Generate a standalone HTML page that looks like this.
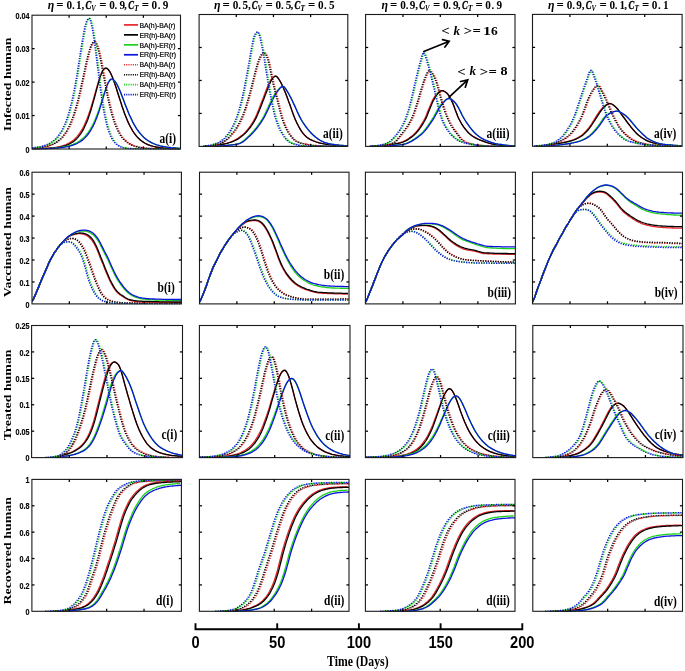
<!DOCTYPE html>
<html><head><meta charset="utf-8"><style>html,body{margin:0;padding:0;background:#fff;overflow:hidden}svg{display:block;will-change:transform}</style></head>
<body><svg width="685" height="671" viewBox="0 0 685 671">
<rect width="685" height="671" fill="#fff"/>
<clipPath id="cp00"><rect x="32.0" y="14.2" width="148.5" height="135.3"/></clipPath>
<g clip-path="url(#cp00)" fill="none" stroke-linejoin="round">
<path d="M32,148.8 34.7,148.8 36.1,148.7 37.4,148.7 38.8,148.6 40.2,148.6 41.5,148.5 42.9,148.5 44.3,148.4 45.6,148.3 47,148.2 48.3,148.1 49.7,148 51.1,147.9 52.4,147.7 53.8,147.6 55.2,147.4 56.5,147.2 57.9,146.9 59.2,146.6 60.6,146.3 62,145.9 63.3,145.5 64.7,145 66.1,144.5 67.4,143.9 68.8,143.2 70.1,142.4 71.5,141.5 72.9,140.5 74.2,139.4 75.6,138.1 77,136.6 78.3,135 79.7,133.2 81,131.1 82.4,128.8 83.8,126.2 85.1,123.3 86.5,120.1 87.9,116.6 89.2,112.8 90.6,108.6 91.9,104.2 93.3,99.6 94.7,94.8 96,89.9 97.4,85.2 98.8,80.7 100.1,76.6 101.5,73.2 102.8,70.5 104.2,68.9 105.6,68.3 106.9,68.6 108.3,69.8 109.7,71.7 111,74.2 112.4,77.3 113.7,80.9 115.1,84.8 116.5,88.9 117.8,93.2 119.2,97.5 120.6,101.8 121.9,105.9 123.3,109.9 124.6,113.7 126,117.2 127.4,120.5 128.7,123.5 130.1,126.3 131.5,128.8 132.8,131.1 134.2,133.1 135.5,135 136.9,136.6 138.3,138.1 139.6,139.4 141,140.5 142.4,141.6 143.7,142.5 145.1,143.3 146.4,144 147.8,144.6 149.2,145.1 150.5,145.6 151.9,146 153.3,146.4 154.6,146.7 156,147 157.3,147.3 158.7,147.5 160.1,147.7 161.4,147.8 162.8,148 164.2,148.1 165.5,148.2 166.9,148.3 168.2,148.4 169.6,148.5 171,148.5 172.3,148.6 173.7,148.6 175.1,148.7 176.4,148.7 177.8,148.8 180.5,148.8" stroke="#e8262a" stroke-width="1.3"/>
<path d="M32,148.9 33.4,148.9 34.7,148.8 38.8,148.8 40.2,148.7 41.5,148.7 42.9,148.6 44.3,148.6 45.6,148.5 47,148.5 48.3,148.4 49.7,148.3 51.1,148.2 52.4,148.1 53.8,147.9 55.2,147.8 56.5,147.6 57.9,147.4 59.2,147.2 60.6,146.9 62,146.6 63.3,146.2 64.7,145.8 66.1,145.4 67.4,144.9 68.8,144.3 70.1,143.6 71.5,142.8 72.9,141.9 74.2,140.9 75.6,139.7 77,138.4 78.3,136.9 79.7,135.2 81,133.3 82.4,131.1 83.8,128.6 85.1,125.8 86.5,122.7 87.9,119.3 89.2,115.4 90.6,111.3 91.9,106.8 93.3,101.9 94.7,96.9 96,91.8 97.4,86.6 98.8,81.7 100.1,77.3 101.5,73.4 102.8,70.5 104.2,68.6 105.6,68 106.9,68.3 108.3,69.5 109.7,71.4 111,73.9 112.4,77 113.7,80.6 115.1,84.5 116.5,88.7 117.8,93 119.2,97.3 120.6,101.6 121.9,105.8 123.3,109.8 124.6,113.6 126,117.1 127.4,120.4 128.7,123.4 130.1,126.2 131.5,128.7 132.8,131 134.2,133.1 135.5,134.9 136.9,136.6 138.3,138 139.6,139.3 141,140.5 142.4,141.5 143.7,142.4 145.1,143.2 146.4,143.9 147.8,144.6 149.2,145.1 150.5,145.6 151.9,146 153.3,146.4 154.6,146.7 156,147 157.3,147.2 158.7,147.5 160.1,147.7 161.4,147.8 162.8,148 164.2,148.1 165.5,148.2 166.9,148.3 168.2,148.4 169.6,148.5 171,148.5 172.3,148.6 173.7,148.6 175.1,148.7 176.4,148.7 177.8,148.8 180.5,148.8" stroke="#000000" stroke-width="1.3"/>
<path d="M32,148.9 33.4,148.8 37.4,148.8 38.8,148.7 41.5,148.7 42.9,148.6 44.3,148.6 45.6,148.5 47,148.5 48.3,148.4 49.7,148.4 51.1,148.3 52.4,148.2 53.8,148.1 55.2,148 56.5,147.8 57.9,147.7 59.2,147.5 60.6,147.4 62,147.2 63.3,146.9 64.7,146.7 66.1,146.4 67.4,146.1 68.8,145.7 70.1,145.3 71.5,144.9 72.9,144.4 74.2,143.8 75.6,143.2 77,142.5 78.3,141.7 79.7,140.8 81,139.8 82.4,138.7 83.8,137.5 85.1,136.1 86.5,134.5 87.9,132.8 89.2,130.8 90.6,128.6 91.9,126.2 93.3,123.5 94.7,120.6 96,117.3 97.4,113.8 98.8,110 100.1,106 101.5,101.7 102.8,97.4 104.2,93.1 105.6,89.1 106.9,85.5 108.3,82.5 109.7,80.5 111,79.4 112.4,79.5 113.7,80.3 115.1,81.7 116.5,83.7 117.8,86.3 119.2,89.2 120.6,92.5 121.9,96 123.3,99.5 124.6,103.1 126,106.7 127.4,110.1 128.7,113.4 130.1,116.5 131.5,119.4 132.8,122.2 134.2,124.7 135.5,127 136.9,129.2 138.3,131.1 139.6,132.9 141,134.5 142.4,136 143.7,137.3 145.1,138.5 146.4,139.5 147.8,140.5 149.2,141.4 150.5,142.2 151.9,142.9 153.3,143.5 154.6,144.1 156,144.6 157.3,145 158.7,145.4 160.1,145.8 161.4,146.1 162.8,146.4 164.2,146.7 165.5,146.9 166.9,147.2 168.2,147.3 169.6,147.5 171,147.7 172.3,147.8 173.7,147.9 175.1,148 176.4,148.1 177.8,148.2 179.1,148.3 180.5,148.4" stroke="#1ad21a" stroke-width="1.3"/>
<path d="M32,148.9 36.1,148.9 37.4,148.8 41.5,148.8 42.9,148.7 45.6,148.7 47,148.6 48.3,148.6 49.7,148.5 51.1,148.5 52.4,148.4 53.8,148.3 55.2,148.2 56.5,148.1 57.9,148 59.2,147.9 60.6,147.7 62,147.6 63.3,147.4 64.7,147.2 66.1,146.9 67.4,146.7 68.8,146.4 70.1,146 71.5,145.6 72.9,145.2 74.2,144.7 75.6,144.2 77,143.5 78.3,142.8 79.7,142 81,141.1 82.4,140.1 83.8,138.9 85.1,137.6 86.5,136.2 87.9,134.5 89.2,132.7 90.6,130.6 91.9,128.2 93.3,125.6 94.7,122.7 96,119.5 97.4,115.9 98.8,112 100.1,107.9 101.5,103.4 102.8,98.9 104.2,94.3 105.6,89.9 106.9,85.9 108.3,82.6 109.7,80.3 111,79.1 112.4,79.2 113.7,80 115.1,81.4 116.5,83.5 117.8,86 119.2,89 120.6,92.3 121.9,95.7 123.3,99.3 124.6,102.9 126,106.5 127.4,109.9 128.7,113.2 130.1,116.4 131.5,119.3 132.8,122.1 134.2,124.6 135.5,126.9 136.9,129.1 138.3,131 139.6,132.8 141,134.4 142.4,135.9 143.7,137.2 145.1,138.4 146.4,139.5 147.8,140.5 149.2,141.3 150.5,142.1 151.9,142.8 153.3,143.5 154.6,144 156,144.6 157.3,145 158.7,145.4 160.1,145.8 161.4,146.1 162.8,146.4 164.2,146.7 165.5,146.9 166.9,147.1 168.2,147.3 169.6,147.5 171,147.7 172.3,147.8 173.7,147.9 175.1,148 176.4,148.1 177.8,148.2 179.1,148.3 180.5,148.4" stroke="#0b14dc" stroke-width="1.3"/>
<path d="M33,148.3 34.4,148.2 35.7,148.1 37.1,148 38.4,147.9 39.8,147.7 41.2,147.5 42.5,147.3 43.9,147.1 45.3,146.8 46.6,146.5 48,146.2 49.3,145.8 50.7,145.3 52.1,144.8 53.4,144.3 54.8,143.6 56.2,142.8 57.5,142 58.9,141 60.2,139.9 61.6,138.7 63,137.3 64.3,135.7 65.7,133.9 67.1,131.8 68.4,129.5 69.8,126.9 71.1,124 72.5,120.7 73.9,117.1 75.2,113 76.6,108.5 78,103.7 79.3,98.4 80.7,92.7 82,86.6 83.4,80.4 84.8,74 86.1,67.6 87.5,61.4 88.9,55.7 90.2,50.7 91.6,46.6 92.9,43.6 94.3,42 95.7,41.8 97,43.5 98.4,46.8 99.8,51.7 101.1,57.7 102.5,64.6 103.8,71.9 105.2,79.3 106.6,86.6 107.9,93.6 109.3,100.1 110.7,106.1 112,111.5 113.4,116.4 114.7,120.7 116.1,124.5 117.5,127.8 118.8,130.7 120.2,133.3 121.6,135.5 122.9,137.4 124.3,139 125.6,140.4 127,141.6 128.4,142.7 129.7,143.6 131.1,144.4 132.5,145 133.8,145.6 135.2,146.1 136.5,146.5 137.9,146.8 139.3,147.2 140.6,147.4 142,147.6 143.4,147.8 144.7,148 146.1,148.1 147.4,148.3 148.8,148.4 150.2,148.5 151.5,148.5 152.9,148.6 154.3,148.7 155.6,148.7 157,148.8 161.1,148.8 162.4,148.9 170.6,148.9 172,149 181.5,149" stroke="#e8262a" stroke-width="1.5" stroke-dasharray="1.2 1.3"/>
<path d="M32,148.3 33.4,148.2 34.7,148.1 36.1,148 37.4,147.9 38.8,147.7 40.2,147.5 41.5,147.3 42.9,147.1 44.3,146.8 45.6,146.5 47,146.2 48.3,145.8 49.7,145.3 51.1,144.8 52.4,144.3 53.8,143.6 55.2,142.8 56.5,142 57.9,141 59.2,139.9 60.6,138.7 62,137.3 63.3,135.7 64.7,133.9 66.1,131.8 67.4,129.5 68.8,126.9 70.1,124 71.5,120.7 72.9,117.1 74.2,113 75.6,108.5 77,103.7 78.3,98.4 79.7,92.7 81,86.6 82.4,80.4 83.8,74 85.1,67.6 86.5,61.4 87.9,55.7 89.2,50.7 90.6,46.6 91.9,43.6 93.3,42 94.7,41.8 96,43.5 97.4,46.8 98.8,51.7 100.1,57.7 101.5,64.6 102.8,71.9 104.2,79.3 105.6,86.6 106.9,93.6 108.3,100.1 109.7,106.1 111,111.5 112.4,116.4 113.7,120.7 115.1,124.5 116.5,127.8 117.8,130.7 119.2,133.3 120.6,135.5 121.9,137.4 123.3,139 124.6,140.4 126,141.6 127.4,142.7 128.7,143.6 130.1,144.4 131.5,145 132.8,145.6 134.2,146.1 135.5,146.5 136.9,146.8 138.3,147.2 139.6,147.4 141,147.6 142.4,147.8 143.7,148 145.1,148.1 146.4,148.3 147.8,148.4 149.2,148.5 150.5,148.5 151.9,148.6 153.3,148.7 154.6,148.7 156,148.8 160.1,148.8 161.4,148.9 169.6,148.9 171,149 180.5,149" stroke="#000000" stroke-width="1.5" stroke-dasharray="1.2 1.3"/>
<path d="M33,148 34.4,147.8 35.7,147.6 37.1,147.5 38.4,147.2 39.8,147 41.2,146.7 42.5,146.4 43.9,146 45.3,145.6 46.6,145.1 48,144.6 49.3,143.9 50.7,143.2 52.1,142.4 53.4,141.5 54.8,140.4 56.2,139.2 57.5,137.9 58.9,136.3 60.2,134.5 61.6,132.5 63,130.2 64.3,127.5 65.7,124.5 67.1,121.2 68.4,117.3 69.8,113 71.1,108.1 72.5,102.7 73.9,96.6 75.2,89.9 76.6,82.6 78,74.6 79.3,66.2 80.7,57.5 82,48.8 83.4,40.3 84.8,32.6 86.1,26.1 87.5,21.4 88.9,18.7 90.2,18.4 91.6,21 92.9,26.5 94.3,34.2 95.7,43.8 97,54.4 98.4,65.6 99.8,76.6 101.1,87.2 102.5,96.9 103.8,105.7 105.2,113.3 106.6,119.9 107.9,125.5 109.3,130.1 110.7,133.9 112,137 113.4,139.5 114.7,141.5 116.1,143.1 117.5,144.4 118.8,145.4 120.2,146.2 121.6,146.8 122.9,147.3 124.3,147.7 125.6,148 127,148.2 128.4,148.4 129.7,148.5 131.1,148.6 132.5,148.7 133.8,148.8 135.2,148.8 136.5,148.9 140.6,148.9 142,149 181.5,149" stroke="#1ad21a" stroke-width="1.5" stroke-dasharray="1.2 1.3"/>
<path d="M32,148 33.4,147.8 34.7,147.6 36.1,147.5 37.4,147.2 38.8,147 40.2,146.7 41.5,146.4 42.9,146 44.3,145.6 45.6,145.1 47,144.6 48.3,143.9 49.7,143.2 51.1,142.4 52.4,141.5 53.8,140.4 55.2,139.2 56.5,137.9 57.9,136.3 59.2,134.5 60.6,132.5 62,130.2 63.3,127.5 64.7,124.5 66.1,121.2 67.4,117.3 68.8,113 70.1,108.1 71.5,102.7 72.9,96.6 74.2,89.9 75.6,82.6 77,74.6 78.3,66.2 79.7,57.5 81,48.8 82.4,40.3 83.8,32.6 85.1,26.1 86.5,21.4 87.9,18.7 89.2,18.4 90.6,21 91.9,26.5 93.3,34.2 94.7,43.8 96,54.4 97.4,65.6 98.8,76.6 100.1,87.2 101.5,96.9 102.8,105.7 104.2,113.3 105.6,119.9 106.9,125.5 108.3,130.1 109.7,133.9 111,137 112.4,139.5 113.7,141.5 115.1,143.1 116.5,144.4 117.8,145.4 119.2,146.2 120.6,146.8 121.9,147.3 123.3,147.7 124.6,148 126,148.2 127.4,148.4 128.7,148.5 130.1,148.6 131.5,148.7 132.8,148.8 134.2,148.8 135.5,148.9 139.6,148.9 141,149 180.5,149" stroke="#0b14dc" stroke-width="1.5" stroke-dasharray="1.2 1.3"/>
</g>
<rect x="32.0" y="15.2" width="148.50" height="133.80" fill="none" stroke="#1a1a1a" stroke-width="1.1"/>
<line x1="69.12" y1="15.2" x2="69.12" y2="17.8" stroke="#000" stroke-width="1.25"/>
<line x1="69.12" y1="149.0" x2="69.12" y2="146.4" stroke="#000" stroke-width="1.25"/>
<line x1="106.25" y1="15.2" x2="106.25" y2="17.8" stroke="#000" stroke-width="1.25"/>
<line x1="106.25" y1="149.0" x2="106.25" y2="146.4" stroke="#000" stroke-width="1.25"/>
<line x1="143.38" y1="15.2" x2="143.38" y2="17.8" stroke="#000" stroke-width="1.25"/>
<line x1="143.38" y1="149.0" x2="143.38" y2="146.4" stroke="#000" stroke-width="1.25"/>
<line x1="32.0" y1="115.55" x2="34.6" y2="115.55" stroke="#000" stroke-width="1.25"/>
<line x1="180.5" y1="115.55" x2="177.9" y2="115.55" stroke="#000" stroke-width="1.25"/>
<line x1="32.0" y1="82.10" x2="34.6" y2="82.10" stroke="#000" stroke-width="1.25"/>
<line x1="180.5" y1="82.10" x2="177.9" y2="82.10" stroke="#000" stroke-width="1.25"/>
<line x1="32.0" y1="48.65" x2="34.6" y2="48.65" stroke="#000" stroke-width="1.25"/>
<line x1="180.5" y1="48.65" x2="177.9" y2="48.65" stroke="#000" stroke-width="1.25"/>
<text x="0" y="0" transform="translate(29.5,152.60) scale(0.82,1)" text-anchor="end" font-family='"Liberation Sans", sans-serif' font-weight="bold" font-size="8.8" stroke="#000" stroke-width="0.15">0</text>
<text x="0" y="0" transform="translate(29.5,119.15) scale(0.82,1)" text-anchor="end" font-family='"Liberation Sans", sans-serif' font-weight="bold" font-size="8.8" stroke="#000" stroke-width="0.15">0.01</text>
<text x="0" y="0" transform="translate(29.5,85.70) scale(0.82,1)" text-anchor="end" font-family='"Liberation Sans", sans-serif' font-weight="bold" font-size="8.8" stroke="#000" stroke-width="0.15">0.02</text>
<text x="0" y="0" transform="translate(29.5,52.25) scale(0.82,1)" text-anchor="end" font-family='"Liberation Sans", sans-serif' font-weight="bold" font-size="8.8" stroke="#000" stroke-width="0.15">0.03</text>
<text x="0" y="0" transform="translate(29.5,18.80) scale(0.82,1)" text-anchor="end" font-family='"Liberation Sans", sans-serif' font-weight="bold" font-size="8.8" stroke="#000" stroke-width="0.15">0.04</text>
<text transform="translate(176.10,142.60) scale(0.83,1)" text-anchor="end" font-family='"Liberation Serif", serif' font-weight="bold" font-size="13.8">a(i)</text>
<clipPath id="cp01"><rect x="199.1" y="13.5" width="148.70000000000002" height="133.4"/></clipPath>
<g clip-path="url(#cp01)" fill="none" stroke-linejoin="round">
<path d="M204,146.2 205.3,146.2 206.6,146.1 208,146 209.3,145.9 210.6,145.8 211.9,145.7 213.2,145.6 214.6,145.4 215.9,145.2 217.2,145.1 218.5,144.9 219.8,144.7 221.2,144.5 222.5,144.2 223.8,143.9 225.1,143.6 226.4,143.3 227.7,142.9 229.1,142.5 230.4,142 231.7,141.6 233,141 234.3,140.4 235.7,139.7 237,138.9 238.3,138.1 239.6,137.1 240.9,136.1 242.3,135 243.6,133.9 244.9,132.6 246.2,131.1 247.5,129.6 248.9,127.9 250.2,126.1 251.5,124.1 252.8,122 254.1,119.7 255.5,117.2 256.8,114.3 258.1,111.1 259.4,107.8 260.7,104.3 262,100.9 263.4,97.5 264.7,94 266,90.6 267.3,87.2 268.6,84 270,81.2 271.3,79.2 272.6,77.8 273.9,76.7 275.2,76.2 276.6,76.4 277.9,77.8 279.2,79.8 280.5,82 281.8,84.6 283.2,87.4 284.5,90.4 285.8,93.7 287.1,97.2 288.4,100.8 289.8,104.5 291.1,108.3 292.4,112.1 293.7,115.6 295,118.9 296.3,121.8 297.7,124.5 299,127 300.3,129.3 301.6,131.4 302.9,133.2 304.3,134.8 305.6,136.1 306.9,137.3 308.2,138.2 309.5,139 310.9,139.7 312.2,140.3 313.5,140.9 314.8,141.4 316.1,141.9 317.5,142.3 318.8,142.7 320.1,143.1 321.4,143.4 322.7,143.6 324.1,143.9 325.4,144.1 326.7,144.3 328,144.4 329.3,144.6 330.6,144.8 332,144.9 333.3,145 334.6,145.2 335.9,145.3 337.2,145.4 338.6,145.5 339.9,145.6 341.2,145.8 342.5,145.9 343.8,145.9 345.2,146 346.5,146.1 347.8,146.2" stroke="#e8262a" stroke-width="1.3"/>
<path d="M205,146.2 206.3,146.2 207.6,146.1 208.9,146 210.2,145.9 211.6,145.8 212.9,145.7 214.2,145.6 215.5,145.4 216.8,145.3 218.1,145.1 219.4,144.9 220.7,144.7 222,144.5 223.3,144.2 224.7,144 226,143.6 227.3,143.3 228.6,142.9 229.9,142.5 231.2,142.1 232.5,141.6 233.8,141.1 235.1,140.5 236.4,139.8 237.8,139.1 239.1,138.2 240.4,137.3 241.7,136.3 243,135.3 244.3,134.1 245.6,132.9 246.9,131.5 248.2,129.9 249.5,128.3 250.9,126.5 252.2,124.6 253.5,122.6 254.8,120.4 256.1,117.9 257.4,115.1 258.7,112 260,108.8 261.3,105.4 262.6,102 264,98.5 265.3,95.1 266.6,91.7 267.9,88.3 269.2,85.1 270.5,82 271.8,79.6 273.1,77.9 274.4,76.6 275.7,76.1 277.1,76.8 278.4,78.5 279.7,80.5 281,82.8 282.3,85.5 283.6,88.4 284.9,91.5 286.2,94.8 287.5,98.3 288.8,101.9 290.2,105.6 291.5,109.4 292.8,113.1 294.1,116.6 295.4,119.7 296.7,122.6 298,125.2 299.3,127.6 300.6,129.9 301.9,131.9 303.3,133.6 304.6,135.1 305.9,136.4 307.2,137.5 308.5,138.4 309.8,139.2 311.1,139.9 312.4,140.5 313.7,141 315,141.5 316.4,142 317.7,142.4 319,142.8 320.3,143.1 321.6,143.4 322.9,143.7 324.2,143.9 325.5,144.1 326.8,144.3 328.1,144.5 329.5,144.6 330.8,144.8 332.1,144.9 333.4,145.1 334.7,145.2 336,145.3 337.3,145.4 338.6,145.5 339.9,145.6 341.2,145.8 342.6,145.9 343.9,145.9 345.2,146 346.5,146.1 347.8,146.2" stroke="#000000" stroke-width="1.3"/>
<path d="M209,146.2 212.8,146.2 214.1,146.1 215.4,146.1 216.6,146 217.9,146 219.2,145.9 220.5,145.8 221.7,145.8 223,145.7 224.3,145.6 225.6,145.5 226.8,145.3 228.1,145.2 229.4,145.1 230.6,144.9 231.9,144.8 233.2,144.6 234.5,144.4 235.7,144.2 237,144 238.3,143.7 239.6,143.2 240.8,142.5 242.1,141.7 243.4,140.7 244.7,139.7 245.9,138.5 247.2,137.4 248.5,136.2 249.7,134.9 251,133.7 252.3,132.3 253.6,130.9 254.8,129.4 256.1,127.9 257.4,126.2 258.7,124.4 259.9,122.6 261.2,120.6 262.5,118.5 263.8,116.2 265,113.7 266.3,111 267.6,108.2 268.8,105.5 270.1,102.8 271.4,100.3 272.7,97.8 273.9,95.4 275.2,93.4 276.5,91.6 277.8,90 279,88.7 280.3,87.5 281.6,86.7 282.9,86.4 284.1,86.9 285.4,88.4 286.7,90.4 288,92.5 289.2,94.7 290.5,97.1 291.8,99.6 293,102.3 294.3,105.1 295.6,107.9 296.9,110.7 298.1,113.6 299.4,116.2 300.7,118.7 302,120.9 303.2,122.9 304.5,124.8 305.8,126.6 307.1,128.2 308.3,129.8 309.6,131.3 310.9,132.7 312.1,134 313.4,135.2 314.7,136.4 316,137.5 317.2,138.4 318.5,139.3 319.8,140 321.1,140.8 322.3,141.4 323.6,142 324.9,142.5 326.2,142.9 327.4,143.2 328.7,143.5 330,143.8 331.2,144 332.5,144.3 333.8,144.5 335.1,144.6 336.3,144.8 337.6,145 338.9,145.1 340.2,145.3 341.4,145.4 342.7,145.5 344,145.7 345.3,145.8 346.5,145.9 347.8,145.9" stroke="#1ad21a" stroke-width="1.3"/>
<path d="M210,146.2 213.8,146.2 215.1,146.1 216.3,146.1 217.6,146 218.8,146 220.1,145.9 221.4,145.8 222.6,145.8 223.9,145.7 225.2,145.6 226.4,145.5 227.7,145.3 229,145.2 230.2,145.1 231.5,144.9 232.8,144.8 234,144.6 235.3,144.5 236.5,144.3 237.8,144 239.1,143.7 240.3,143.3 241.6,142.6 242.9,141.9 244.1,140.9 245.4,139.9 246.7,138.8 247.9,137.6 249.2,136.4 250.5,135.2 251.7,134 253,132.7 254.2,131.3 255.5,129.8 256.8,128.3 258,126.7 259.3,124.9 260.6,123.1 261.8,121.2 263.1,119.2 264.4,116.9 265.6,114.5 266.9,111.9 268.2,109.2 269.4,106.4 270.7,103.7 271.9,101.2 273.2,98.7 274.5,96.3 275.7,94.1 277,92.1 278.3,90.4 279.5,88.8 280.8,87.4 282.1,86.6 283.3,86.5 284.6,87.4 285.9,89.1 287.1,91.1 288.4,93.2 289.6,95.5 290.9,97.9 292.2,100.5 293.4,103.2 294.7,105.9 296,108.7 297.2,111.6 298.5,114.3 299.8,116.9 301,119.3 302.3,121.5 303.6,123.4 304.8,125.2 306.1,127 307.3,128.6 308.6,130.1 309.9,131.6 311.1,133 312.4,134.3 313.7,135.5 314.9,136.6 316.2,137.6 317.5,138.6 318.7,139.4 320,140.2 321.3,140.9 322.5,141.5 323.8,142.1 325,142.6 326.3,142.9 327.6,143.3 328.8,143.6 330.1,143.8 331.4,144.1 332.6,144.3 333.9,144.5 335.2,144.7 336.4,144.8 337.7,145 339,145.1 340.2,145.3 341.5,145.4 342.7,145.5 344,145.7 345.3,145.8 346.5,145.9 347.8,145.9" stroke="#0b14dc" stroke-width="1.3"/>
<path d="M206,146.2 207.3,146.1 208.6,146.1 209.9,145.9 211.2,145.8 212.6,145.6 213.9,145.3 215.2,145 216.5,144.7 217.8,144.4 219.1,144 220.4,143.6 221.7,143.1 223,142.6 224.3,141.9 225.7,141 227,140 228.3,138.8 229.6,137.5 230.9,136.1 232.2,134.7 233.5,133.2 234.8,131.5 236.1,129.7 237.4,127.7 238.8,125.5 240.1,123.2 241.4,120.7 242.7,117.8 244,114.7 245.3,111.2 246.6,107.4 247.9,103.3 249.2,98.9 250.5,94.1 251.9,89 253.2,83.8 254.5,78.5 255.8,73.3 257.1,68.3 258.4,63.8 259.7,60.1 261,57.1 262.3,54.6 263.6,52.9 265,52.4 266.3,53.7 267.6,56.3 268.9,59.9 270.2,65.1 271.5,71.6 272.8,77.9 274.1,83.9 275.4,89.3 276.7,94.5 278.1,99.6 279.4,104.9 280.7,110.2 282,115.1 283.3,119.4 284.6,123.1 285.9,126.2 287.2,129 288.5,131.5 289.8,133.6 291.2,135.5 292.5,137.1 293.8,138.6 295.1,139.9 296.4,140.9 297.7,141.7 299,142.2 300.3,142.7 301.6,143.1 302.9,143.5 304.3,143.8 305.6,144.1 306.9,144.3 308.2,144.6 309.5,144.8 310.8,144.9 312.1,145.1 313.4,145.3 314.7,145.4 316,145.5 317.4,145.7 318.7,145.8 320,145.9 321.3,146 322.6,146.1 323.9,146.1 325.2,146.2 329.1,146.2 330.5,146.3 337,146.3 338.3,146.4 348.8,146.4" stroke="#e8262a" stroke-width="1.5" stroke-dasharray="1.2 1.3"/>
<path d="M205,146.2 206.3,146.1 207.6,146.1 208.9,145.9 210.2,145.8 211.6,145.6 212.9,145.3 214.2,145 215.5,144.7 216.8,144.4 218.1,144 219.4,143.6 220.7,143.1 222,142.6 223.3,141.9 224.7,141 226,140 227.3,138.8 228.6,137.5 229.9,136.1 231.2,134.7 232.5,133.2 233.8,131.5 235.1,129.7 236.4,127.7 237.8,125.5 239.1,123.2 240.4,120.7 241.7,117.8 243,114.7 244.3,111.2 245.6,107.4 246.9,103.3 248.2,98.9 249.5,94.1 250.9,89 252.2,83.8 253.5,78.5 254.8,73.3 256.1,68.3 257.4,63.8 258.7,60.1 260,57.1 261.3,54.6 262.6,52.9 264,52.4 265.3,53.7 266.6,56.3 267.9,59.9 269.2,65.1 270.5,71.6 271.8,77.9 273.1,83.9 274.4,89.3 275.7,94.5 277.1,99.6 278.4,104.9 279.7,110.2 281,115.1 282.3,119.4 283.6,123.1 284.9,126.2 286.2,129 287.5,131.5 288.8,133.6 290.2,135.5 291.5,137.1 292.8,138.6 294.1,139.9 295.4,140.9 296.7,141.7 298,142.2 299.3,142.7 300.6,143.1 301.9,143.5 303.3,143.8 304.6,144.1 305.9,144.3 307.2,144.6 308.5,144.8 309.8,144.9 311.1,145.1 312.4,145.3 313.7,145.4 315,145.5 316.4,145.7 317.7,145.8 319,145.9 320.3,146 321.6,146.1 322.9,146.1 324.2,146.2 328.1,146.2 329.5,146.3 336,146.3 337.3,146.4 347.8,146.4" stroke="#000000" stroke-width="1.5" stroke-dasharray="1.2 1.3"/>
<path d="M204,146.2 205.3,146.1 206.7,146 208,145.9 209.3,145.6 210.6,145.4 212,145.1 213.3,144.7 214.6,144.3 216,143.9 217.3,143.4 218.6,142.9 219.9,142.3 221.3,141.5 222.6,140.5 223.9,139.4 225.3,138.2 226.6,136.8 227.9,135.3 229.2,133.7 230.6,131.8 231.9,129.6 233.2,127.2 234.6,124.6 235.9,121.7 237.2,118.4 238.5,114.7 239.9,110.5 241.2,105.8 242.5,100.6 243.9,94.8 245.2,88.3 246.5,81.5 247.8,74.5 249.2,67.2 250.5,59.7 251.8,51.9 253.2,44.3 254.5,38.2 255.8,34.7 257.1,32.6 258.5,31.8 259.8,33.7 261.1,37.9 262.5,44.6 263.8,50.9 265.1,58.5 266.4,66.7 267.8,75.2 269.1,83.4 270.4,90.8 271.8,97.6 273.1,104.1 274.4,110.2 275.7,115.6 277.1,120.2 278.4,124 279.7,127.2 281,130.1 282.4,132.5 283.7,134.7 285,136.7 286.4,138.4 287.7,140 289,141.2 290.3,142.2 291.7,142.9 293,143.4 294.3,143.8 295.7,144.3 297,144.6 298.3,144.9 299.6,145.2 301,145.5 302.3,145.7 303.6,145.8 305,145.9 306.3,146 307.6,146.1 310.3,146.1 311.6,146.2 315.6,146.2 316.9,146.3 328.9,146.3 330.2,146.4 348.8,146.4" stroke="#1ad21a" stroke-width="1.5" stroke-dasharray="1.2 1.3"/>
<path d="M203,146.2 204.3,146.1 205.7,146 207,145.9 208.3,145.6 209.6,145.4 211,145.1 212.3,144.7 213.6,144.3 215,143.9 216.3,143.4 217.6,142.9 218.9,142.3 220.3,141.5 221.6,140.5 222.9,139.4 224.3,138.2 225.6,136.8 226.9,135.3 228.2,133.7 229.6,131.8 230.9,129.6 232.2,127.2 233.6,124.6 234.9,121.7 236.2,118.4 237.5,114.7 238.9,110.5 240.2,105.8 241.5,100.6 242.9,94.8 244.2,88.3 245.5,81.5 246.8,74.5 248.2,67.2 249.5,59.7 250.8,51.9 252.2,44.3 253.5,38.2 254.8,34.7 256.1,32.6 257.5,31.8 258.8,33.7 260.1,37.9 261.5,44.6 262.8,50.9 264.1,58.5 265.4,66.7 266.8,75.2 268.1,83.4 269.4,90.8 270.8,97.6 272.1,104.1 273.4,110.2 274.7,115.6 276.1,120.2 277.4,124 278.7,127.2 280,130.1 281.4,132.5 282.7,134.7 284,136.7 285.4,138.4 286.7,140 288,141.2 289.3,142.2 290.7,142.9 292,143.4 293.3,143.8 294.7,144.3 296,144.6 297.3,144.9 298.6,145.2 300,145.5 301.3,145.7 302.6,145.8 304,145.9 305.3,146 306.6,146.1 309.3,146.1 310.6,146.2 314.6,146.2 315.9,146.3 327.9,146.3 329.2,146.4 347.8,146.4" stroke="#0b14dc" stroke-width="1.5" stroke-dasharray="1.2 1.3"/>
</g>
<rect x="199.1" y="14.5" width="148.70" height="131.90" fill="none" stroke="#1a1a1a" stroke-width="1.1"/>
<line x1="236.28" y1="14.5" x2="236.28" y2="17.1" stroke="#000" stroke-width="1.25"/>
<line x1="236.28" y1="146.4" x2="236.28" y2="143.8" stroke="#000" stroke-width="1.25"/>
<line x1="273.45" y1="14.5" x2="273.45" y2="17.1" stroke="#000" stroke-width="1.25"/>
<line x1="273.45" y1="146.4" x2="273.45" y2="143.8" stroke="#000" stroke-width="1.25"/>
<line x1="310.62" y1="14.5" x2="310.62" y2="17.1" stroke="#000" stroke-width="1.25"/>
<line x1="310.62" y1="146.4" x2="310.62" y2="143.8" stroke="#000" stroke-width="1.25"/>
<line x1="199.1" y1="113.43" x2="201.7" y2="113.43" stroke="#000" stroke-width="1.25"/>
<line x1="347.8" y1="113.43" x2="345.2" y2="113.43" stroke="#000" stroke-width="1.25"/>
<line x1="199.1" y1="80.45" x2="201.7" y2="80.45" stroke="#000" stroke-width="1.25"/>
<line x1="347.8" y1="80.45" x2="345.2" y2="80.45" stroke="#000" stroke-width="1.25"/>
<line x1="199.1" y1="47.48" x2="201.7" y2="47.48" stroke="#000" stroke-width="1.25"/>
<line x1="347.8" y1="47.48" x2="345.2" y2="47.48" stroke="#000" stroke-width="1.25"/>
<text transform="translate(342.70,137.70) scale(0.83,1)" text-anchor="end" font-family='"Liberation Serif", serif' font-weight="bold" font-size="13.8">a(ii)</text>
<clipPath id="cp02"><rect x="365.6" y="13.5" width="149.39999999999998" height="133.4"/></clipPath>
<g clip-path="url(#cp02)" fill="none" stroke-linejoin="round">
<path d="M369,146.3 370.3,146.3 371.7,146.2 373,146.1 374.4,146.1 375.7,146 377,145.9 378.4,145.8 379.7,145.6 381.1,145.5 382.4,145.4 383.7,145.3 385.1,145.1 386.4,145 387.8,144.8 389.1,144.7 390.4,144.5 391.8,144.3 393.1,144.1 394.4,143.9 395.8,143.6 397.1,143.3 398.5,143 399.8,142.7 401.1,142.3 402.5,141.9 403.8,141.3 405.2,140.7 406.5,139.9 407.8,139.1 409.2,138.1 410.5,137.1 411.9,136.1 413.2,134.9 414.5,133.6 415.9,132.2 417.2,130.6 418.6,128.8 419.9,126.9 421.2,124.9 422.6,122.7 423.9,120.3 425.3,117.6 426.6,114.5 427.9,111.1 429.3,107.7 430.6,104.4 432,101.4 433.3,98.8 434.6,96.6 436,94.8 437.3,93.3 438.7,92.1 440,91.1 441.3,90.6 442.7,90.7 444,91.2 445.3,92 446.7,93 448,94.5 449.4,96.4 450.7,98.7 452,101.5 453.4,104.7 454.7,108.2 456.1,111.9 457.4,115.4 458.7,118.5 460.1,121.2 461.4,123.5 462.8,125.6 464.1,127.5 465.4,129.3 466.8,130.9 468.1,132.4 469.5,133.7 470.8,134.8 472.1,135.8 473.5,136.7 474.8,137.5 476.2,138.2 477.5,138.9 478.8,139.5 480.2,140.1 481.5,140.6 482.9,141.1 484.2,141.6 485.5,142.1 486.9,142.5 488.2,142.9 489.6,143.3 490.9,143.6 492.2,143.9 493.6,144.2 494.9,144.5 496.2,144.7 497.6,144.9 498.9,145.1 500.3,145.3 501.6,145.5 502.9,145.6 504.3,145.8 505.6,145.9 507,146 508.3,146 509.6,146.1 511,146.2 512.3,146.2 513.7,146.3 515,146.3" stroke="#e8262a" stroke-width="1.3"/>
<path d="M370,146.3 371.3,146.3 372.7,146.2 374,146.1 375.3,146.1 376.7,146 378,145.9 379.3,145.8 380.6,145.7 382,145.5 383.3,145.4 384.6,145.3 386,145.1 387.3,145 388.6,144.8 390,144.7 391.3,144.5 392.6,144.3 393.9,144.1 395.3,143.9 396.6,143.6 397.9,143.4 399.3,143.1 400.6,142.8 401.9,142.4 403.3,142 404.6,141.4 405.9,140.8 407.2,140.1 408.6,139.3 409.9,138.3 411.2,137.4 412.6,136.3 413.9,135.2 415.2,133.9 416.6,132.6 417.9,131 419.2,129.3 420.6,127.4 421.9,125.4 423.2,123.3 424.5,121 425.9,118.4 427.2,115.4 428.5,112.1 429.9,108.7 431.2,105.4 432.5,102.3 433.9,99.6 435.2,97.3 436.5,95.3 437.8,93.7 439.2,92.2 440.5,91 441.8,90.6 443.2,90.9 444.5,91.5 445.8,92.3 447.2,93.4 448.5,95.1 449.8,97.2 451.1,99.6 452.5,102.5 453.8,105.8 455.1,109.4 456.5,113 457.8,116.4 459.1,119.3 460.5,121.8 461.8,124.1 463.1,126.1 464.4,128 465.8,129.7 467.1,131.3 468.4,132.7 469.8,134 471.1,135.1 472.4,136 473.8,136.9 475.1,137.6 476.4,138.4 477.8,139 479.1,139.6 480.4,140.2 481.7,140.7 483.1,141.2 484.4,141.7 485.7,142.1 487.1,142.6 488.4,143 489.7,143.3 491.1,143.7 492.4,144 493.7,144.2 495,144.5 496.4,144.7 497.7,144.9 499,145.1 500.4,145.3 501.7,145.5 503,145.6 504.4,145.8 505.7,145.9 507,146 508.3,146 509.7,146.1 511,146.2 512.3,146.2 513.7,146.3 515,146.3" stroke="#000000" stroke-width="1.3"/>
<path d="M374,146.3 377.9,146.3 379.2,146.2 380.5,146.2 381.8,146.1 383.1,146.1 384.3,146 385.6,146 386.9,145.9 388.2,145.8 389.5,145.7 390.8,145.6 392.1,145.5 393.4,145.4 394.7,145.3 396,145.2 397.3,145 398.6,144.9 399.9,144.8 401.2,144.6 402.5,144.4 403.8,144.1 405,143.7 406.3,143.3 407.6,142.7 408.9,142.1 410.2,141.4 411.5,140.7 412.8,139.9 414.1,139.1 415.4,138.2 416.7,137.3 418,136.3 419.3,135.3 420.6,134.3 421.9,133.1 423.2,131.7 424.4,130.2 425.7,128.6 427,126.8 428.3,125 429.6,123.2 430.9,121.2 432.2,119.2 433.5,117 434.8,114.6 436.1,112.2 437.4,109.8 438.7,107.6 440,105.7 441.3,104.1 442.6,102.7 443.9,101.4 445.1,100.3 446.4,99.3 447.7,98.7 449,98.5 450.3,98.8 451.6,99.5 452.9,100.5 454.2,101.7 455.5,103.1 456.8,104.9 458.1,107.1 459.4,109.5 460.7,112.1 462,114.7 463.3,117.2 464.6,119.4 465.8,121.5 467.1,123.4 468.4,125.2 469.7,126.9 471,128.6 472.3,130.2 473.6,131.6 474.9,133 476.2,134.2 477.5,135.3 478.8,136.3 480.1,137.2 481.4,138 482.7,138.8 484,139.5 485.2,140.1 486.5,140.6 487.8,141.2 489.1,141.7 490.4,142.1 491.7,142.5 493,142.9 494.3,143.3 495.6,143.6 496.9,143.8 498.2,144.1 499.5,144.3 500.8,144.5 502.1,144.7 503.4,144.9 504.7,145 505.9,145.2 507.2,145.3 508.5,145.5 509.8,145.6 511.1,145.7 512.4,145.8 513.7,145.9 515,145.9" stroke="#1ad21a" stroke-width="1.3"/>
<path d="M375,146.3 378.9,146.3 380.1,146.2 381.4,146.2 382.7,146.1 384,146.1 385.3,146 386.6,146 387.8,145.9 389.1,145.8 390.4,145.7 391.7,145.6 393,145.5 394.3,145.4 395.6,145.3 396.8,145.2 398.1,145.1 399.4,144.9 400.7,144.8 402,144.6 403.3,144.4 404.5,144.1 405.8,143.8 407.1,143.3 408.4,142.8 409.7,142.2 411,141.6 412.2,140.9 413.5,140.1 414.8,139.3 416.1,138.4 417.4,137.5 418.7,136.6 420,135.6 421.2,134.5 422.5,133.4 423.8,132.1 425.1,130.6 426.4,129 427.7,127.3 428.9,125.6 430.2,123.7 431.5,121.8 432.8,119.9 434.1,117.8 435.4,115.5 436.7,113.1 437.9,110.7 439.2,108.4 440.5,106.4 441.8,104.6 443.1,103 444.4,101.6 445.6,100.3 446.9,99.2 448.2,98.6 449.5,98.6 450.8,99 452.1,99.8 453.3,100.9 454.6,102.1 455.9,103.7 457.2,105.6 458.5,107.8 459.8,110.3 461.1,112.9 462.3,115.5 463.6,117.8 464.9,120 466.2,122 467.5,123.8 468.8,125.6 470,127.3 471.3,129 472.6,130.5 473.9,132 475.2,133.3 476.5,134.5 477.8,135.5 479,136.5 480.3,137.4 481.6,138.2 482.9,138.9 484.2,139.6 485.5,140.2 486.7,140.7 488,141.2 489.3,141.7 490.6,142.2 491.9,142.6 493.2,143 494.4,143.3 495.7,143.6 497,143.8 498.3,144.1 499.6,144.3 500.9,144.5 502.2,144.7 503.4,144.9 504.7,145.1 506,145.2 507.3,145.4 508.6,145.5 509.9,145.6 511.1,145.7 512.4,145.8 513.7,145.9 515,145.9" stroke="#0b14dc" stroke-width="1.3"/>
<path d="M373,146.3 374.3,146.3 375.6,146.2 376.9,146.2 378.2,146.1 379.6,146 380.9,145.8 382.2,145.7 383.5,145.5 384.8,145.3 386.1,145.1 387.4,144.8 388.7,144.5 390.1,144.2 391.4,143.9 392.7,143.5 394,143 395.3,142.3 396.6,141.2 397.9,139.8 399.2,138.2 400.6,136.5 401.9,134.8 403.2,133.2 404.5,131.5 405.8,129.8 407.1,128 408.4,126 409.7,123.9 411,121.6 412.4,118.9 413.7,115.9 415,112.4 416.3,108.6 417.6,104.6 418.9,100.4 420.2,96 421.5,91.4 422.9,86.9 424.2,82.6 425.5,79 426.8,75.7 428.1,72.7 429.4,71 430.7,71 432,72 433.3,73.8 434.7,76.1 436,78.9 437.3,82.4 438.6,86.7 439.9,91.6 441.2,96.7 442.5,101.4 443.8,105.8 445.2,109.8 446.5,113.6 447.8,116.9 449.1,119.9 450.4,122.5 451.7,124.9 453,127 454.3,129 455.7,130.9 457,132.6 458.3,134.3 459.6,136 460.9,137.7 462.2,139.2 463.5,140.5 464.8,141.5 466.1,142.2 467.5,142.7 468.8,143.1 470.1,143.5 471.4,143.8 472.7,144.1 474,144.3 475.3,144.6 476.6,144.8 478,144.9 479.3,145.1 480.6,145.3 481.9,145.5 483.2,145.6 484.5,145.8 485.8,145.9 487.1,146 488.4,146.1 489.8,146.1 491.1,146.2 493.7,146.2 495,146.3 502.9,146.3 504.2,146.4 516,146.4" stroke="#e8262a" stroke-width="1.5" stroke-dasharray="1.2 1.3"/>
<path d="M372,146.3 373.3,146.3 374.6,146.2 375.9,146.2 377.2,146.1 378.6,146 379.9,145.8 381.2,145.7 382.5,145.5 383.8,145.3 385.1,145.1 386.4,144.8 387.7,144.5 389.1,144.2 390.4,143.9 391.7,143.5 393,143 394.3,142.3 395.6,141.2 396.9,139.8 398.2,138.2 399.6,136.5 400.9,134.8 402.2,133.2 403.5,131.5 404.8,129.8 406.1,128 407.4,126 408.7,123.9 410,121.6 411.4,118.9 412.7,115.9 414,112.4 415.3,108.6 416.6,104.6 417.9,100.4 419.2,96 420.5,91.4 421.9,86.9 423.2,82.6 424.5,79 425.8,75.7 427.1,72.7 428.4,71 429.7,71 431,72 432.3,73.8 433.7,76.1 435,78.9 436.3,82.4 437.6,86.7 438.9,91.6 440.2,96.7 441.5,101.4 442.8,105.8 444.2,109.8 445.5,113.6 446.8,116.9 448.1,119.9 449.4,122.5 450.7,124.9 452,127 453.3,129 454.7,130.9 456,132.6 457.3,134.3 458.6,136 459.9,137.7 461.2,139.2 462.5,140.5 463.8,141.5 465.1,142.2 466.5,142.7 467.8,143.1 469.1,143.5 470.4,143.8 471.7,144.1 473,144.3 474.3,144.6 475.6,144.8 477,144.9 478.3,145.1 479.6,145.3 480.9,145.5 482.2,145.6 483.5,145.8 484.8,145.9 486.1,146 487.4,146.1 488.8,146.1 490.1,146.2 492.7,146.2 494,146.3 501.9,146.3 503.2,146.4 515,146.4" stroke="#000000" stroke-width="1.5" stroke-dasharray="1.2 1.3"/>
<path d="M371,146.3 372.3,146.2 373.7,146.2 375,146.1 376.3,145.9 377.7,145.7 379,145.5 380.3,145.2 381.6,145 383,144.6 384.3,144.3 385.6,143.9 387,143.5 388.3,142.9 389.6,142.2 391,141.3 392.3,140.2 393.6,138.8 394.9,137.4 396.3,135.8 397.6,134.2 398.9,132.4 400.3,130.6 401.6,128.5 402.9,126.2 404.3,123.7 405.6,120.8 406.9,117.6 408.2,113.8 409.6,109.4 410.9,104.7 412.2,99.4 413.6,93.8 414.9,87.9 416.2,81.9 417.6,76.2 418.9,70.8 420.2,65.7 421.6,60.8 422.9,55.5 424.2,52.5 425.5,53.7 426.9,57.7 428.2,62.3 429.5,66.8 430.9,71.7 432.2,76.9 433.5,82.5 434.9,88.2 436.2,94.1 437.5,99.9 438.8,105.5 440.2,110.8 441.5,115.5 442.8,119.5 444.2,122.7 445.5,125.4 446.8,127.7 448.2,129.8 449.5,131.7 450.8,133.4 452.1,134.9 453.5,136.2 454.8,137.4 456.1,138.5 457.5,139.5 458.8,140.3 460.1,141 461.5,141.5 462.8,142 464.1,142.5 465.4,142.9 466.8,143.2 468.1,143.6 469.4,143.9 470.8,144.1 472.1,144.4 473.4,144.7 474.8,144.9 476.1,145.1 477.4,145.3 478.8,145.5 480.1,145.7 481.4,145.9 482.7,146 484.1,146.1 485.4,146.2 489.4,146.2 490.7,146.3 500,146.3 501.4,146.4 516,146.4" stroke="#1ad21a" stroke-width="1.5" stroke-dasharray="1.2 1.3"/>
<path d="M370,146.3 371.3,146.2 372.7,146.2 374,146.1 375.3,145.9 376.7,145.7 378,145.5 379.3,145.2 380.6,145 382,144.6 383.3,144.3 384.6,143.9 386,143.5 387.3,142.9 388.6,142.2 390,141.3 391.3,140.2 392.6,138.8 393.9,137.4 395.3,135.8 396.6,134.2 397.9,132.4 399.3,130.6 400.6,128.5 401.9,126.2 403.3,123.7 404.6,120.8 405.9,117.6 407.2,113.8 408.6,109.4 409.9,104.7 411.2,99.4 412.6,93.8 413.9,87.9 415.2,81.9 416.6,76.2 417.9,70.8 419.2,65.7 420.6,60.8 421.9,55.5 423.2,52.5 424.5,53.7 425.9,57.7 427.2,62.3 428.5,66.8 429.9,71.7 431.2,76.9 432.5,82.5 433.9,88.2 435.2,94.1 436.5,99.9 437.8,105.5 439.2,110.8 440.5,115.5 441.8,119.5 443.2,122.7 444.5,125.4 445.8,127.7 447.2,129.8 448.5,131.7 449.8,133.4 451.1,134.9 452.5,136.2 453.8,137.4 455.1,138.5 456.5,139.5 457.8,140.3 459.1,141 460.5,141.5 461.8,142 463.1,142.5 464.4,142.9 465.8,143.2 467.1,143.6 468.4,143.9 469.8,144.1 471.1,144.4 472.4,144.7 473.8,144.9 475.1,145.1 476.4,145.3 477.8,145.5 479.1,145.7 480.4,145.9 481.7,146 483.1,146.1 484.4,146.2 488.4,146.2 489.7,146.3 499,146.3 500.4,146.4 515,146.4" stroke="#0b14dc" stroke-width="1.5" stroke-dasharray="1.2 1.3"/>
</g>
<rect x="365.6" y="14.5" width="149.40" height="131.90" fill="none" stroke="#1a1a1a" stroke-width="1.1"/>
<line x1="402.95" y1="14.5" x2="402.95" y2="17.1" stroke="#000" stroke-width="1.25"/>
<line x1="402.95" y1="146.4" x2="402.95" y2="143.8" stroke="#000" stroke-width="1.25"/>
<line x1="440.30" y1="14.5" x2="440.30" y2="17.1" stroke="#000" stroke-width="1.25"/>
<line x1="440.30" y1="146.4" x2="440.30" y2="143.8" stroke="#000" stroke-width="1.25"/>
<line x1="477.65" y1="14.5" x2="477.65" y2="17.1" stroke="#000" stroke-width="1.25"/>
<line x1="477.65" y1="146.4" x2="477.65" y2="143.8" stroke="#000" stroke-width="1.25"/>
<line x1="365.6" y1="113.43" x2="368.20000000000005" y2="113.43" stroke="#000" stroke-width="1.25"/>
<line x1="515.0" y1="113.43" x2="512.4" y2="113.43" stroke="#000" stroke-width="1.25"/>
<line x1="365.6" y1="80.45" x2="368.20000000000005" y2="80.45" stroke="#000" stroke-width="1.25"/>
<line x1="515.0" y1="80.45" x2="512.4" y2="80.45" stroke="#000" stroke-width="1.25"/>
<line x1="365.6" y1="47.48" x2="368.20000000000005" y2="47.48" stroke="#000" stroke-width="1.25"/>
<line x1="515.0" y1="47.48" x2="512.4" y2="47.48" stroke="#000" stroke-width="1.25"/>
<text transform="translate(509.50,137.70) scale(0.83,1)" text-anchor="end" font-family='"Liberation Serif", serif' font-weight="bold" font-size="13.8">a(iii)</text>
<clipPath id="cp03"><rect x="532.5" y="13.4" width="149.60000000000002" height="133.4"/></clipPath>
<g clip-path="url(#cp03)" fill="none" stroke-linejoin="round">
<path d="M539,146 540.3,145.9 541.6,145.8 542.9,145.6 544.2,145.4 545.6,145.3 546.9,145.1 548.2,144.9 549.5,144.7 550.8,144.5 552.1,144.3 553.4,144.1 554.7,143.9 556.1,143.7 557.4,143.5 558.7,143.3 560,143.1 561.3,142.8 562.6,142.6 563.9,142.3 565.2,142 566.6,141.7 567.9,141.4 569.2,141.1 570.5,140.7 571.8,140.3 573.1,139.9 574.4,139.3 575.7,138.8 577,138.1 578.4,137.4 579.7,136.6 581,135.7 582.3,134.7 583.6,133.6 584.9,132.3 586.2,131 587.5,129.4 588.9,127.7 590.2,125.9 591.5,124 592.8,121.9 594.1,119.8 595.4,117.7 596.7,115.7 598,113.6 599.3,111.7 600.7,109.9 602,108.3 603.3,107 604.6,105.9 605.9,105 607.2,104.2 608.5,103.7 609.8,103.5 611.2,103.8 612.5,104.5 613.8,105.4 615.1,106.5 616.4,107.8 617.7,109.2 619,110.9 620.3,112.8 621.7,114.6 623,116.4 624.3,118.2 625.6,120 626.9,121.7 628.2,123.5 629.5,125.2 630.8,126.9 632.1,128.5 633.5,130 634.8,131.5 636.1,132.9 637.4,134.2 638.7,135.3 640,136.3 641.3,137.3 642.6,138.2 644,139 645.3,139.7 646.6,140.4 647.9,141.1 649.2,141.6 650.5,142.1 651.8,142.5 653.1,142.8 654.4,143.1 655.8,143.4 657.1,143.7 658.4,144 659.7,144.2 661,144.4 662.3,144.6 663.6,144.7 664.9,144.9 666.3,145 667.6,145.1 668.9,145.3 670.2,145.4 671.5,145.5 672.8,145.6 674.1,145.7 675.4,145.8 676.8,145.8 678.1,145.9 679.4,146 682,146" stroke="#e8262a" stroke-width="1.3"/>
<path d="M540,146 541.3,145.9 542.6,145.8 543.9,145.6 545.2,145.5 546.5,145.3 547.8,145.1 549.1,144.9 550.4,144.7 551.7,144.5 553,144.3 554.3,144.1 555.6,143.9 556.9,143.7 558.2,143.5 559.5,143.3 560.8,143.1 562.1,142.8 563.4,142.6 564.8,142.3 566.1,142.1 567.4,141.8 568.7,141.5 570,141.2 571.3,140.8 572.6,140.4 573.9,140 575.2,139.4 576.5,138.9 577.8,138.2 579.1,137.5 580.4,136.8 581.7,135.9 583,134.9 584.3,133.8 585.6,132.6 586.9,131.3 588.2,129.8 589.5,128.2 590.8,126.4 592.1,124.5 593.4,122.5 594.7,120.5 596,118.4 597.3,116.3 598.6,114.3 599.9,112.3 601.2,110.5 602.5,108.8 603.8,107.4 605.1,106.2 606.4,105 607.7,104.1 609,103.6 610.3,103.6 611.7,104 613,104.8 614.3,105.8 615.6,106.9 616.9,108.3 618.2,109.8 619.5,111.5 620.8,113.4 622.1,115.2 623.4,117 624.7,118.7 626,120.5 627.3,122.3 628.6,124 629.9,125.7 631.2,127.3 632.5,128.9 633.8,130.4 635.1,131.9 636.4,133.2 637.7,134.5 639,135.6 640.3,136.6 641.6,137.5 642.9,138.3 644.2,139.1 645.5,139.9 646.8,140.6 648.1,141.2 649.4,141.7 650.7,142.1 652,142.5 653.3,142.9 654.6,143.2 655.9,143.5 657.2,143.7 658.6,144 659.9,144.2 661.2,144.4 662.5,144.6 663.8,144.7 665.1,144.9 666.4,145 667.7,145.1 669,145.3 670.3,145.4 671.6,145.5 672.9,145.6 674.2,145.7 675.5,145.8 676.8,145.8 678.1,145.9 679.4,146 682,146" stroke="#000000" stroke-width="1.3"/>
<path d="M541,146.1 542.3,146 543.6,146 544.9,145.9 546.2,145.9 547.5,145.8 548.8,145.7 550.1,145.6 551.3,145.5 552.6,145.4 553.9,145.3 555.2,145.2 556.5,145.1 557.8,144.9 559.1,144.8 560.4,144.7 561.7,144.5 563,144.3 564.3,144.2 565.6,144 566.9,143.8 568.2,143.5 569.5,143.3 570.8,143.1 572,142.8 573.3,142.6 574.6,142.3 575.9,142 577.2,141.7 578.5,141.3 579.8,140.9 581.1,140.4 582.4,139.8 583.7,139.2 585,138.5 586.3,137.7 587.6,136.9 588.9,135.9 590.2,134.8 591.4,133.7 592.7,132.4 594,131 595.3,129.5 596.6,127.9 597.9,126.3 599.2,124.5 600.5,122.6 601.8,120.6 603.1,118.7 604.4,117.1 605.7,115.7 607,114.7 608.3,113.9 609.6,113.2 610.9,112.6 612.1,112.1 613.4,111.6 614.7,111.3 616,111.1 617.3,111.1 618.6,111.4 619.9,111.9 621.2,112.7 622.5,113.5 623.8,114.3 625.1,115.3 626.4,116.3 627.7,117.5 629,118.9 630.3,120.3 631.6,121.9 632.8,123.5 634.1,125 635.4,126.6 636.7,128.1 638,129.5 639.3,130.8 640.6,132.1 641.9,133.4 643.2,134.6 644.5,135.8 645.8,137 647.1,138 648.4,138.9 649.7,139.6 651,140.3 652.2,140.9 653.5,141.5 654.8,142 656.1,142.5 657.4,143 658.7,143.3 660,143.6 661.3,143.9 662.6,144.1 663.9,144.3 665.2,144.5 666.5,144.6 667.8,144.8 669.1,144.9 670.4,145 671.7,145.1 672.9,145.2 674.2,145.3 675.5,145.4 676.8,145.5 678.1,145.6 679.4,145.7 680.7,145.7 682,145.8" stroke="#1ad21a" stroke-width="1.3"/>
<path d="M542,146.1 543.3,146 544.6,146 545.9,145.9 547.1,145.9 548.4,145.8 549.7,145.7 551,145.6 552.3,145.5 553.6,145.4 554.8,145.3 556.1,145.2 557.4,145.1 558.7,145 560,144.8 561.3,144.7 562.6,144.5 563.8,144.4 565.1,144.2 566.4,144 567.7,143.8 569,143.6 570.3,143.4 571.5,143.1 572.8,142.9 574.1,142.6 575.4,142.4 576.7,142.1 578,141.7 579.2,141.4 580.5,141 581.8,140.5 583.1,140 584.4,139.3 585.7,138.7 587,137.9 588.2,137.1 589.5,136.2 590.8,135.1 592.1,134 593.4,132.8 594.7,131.4 595.9,130 597.2,128.4 598.5,126.8 599.8,125.1 601.1,123.2 602.4,121.3 603.7,119.4 604.9,117.6 606.2,116.1 607.5,115 608.8,114.1 610.1,113.3 611.4,112.7 612.6,112.1 613.9,111.6 615.2,111.3 616.5,111.1 617.8,111.2 619.1,111.5 620.3,112.2 621.6,112.9 622.9,113.8 624.2,114.6 625.5,115.6 626.8,116.7 628.1,117.9 629.3,119.3 630.6,120.8 631.9,122.3 633.2,123.9 634.5,125.4 635.8,127 637,128.4 638.3,129.8 639.6,131.1 640.9,132.4 642.2,133.7 643.5,134.9 644.8,136.1 646,137.2 647.3,138.2 648.6,139 649.9,139.8 651.2,140.4 652.5,141 653.7,141.6 655,142.1 656.3,142.6 657.6,143 658.9,143.4 660.2,143.7 661.4,143.9 662.7,144.2 664,144.3 665.3,144.5 666.6,144.6 667.9,144.8 669.2,144.9 670.4,145 671.7,145.1 673,145.2 674.3,145.3 675.6,145.4 676.9,145.5 678.1,145.6 679.4,145.7 680.7,145.7 682,145.8" stroke="#0b14dc" stroke-width="1.3"/>
<path d="M537,146.1 538.3,146 539.7,146 541,145.9 542.4,145.8 543.7,145.6 545,145.5 546.4,145.3 547.7,145.1 549.1,144.9 550.4,144.6 551.7,144.3 553.1,144 554.4,143.7 555.8,143.3 557.1,142.8 558.4,142.3 559.8,141.8 561.1,141.2 562.4,140.5 563.8,139.7 565.1,138.9 566.5,138 567.8,137 569.1,135.9 570.5,134.7 571.8,133.4 573.2,131.9 574.5,130.2 575.8,128.3 577.2,126.2 578.5,124 579.9,121.6 581.2,119 582.5,116.2 583.9,113 585.2,109.4 586.6,105.6 587.9,101.9 589.2,98.5 590.6,95.6 591.9,93.1 593.3,90.8 594.6,88.8 595.9,87.1 597.3,86 598.6,85.6 600,86.5 601.3,88.5 602.6,91.1 604,93.8 605.3,96.5 606.7,99.4 608,102.5 609.3,105.6 610.7,108.8 612,111.9 613.3,114.8 614.7,117.5 616,120.2 617.4,122.7 618.7,125 620,127.2 621.4,129.1 622.7,130.7 624.1,132.2 625.4,133.6 626.7,134.9 628.1,136.1 629.4,137.2 630.8,138.3 632.1,139.2 633.4,140 634.8,140.7 636.1,141.3 637.5,141.8 638.8,142.2 640.1,142.6 641.5,143 642.8,143.3 644.2,143.6 645.5,143.9 646.8,144.2 648.2,144.4 649.5,144.6 650.9,144.8 652.2,144.9 653.5,145 654.9,145.1 656.2,145.3 657.6,145.4 658.9,145.5 660.2,145.6 661.6,145.6 662.9,145.7 664.2,145.8 665.6,145.8 666.9,145.9 668.3,145.9 669.6,146 675,146 676.3,146.1 683,146.1" stroke="#e8262a" stroke-width="1.5" stroke-dasharray="1.2 1.3"/>
<path d="M536,146.1 537.3,146 538.7,146 540,145.9 541.4,145.8 542.7,145.6 544,145.5 545.4,145.3 546.7,145.1 548.1,144.9 549.4,144.6 550.7,144.3 552.1,144 553.4,143.7 554.8,143.3 556.1,142.8 557.4,142.3 558.8,141.8 560.1,141.2 561.4,140.5 562.8,139.7 564.1,138.9 565.5,138 566.8,137 568.1,135.9 569.5,134.7 570.8,133.4 572.2,131.9 573.5,130.2 574.8,128.3 576.2,126.2 577.5,124 578.9,121.6 580.2,119 581.5,116.2 582.9,113 584.2,109.4 585.6,105.6 586.9,101.9 588.2,98.5 589.6,95.6 590.9,93.1 592.3,90.8 593.6,88.8 594.9,87.1 596.3,86 597.6,85.6 599,86.5 600.3,88.5 601.6,91.1 603,93.8 604.3,96.5 605.7,99.4 607,102.5 608.3,105.6 609.7,108.8 611,111.9 612.3,114.8 613.7,117.5 615,120.2 616.4,122.7 617.7,125 619,127.2 620.4,129.1 621.7,130.7 623.1,132.2 624.4,133.6 625.7,134.9 627.1,136.1 628.4,137.2 629.8,138.3 631.1,139.2 632.4,140 633.8,140.7 635.1,141.3 636.5,141.8 637.8,142.2 639.1,142.6 640.5,143 641.8,143.3 643.2,143.6 644.5,143.9 645.8,144.2 647.2,144.4 648.5,144.6 649.9,144.8 651.2,144.9 652.5,145 653.9,145.1 655.2,145.3 656.6,145.4 657.9,145.5 659.2,145.6 660.6,145.6 661.9,145.7 663.2,145.8 664.6,145.8 665.9,145.9 667.3,145.9 668.6,146 674,146 675.3,146.1 682,146.1" stroke="#000000" stroke-width="1.5" stroke-dasharray="1.2 1.3"/>
<path d="M535,146 536.4,146 537.7,145.9 539.1,145.7 540.4,145.6 541.8,145.4 543.1,145.3 544.5,145.1 545.9,144.9 547.2,144.7 548.6,144.4 549.9,144.1 551.3,143.8 552.7,143.3 554,142.8 555.4,142.2 556.7,141.5 558.1,140.7 559.4,139.7 560.8,138.6 562.2,137.4 563.5,136 564.9,134.4 566.2,132.6 567.6,130.6 568.9,128.4 570.3,126.2 571.7,123.7 573,121.1 574.4,118.1 575.7,114.8 577.1,111.1 578.4,107 579.8,102.8 581.2,98.6 582.5,94.5 583.9,90.5 585.2,86.6 586.6,82.8 588,79 589.3,74.6 590.7,71.1 592,70.4 593.4,72.4 594.7,76 596.1,79.7 597.5,83.7 598.8,88.1 600.2,92.6 601.5,97.1 602.9,101.7 604.2,106.1 605.6,110.3 607,114.1 608.3,117.4 609.7,120.3 611,123 612.4,125.4 613.8,127.6 615.1,129.5 616.5,131.2 617.8,132.7 619.2,134.2 620.5,135.5 621.9,136.7 623.3,137.8 624.6,138.8 626,139.6 627.3,140.3 628.7,140.9 630,141.4 631.4,141.8 632.8,142.2 634.1,142.5 635.5,142.9 636.8,143.1 638.2,143.4 639.6,143.6 640.9,143.9 642.3,144.1 643.6,144.3 645,144.5 646.3,144.7 647.7,144.9 649.1,145 650.4,145.2 651.8,145.3 653.1,145.4 654.5,145.5 655.8,145.6 657.2,145.6 658.6,145.7 659.9,145.7 661.3,145.8 664,145.8 665.3,145.9 668.1,145.9 669.4,146 674.9,146 676.2,146.1 683,146.1" stroke="#1ad21a" stroke-width="1.5" stroke-dasharray="1.2 1.3"/>
<path d="M534,146 535.4,146 536.7,145.9 538.1,145.7 539.4,145.6 540.8,145.4 542.1,145.3 543.5,145.1 544.9,144.9 546.2,144.7 547.6,144.4 548.9,144.1 550.3,143.8 551.7,143.3 553,142.8 554.4,142.2 555.7,141.5 557.1,140.7 558.4,139.7 559.8,138.6 561.2,137.4 562.5,136 563.9,134.4 565.2,132.6 566.6,130.6 567.9,128.4 569.3,126.2 570.7,123.7 572,121.1 573.4,118.1 574.7,114.8 576.1,111.1 577.4,107 578.8,102.8 580.2,98.6 581.5,94.5 582.9,90.5 584.2,86.6 585.6,82.8 587,79 588.3,74.6 589.7,71.1 591,70.4 592.4,72.4 593.7,76 595.1,79.7 596.5,83.7 597.8,88.1 599.2,92.6 600.5,97.1 601.9,101.7 603.2,106.1 604.6,110.3 606,114.1 607.3,117.4 608.7,120.3 610,123 611.4,125.4 612.8,127.6 614.1,129.5 615.5,131.2 616.8,132.7 618.2,134.2 619.5,135.5 620.9,136.7 622.3,137.8 623.6,138.8 625,139.6 626.3,140.3 627.7,140.9 629,141.4 630.4,141.8 631.8,142.2 633.1,142.5 634.5,142.9 635.8,143.1 637.2,143.4 638.6,143.6 639.9,143.9 641.3,144.1 642.6,144.3 644,144.5 645.3,144.7 646.7,144.9 648.1,145 649.4,145.2 650.8,145.3 652.1,145.4 653.5,145.5 654.8,145.6 656.2,145.6 657.6,145.7 658.9,145.7 660.3,145.8 663,145.8 664.3,145.9 667.1,145.9 668.4,146 673.9,146 675.2,146.1 682,146.1" stroke="#0b14dc" stroke-width="1.5" stroke-dasharray="1.2 1.3"/>
</g>
<rect x="532.5" y="14.4" width="149.60" height="131.90" fill="none" stroke="#1a1a1a" stroke-width="1.1"/>
<line x1="569.90" y1="14.4" x2="569.90" y2="17.0" stroke="#000" stroke-width="1.25"/>
<line x1="569.90" y1="146.3" x2="569.90" y2="143.70000000000002" stroke="#000" stroke-width="1.25"/>
<line x1="607.30" y1="14.4" x2="607.30" y2="17.0" stroke="#000" stroke-width="1.25"/>
<line x1="607.30" y1="146.3" x2="607.30" y2="143.70000000000002" stroke="#000" stroke-width="1.25"/>
<line x1="644.70" y1="14.4" x2="644.70" y2="17.0" stroke="#000" stroke-width="1.25"/>
<line x1="644.70" y1="146.3" x2="644.70" y2="143.70000000000002" stroke="#000" stroke-width="1.25"/>
<line x1="532.5" y1="113.33" x2="535.1" y2="113.33" stroke="#000" stroke-width="1.25"/>
<line x1="682.1" y1="113.33" x2="679.5" y2="113.33" stroke="#000" stroke-width="1.25"/>
<line x1="532.5" y1="80.35" x2="535.1" y2="80.35" stroke="#000" stroke-width="1.25"/>
<line x1="682.1" y1="80.35" x2="679.5" y2="80.35" stroke="#000" stroke-width="1.25"/>
<line x1="532.5" y1="47.38" x2="535.1" y2="47.38" stroke="#000" stroke-width="1.25"/>
<line x1="682.1" y1="47.38" x2="679.5" y2="47.38" stroke="#000" stroke-width="1.25"/>
<text transform="translate(676.20,137.70) scale(0.83,1)" text-anchor="end" font-family='"Liberation Serif", serif' font-weight="bold" font-size="13.8">a(iv)</text>
<clipPath id="cp10"><rect x="32.0" y="171.2" width="149.4" height="133.2"/></clipPath>
<g clip-path="url(#cp10)" fill="none" stroke-linejoin="round">
<path d="M32,301.3 33.4,299.1 34.7,296.1 36.1,292.9 37.5,289.6 38.9,286.3 40.2,283.1 41.6,279.8 43,276.6 44.3,273.5 45.7,270.4 47.1,267.2 48.4,264.1 49.8,261.1 51.2,258.4 52.6,255.9 53.9,253.6 55.3,251.5 56.7,249.5 58,247.6 59.4,245.8 60.8,244.2 62.3,242.8 64.1,241.6 65.8,240.6 67.3,239.8 68.6,239.2 70,238.8 71.4,238.6 72.7,238.5 74.1,238.6 75.5,238.9 76.9,239.6 78.2,240.5 79.6,241.8 81,243.4 82.3,245.4 83.7,247.6 85.1,250.4 86.5,253.7 87.8,257.2 89.2,260.9 90.6,264.6 91.9,268.5 93.3,272.5 94.7,276.4 96,280.1 97.4,283.6 98.8,286.9 100.2,289.9 101.5,292.5 102.9,294.6 104.3,296.3 105.6,297.7 107,298.8 108.4,299.6 109.8,300.3 111.1,300.8 112.5,301.3 113.9,301.6 115.2,301.9 116.6,302.1 118,302.3 119.4,302.5 120.7,302.6 122.1,302.7 123.5,302.8 124.8,302.9 128.9,302.9 130.3,303 139.9,303 141.3,303.1 156.4,303.1 157.7,303.2 182.4,303.2" stroke="#e8262a" stroke-width="1.5" stroke-dasharray="1.2 1.3"/>
<path d="M32,301.3 33.4,299.1 34.7,296.1 36.1,292.9 37.5,289.6 38.9,286.3 40.2,283.1 41.6,279.8 43,276.6 44.3,273.5 45.7,270.4 47.1,267.2 48.4,264.1 49.8,261.1 51.2,258.4 52.6,255.9 53.9,253.6 55.3,251.5 56.7,249.5 58,247.6 59.4,245.8 60.8,244.2 62.2,242.8 63.5,241.6 64.9,240.6 66.3,239.8 67.6,239.2 69,238.8 70.4,238.6 71.7,238.5 73.1,238.6 74.5,238.9 75.9,239.6 77.2,240.5 78.6,241.8 80,243.4 81.3,245.4 82.7,247.6 84.1,250.4 85.5,253.7 86.8,257.2 88.2,260.9 89.6,264.6 90.9,268.5 92.3,272.5 93.7,276.4 95,280.1 96.4,283.6 97.8,286.9 99.2,289.9 100.5,292.5 101.9,294.6 103.3,296.3 104.6,297.7 106,298.8 107.4,299.6 108.8,300.3 110.1,300.8 111.5,301.3 112.9,301.6 114.2,301.9 115.6,302.1 117,302.3 118.4,302.5 119.7,302.6 121.1,302.7 122.5,302.8 123.8,302.9 127.9,302.9 129.3,303 138.9,303 140.3,303.1 155.4,303.1 156.7,303.2 181.4,303.2" stroke="#000000" stroke-width="1.5" stroke-dasharray="1.2 1.3"/>
<path d="M32,301.3 33.4,299.1 34.7,296.1 36.1,292.9 37.5,289.6 38.9,286.3 40.2,283.1 41.6,279.8 43,276.6 44.3,273.5 45.7,270.4 47.1,267.2 48.4,264.1 49.8,261.1 51.2,258.4 52.6,255.9 53.9,253.6 55.3,251.5 56.7,249.5 58,247.6 59.4,245.9 60.8,244.4 62.3,243.3 64.1,242.5 65.8,242.1 67.3,241.9 68.6,241.7 70,241.8 71.4,242.1 72.7,242.8 74.1,243.9 75.5,245.3 76.9,246.9 78.2,248.7 79.6,250.7 81,253.1 82.3,256 83.7,259.6 85.1,264 86.5,268.9 87.8,274 89.2,278.7 90.6,282.8 91.9,286.2 93.3,289.1 94.7,291.7 96,294 97.4,296 98.8,297.6 100.2,298.8 101.5,299.7 102.9,300.5 104.3,301.1 105.6,301.5 107,301.9 108.4,302.2 109.8,302.5 111.1,302.7 112.5,302.9 113.9,303 115.2,303.2 116.6,303.2 118,303.3 119.4,303.4 120.7,303.5 123.5,303.5 124.8,303.6 131.7,303.6 133.1,303.7 152.2,303.7 153.6,303.8 182.4,303.8" stroke="#1ad21a" stroke-width="1.5" stroke-dasharray="1.2 1.3"/>
<path d="M32,301.3 33.4,299.1 34.7,296.1 36.1,292.9 37.5,289.6 38.9,286.3 40.2,283.1 41.6,279.8 43,276.6 44.3,273.5 45.7,270.4 47.1,267.2 48.4,264.1 49.8,261.1 51.2,258.4 52.6,255.9 53.9,253.6 55.3,251.5 56.7,249.5 58,247.6 59.4,245.9 60.8,244.4 62.2,243.3 63.5,242.5 64.9,242.1 66.3,241.9 67.6,241.7 69,241.8 70.4,242.1 71.7,242.8 73.1,243.9 74.5,245.3 75.9,246.9 77.2,248.7 78.6,250.7 80,253.1 81.3,256 82.7,259.6 84.1,264 85.5,268.9 86.8,274 88.2,278.7 89.6,282.8 90.9,286.2 92.3,289.1 93.7,291.7 95,294 96.4,296 97.8,297.6 99.2,298.8 100.5,299.7 101.9,300.5 103.3,301.1 104.6,301.5 106,301.9 107.4,302.2 108.8,302.5 110.1,302.7 111.5,302.9 112.9,303 114.2,303.2 115.6,303.2 117,303.3 118.4,303.4 119.7,303.5 122.5,303.5 123.8,303.6 130.7,303.6 132.1,303.7 151.2,303.7 152.6,303.8 181.4,303.8" stroke="#0b14dc" stroke-width="1.5" stroke-dasharray="1.2 1.3"/>
<path d="M32,301.3 33.4,299.1 34.7,296.1 36.1,292.9 37.5,289.6 38.9,286.3 40.2,283.1 41.6,279.8 43,276.6 44.3,273.5 45.7,270.4 47.1,267.2 48.4,264.1 49.8,261.1 51.2,258.4 52.6,255.9 53.9,253.6 55.3,251.5 56.7,249.5 58,247.6 59.4,245.8 60.8,244.2 62.2,242.6 63.5,241.1 64.9,239.8 66.3,238.6 67.6,237.5 69,236.6 70.4,235.8 71.7,235.2 73.1,234.8 74.5,234.4 75.9,234.1 77.2,233.8 78.6,233.7 80,233.6 81.3,233.8 82.7,234 84.1,234.4 85.5,234.9 86.8,235.6 88.2,236.5 89.6,237.7 90.9,239.1 92.3,240.8 93.7,242.9 95,245.4 96.4,248.3 97.8,251.5 99.2,255 100.5,258.4 101.9,261.8 103.3,265.1 104.6,268.5 106,272 107.4,275.3 108.8,278.4 110.1,281.2 111.5,283.9 112.9,286.3 114.2,288.6 115.6,290.5 117,292.2 118.4,293.5 119.7,294.6 121.1,295.5 122.5,296.4 123.8,297.3 125.2,298.2 126.6,299 127.9,299.7 129.3,300.2 130.7,300.5 132.1,300.8 133.4,301.1 134.8,301.3 136.2,301.5 137.5,301.7 138.9,301.8 140.3,301.8 141.7,301.9 143,301.9 144.4,302 145.8,302 147.1,302.1 148.5,302.1 149.9,302.2 152.6,302.2 154,302.3 156.7,302.3 158.1,302.4 162.2,302.4 163.6,302.5 170.4,302.5 171.8,302.6 181.4,302.6" stroke="#e8262a" stroke-width="1.3"/>
<path d="M32,301.3 33.4,299.1 34.7,296.1 36.1,292.9 37.5,289.6 38.9,286.3 40.2,283.1 41.6,279.8 43,276.6 44.3,273.5 45.7,270.4 47.1,267.2 48.4,264.1 49.8,261.1 51.2,258.4 52.6,255.9 53.9,253.6 55.3,251.5 56.7,249.5 58,247.6 59.4,245.8 60.8,244.2 62.2,242.6 63.5,241.1 64.9,239.7 66.3,238.5 67.6,237.3 69,236.4 70.4,235.5 71.7,234.9 73.1,234.3 74.5,233.9 75.9,233.6 77.2,233.3 78.6,233.1 80,233 81.3,233.1 82.7,233.2 84.1,233.5 85.5,233.9 86.8,234.5 88.2,235.2 89.6,236.2 90.9,237.5 92.3,239.1 93.7,241.1 95,243.5 96.4,246.3 97.8,249.5 99.2,253 100.5,256.4 101.9,259.8 103.3,263.2 104.6,266.7 106,270.2 107.4,273.6 108.8,276.8 110.1,279.7 111.5,282.5 112.9,285.1 114.2,287.4 115.6,289.5 117,291.2 118.4,292.6 119.7,293.7 121.1,294.7 122.5,295.6 123.8,296.5 125.2,297.5 126.6,298.3 127.9,299 129.3,299.5 130.7,299.8 132.1,300.1 133.4,300.4 134.8,300.6 136.2,300.8 137.5,301 138.9,301.1 140.3,301.1 141.7,301.2 143,301.3 144.4,301.3 145.8,301.4 147.1,301.4 148.5,301.5 149.9,301.5 151.2,301.6 154,301.6 155.4,301.7 158.1,301.7 159.5,301.8 163.6,301.8 165,301.9 170.4,301.9 171.8,302 181.4,302" stroke="#000000" stroke-width="1.3"/>
<path d="M32,301.3 33.4,299.1 34.7,296.1 36.1,292.9 37.5,289.6 38.9,286.3 40.2,283.1 41.6,279.8 43,276.6 44.3,273.5 45.7,270.4 47.1,267.2 48.4,264.1 49.8,261.1 51.2,258.4 52.6,255.9 53.9,253.6 55.3,251.5 56.7,249.5 58,247.6 59.4,245.8 60.8,244.2 62.2,242.6 63.5,241.1 64.9,239.7 66.3,238.4 67.6,237.2 69,236.2 70.4,235.2 71.7,234.3 73.1,233.5 74.5,232.8 75.9,232.2 77.2,231.7 78.6,231.3 80,231.1 81.3,231 82.7,230.9 84.1,231 85.5,231.1 86.8,231.4 88.2,231.8 89.6,232.4 90.9,233.2 92.3,234.1 93.7,235.3 95,236.7 96.4,238.3 97.8,240.3 99.2,242.5 100.5,245.2 101.9,248 103.3,250.8 104.6,253.4 106,256.1 107.4,258.8 108.8,261.8 110.1,264.8 111.5,267.8 112.9,270.8 114.2,273.7 115.6,276.4 117,278.9 118.4,281.2 119.7,283.2 121.1,285 122.5,286.8 123.8,288.5 125.2,290 126.6,291.5 127.9,292.7 129.3,293.8 130.7,294.8 132.1,295.6 133.4,296.3 134.8,296.8 136.2,297.3 137.5,297.8 138.9,298.2 140.3,298.5 141.7,298.8 143,299 144.4,299.2 145.8,299.3 147.1,299.5 148.5,299.6 149.9,299.7 151.2,299.8 152.6,299.9 154,299.9 155.4,300 156.7,300 158.1,300.1 160.8,300.1 162.2,300.2 165,300.2 166.3,300.3 171.8,300.3 173.2,300.4 181.4,300.4" stroke="#1ad21a" stroke-width="1.3"/>
<path d="M32,301.3 33.4,299.1 34.7,296.1 36.1,292.9 37.5,289.6 38.9,286.3 40.2,283.1 41.6,279.8 43,276.6 44.3,273.5 45.7,270.4 47.1,267.2 48.4,264.1 49.8,261.1 51.2,258.4 52.6,255.9 53.9,253.6 55.3,251.5 56.7,249.5 58,247.6 59.4,245.8 60.8,244.2 62.2,242.6 63.5,241.1 64.9,239.6 66.3,238.3 67.6,237.1 69,236 70.4,235 71.7,234.1 73.1,233.3 74.5,232.5 75.9,231.8 77.2,231.3 78.6,230.8 80,230.5 81.3,230.3 82.7,230.1 85.5,230.1 86.8,230.3 88.2,230.6 89.6,231.1 90.9,231.8 92.3,232.6 93.7,233.7 95,235 96.4,236.6 97.8,238.5 99.2,240.8 100.5,243.3 101.9,246.1 103.3,248.9 104.6,251.5 106,254.1 107.4,256.8 108.8,259.7 110.1,262.8 111.5,265.9 112.9,268.9 114.2,271.8 115.6,274.6 117,277.2 118.4,279.5 119.7,281.6 121.1,283.5 122.5,285.4 123.8,287.2 125.2,288.8 126.6,290.3 127.9,291.6 129.3,292.8 130.7,293.8 132.1,294.6 133.4,295.3 134.8,295.9 136.2,296.4 137.5,296.9 138.9,297.3 140.3,297.6 141.7,297.9 143,298.1 144.4,298.3 145.8,298.4 147.1,298.6 148.5,298.7 149.9,298.8 151.2,298.9 152.6,299 154,299 155.4,299.1 156.7,299.1 158.1,299.2 160.8,299.2 162.2,299.3 165,299.3 166.3,299.4 171.8,299.4 173.2,299.5 181.4,299.5" stroke="#0b14dc" stroke-width="1.3"/>
</g>
<rect x="32.0" y="172.2" width="149.40" height="131.70" fill="none" stroke="#1a1a1a" stroke-width="1.1"/>
<line x1="69.35" y1="172.2" x2="69.35" y2="174.79999999999998" stroke="#000" stroke-width="1.25"/>
<line x1="69.35" y1="303.9" x2="69.35" y2="301.29999999999995" stroke="#000" stroke-width="1.25"/>
<line x1="106.70" y1="172.2" x2="106.70" y2="174.79999999999998" stroke="#000" stroke-width="1.25"/>
<line x1="106.70" y1="303.9" x2="106.70" y2="301.29999999999995" stroke="#000" stroke-width="1.25"/>
<line x1="144.05" y1="172.2" x2="144.05" y2="174.79999999999998" stroke="#000" stroke-width="1.25"/>
<line x1="144.05" y1="303.9" x2="144.05" y2="301.29999999999995" stroke="#000" stroke-width="1.25"/>
<line x1="32.0" y1="281.95" x2="34.6" y2="281.95" stroke="#000" stroke-width="1.25"/>
<line x1="181.4" y1="281.95" x2="178.8" y2="281.95" stroke="#000" stroke-width="1.25"/>
<line x1="32.0" y1="260.00" x2="34.6" y2="260.00" stroke="#000" stroke-width="1.25"/>
<line x1="181.4" y1="260.00" x2="178.8" y2="260.00" stroke="#000" stroke-width="1.25"/>
<line x1="32.0" y1="238.05" x2="34.6" y2="238.05" stroke="#000" stroke-width="1.25"/>
<line x1="181.4" y1="238.05" x2="178.8" y2="238.05" stroke="#000" stroke-width="1.25"/>
<line x1="32.0" y1="216.10" x2="34.6" y2="216.10" stroke="#000" stroke-width="1.25"/>
<line x1="181.4" y1="216.10" x2="178.8" y2="216.10" stroke="#000" stroke-width="1.25"/>
<line x1="32.0" y1="194.15" x2="34.6" y2="194.15" stroke="#000" stroke-width="1.25"/>
<line x1="181.4" y1="194.15" x2="178.8" y2="194.15" stroke="#000" stroke-width="1.25"/>
<text x="0" y="0" transform="translate(29.5,307.50) scale(0.82,1)" text-anchor="end" font-family='"Liberation Sans", sans-serif' font-weight="bold" font-size="8.8" stroke="#000" stroke-width="0.15">0</text>
<text x="0" y="0" transform="translate(29.5,285.55) scale(0.82,1)" text-anchor="end" font-family='"Liberation Sans", sans-serif' font-weight="bold" font-size="8.8" stroke="#000" stroke-width="0.15">0.1</text>
<text x="0" y="0" transform="translate(29.5,263.60) scale(0.82,1)" text-anchor="end" font-family='"Liberation Sans", sans-serif' font-weight="bold" font-size="8.8" stroke="#000" stroke-width="0.15">0.2</text>
<text x="0" y="0" transform="translate(29.5,241.65) scale(0.82,1)" text-anchor="end" font-family='"Liberation Sans", sans-serif' font-weight="bold" font-size="8.8" stroke="#000" stroke-width="0.15">0.3</text>
<text x="0" y="0" transform="translate(29.5,219.70) scale(0.82,1)" text-anchor="end" font-family='"Liberation Sans", sans-serif' font-weight="bold" font-size="8.8" stroke="#000" stroke-width="0.15">0.4</text>
<text x="0" y="0" transform="translate(29.5,197.75) scale(0.82,1)" text-anchor="end" font-family='"Liberation Sans", sans-serif' font-weight="bold" font-size="8.8" stroke="#000" stroke-width="0.15">0.5</text>
<text x="0" y="0" transform="translate(29.5,175.80) scale(0.82,1)" text-anchor="end" font-family='"Liberation Sans", sans-serif' font-weight="bold" font-size="8.8" stroke="#000" stroke-width="0.15">0.6</text>
<text transform="translate(174.80,292.40) scale(0.83,1)" text-anchor="end" font-family='"Liberation Serif", serif' font-weight="bold" font-size="13.8">b(i)</text>
<clipPath id="cp11"><rect x="199.5" y="171.2" width="149.5" height="133.2"/></clipPath>
<g clip-path="url(#cp11)" fill="none" stroke-linejoin="round">
<path d="M199.5,302 200.9,299.5 202.2,296.3 203.6,292.9 204.9,289.5 206.3,285.9 207.7,282 209,278 210.4,274.2 211.8,270.7 213.1,267.5 214.5,264.6 215.8,261.9 217.2,259.2 218.6,256.5 219.9,253.8 221.3,251.3 222.7,249 224,246.7 225.4,244.6 226.7,242.5 228.1,240.6 229.5,238.7 230.8,236.9 232.2,235.2 233.8,233.6 235.5,232.1 237.2,230.8 238.6,229.6 240,228.7 241.4,228 242.7,227.5 244.1,227.2 245.5,227.1 246.8,227.3 248.2,227.7 249.5,228.2 250.9,229 252.3,230.1 253.6,231.6 255,233.7 256.4,236.1 257.7,239 259.1,242.3 260.4,246 261.8,250 263.2,254.4 264.5,258.9 265.9,263.4 267.3,267.5 268.6,271.2 270,274.6 271.3,277.7 272.7,280.4 274.1,282.9 275.4,285.1 276.8,286.9 278.2,288.5 279.5,289.9 280.9,291.1 282.2,292.2 283.6,293.2 285,294 286.3,294.7 287.7,295.3 289.1,295.8 290.4,296.3 291.8,296.7 293.1,297.1 294.5,297.4 295.9,297.8 297.2,298 298.6,298.3 300,298.5 301.3,298.7 302.7,298.9 304,299.1 305.4,299.2 339.5,299.2 340.8,299.1 349,299.1" stroke="#e8262a" stroke-width="1.5" stroke-dasharray="1.2 1.3"/>
<path d="M199.5,302 200.9,299.5 202.2,296.3 203.6,292.9 204.9,289.5 206.3,285.9 207.7,282 209,278 210.4,274.2 211.8,270.7 213.1,267.5 214.5,264.6 215.8,261.9 217.2,259.2 218.6,256.5 219.9,253.8 221.3,251.3 222.7,249 224,246.7 225.4,244.6 226.7,242.5 228.1,240.6 229.5,238.7 230.8,236.9 232.2,235.2 233.6,233.6 234.9,232.1 236.3,230.8 237.6,229.6 239,228.7 240.4,228 241.7,227.5 243.1,227.2 244.5,227.1 245.8,227.3 247.2,227.7 248.5,228.2 249.9,229 251.3,230.1 252.6,231.6 254,233.7 255.4,236.1 256.7,239 258.1,242.3 259.4,246 260.8,250 262.2,254.4 263.5,258.9 264.9,263.4 266.3,267.5 267.6,271.2 269,274.6 270.3,277.7 271.7,280.4 273.1,282.9 274.4,285.1 275.8,286.9 277.2,288.5 278.5,289.9 279.9,291.1 281.2,292.2 282.6,293.2 284,294 285.3,294.7 286.7,295.3 288.1,295.8 289.4,296.3 290.8,296.7 292.1,297.1 293.5,297.4 294.9,297.8 296.2,298 297.6,298.3 299,298.5 300.3,298.7 301.7,298.9 303,299.1 304.4,299.2 338.5,299.2 339.8,299.1 348,299.1" stroke="#000000" stroke-width="1.5" stroke-dasharray="1.2 1.3"/>
<path d="M199.5,302 200.9,299.5 202.2,296.3 203.6,292.9 204.9,289.5 206.3,285.9 207.7,282 209,278 210.4,274.2 211.8,270.7 213.1,267.5 214.5,264.6 215.8,261.9 217.2,259.2 218.6,256.5 219.9,253.8 221.3,251.3 222.7,249 224,246.7 225.4,244.6 226.7,242.5 228.1,240.6 229.5,238.7 230.8,236.9 232.2,235.4 233.8,234 235.5,233 237.2,232.1 238.6,231.3 240,230.7 241.4,230.3 242.7,230.4 244.1,230.9 245.5,231.8 246.8,233.1 248.2,234.8 249.5,237.1 250.9,240 252.3,243.4 253.6,247 255,250.6 256.4,254.5 257.7,258.4 259.1,262.5 260.4,266.5 261.8,270.3 263.2,274 264.5,277.3 265.9,280.3 267.3,282.9 268.6,285.3 270,287.4 271.3,289.2 272.7,290.9 274.1,292.5 275.4,293.8 276.8,294.9 278.2,295.8 279.5,296.5 280.9,297 282.2,297.5 283.6,297.9 285,298.2 286.3,298.5 287.7,298.8 289.1,298.9 290.4,299.1 291.8,299.2 293.1,299.3 294.5,299.4 295.9,299.5 297.2,299.6 298.6,299.7 300,299.7 301.3,299.8 302.7,299.8 304,299.9 317.7,299.9 319,300 349,300" stroke="#1ad21a" stroke-width="1.5" stroke-dasharray="1.2 1.3"/>
<path d="M199.5,302 200.9,299.5 202.2,296.3 203.6,292.9 204.9,289.5 206.3,285.9 207.7,282 209,278 210.4,274.2 211.8,270.7 213.1,267.5 214.5,264.6 215.8,261.9 217.2,259.2 218.6,256.5 219.9,253.8 221.3,251.3 222.7,249 224,246.7 225.4,244.6 226.7,242.5 228.1,240.6 229.5,238.7 230.8,236.9 232.2,235.4 233.6,234 234.9,233 236.3,232.1 237.6,231.3 239,230.7 240.4,230.3 241.7,230.4 243.1,230.9 244.5,231.8 245.8,233.1 247.2,234.8 248.5,237.1 249.9,240 251.3,243.4 252.6,247 254,250.6 255.4,254.5 256.7,258.4 258.1,262.5 259.4,266.5 260.8,270.3 262.2,274 263.5,277.3 264.9,280.3 266.3,282.9 267.6,285.3 269,287.4 270.3,289.2 271.7,290.9 273.1,292.5 274.4,293.8 275.8,294.9 277.2,295.8 278.5,296.5 279.9,297 281.2,297.5 282.6,297.9 284,298.2 285.3,298.5 286.7,298.8 288.1,298.9 289.4,299.1 290.8,299.2 292.1,299.3 293.5,299.4 294.9,299.5 296.2,299.6 297.6,299.7 299,299.7 300.3,299.8 301.7,299.8 303,299.9 316.7,299.9 318,300 348,300" stroke="#0b14dc" stroke-width="1.5" stroke-dasharray="1.2 1.3"/>
<path d="M199.5,302 200.9,299.5 202.2,296.3 203.6,292.9 204.9,289.5 206.3,285.9 207.7,282 209,278 210.4,274.2 211.8,270.7 213.1,267.5 214.5,264.6 215.8,261.9 217.2,259.2 218.6,256.5 219.9,253.8 221.3,251.3 222.7,249 224,246.7 225.4,244.6 226.7,242.5 228.1,240.6 229.5,238.7 230.8,236.9 232.2,235.2 233.6,233.6 234.9,232 236.3,230.5 237.6,229.1 239,227.7 240.4,226.4 241.7,225.2 243.1,224.1 244.5,223.1 245.8,222.3 247.2,221.7 248.5,221.3 249.9,221 251.3,220.8 252.6,220.7 255.4,220.7 256.7,220.8 258.1,221.2 259.4,221.9 260.8,222.8 262.2,224 263.5,225.5 264.9,227.4 266.3,229.6 267.6,232 269,234.7 270.3,237.5 271.7,240.6 273.1,243.9 274.4,247.4 275.8,251.1 277.2,255 278.5,258.7 279.9,262.2 281.2,265.2 282.6,268 284,270.5 285.3,272.8 286.7,274.8 288.1,276.7 289.4,278.3 290.8,279.9 292.1,281.3 293.5,282.6 294.9,283.7 296.2,284.7 297.6,285.6 299,286.5 300.3,287.2 301.7,287.9 303,288.5 304.4,289.1 305.8,289.6 307.1,290 308.5,290.5 309.9,290.9 311.2,291.4 312.6,291.7 313.9,292.1 315.3,292.4 316.7,292.7 318,292.9 319.4,293 320.8,293.1 322.1,293.2 323.5,293.3 324.8,293.4 326.2,293.4 327.6,293.5 328.9,293.6 330.3,293.6 331.7,293.7 333,293.7 334.4,293.8 335.7,293.8 337.1,293.9 341.2,293.9 342.6,294 348,294" stroke="#e8262a" stroke-width="1.3"/>
<path d="M199.5,302 200.9,299.5 202.2,296.3 203.6,292.9 204.9,289.5 206.3,285.9 207.7,282 209,278 210.4,274.2 211.8,270.7 213.1,267.5 214.5,264.6 215.8,261.9 217.2,259.2 218.6,256.5 219.9,253.8 221.3,251.3 222.7,249 224,246.7 225.4,244.6 226.7,242.5 228.1,240.6 229.5,238.7 230.8,236.9 232.2,235.2 233.6,233.5 234.9,231.9 236.3,230.4 237.6,228.9 239,227.5 240.4,226.1 241.7,224.8 243.1,223.6 244.5,222.6 245.8,221.8 247.2,221.2 248.5,220.7 249.9,220.4 251.3,220.2 252.6,220.1 254,220 255.4,220 256.7,220.1 258.1,220.5 259.4,221.1 260.8,222 262.2,223.1 263.5,224.5 264.9,226.3 266.3,228.5 267.6,230.9 269,233.4 270.3,236.2 271.7,239.3 273.1,242.5 274.4,246 275.8,249.7 277.2,253.6 278.5,257.3 279.9,260.8 281.2,263.9 282.6,266.7 284,269.2 285.3,271.5 286.7,273.6 288.1,275.5 289.4,277.2 290.8,278.7 292.1,280.2 293.5,281.5 294.9,282.7 296.2,283.7 297.6,284.7 299,285.5 300.3,286.3 301.7,287 303,287.7 304.4,288.2 305.8,288.8 307.1,289.3 308.5,289.7 309.9,290.2 311.2,290.6 312.6,291 313.9,291.4 315.3,291.7 316.7,292 318,292.2 319.4,292.3 320.8,292.4 322.1,292.5 323.5,292.6 324.8,292.7 326.2,292.7 327.6,292.8 328.9,292.9 330.3,292.9 331.7,293 333,293 334.4,293.1 335.7,293.1 337.1,293.2 341.2,293.2 342.6,293.3 348,293.3" stroke="#000000" stroke-width="1.3"/>
<path d="M199.5,302 200.9,299.5 202.2,296.2 203.6,292.9 205,289.4 206.4,285.7 207.7,281.8 209.1,277.9 210.5,274 211.8,270.4 213.2,267.3 214.6,264.4 216,261.6 217.3,258.9 218.7,256.2 220.1,253.6 221.4,251.1 222.8,248.7 224.2,246.5 225.6,244.3 226.9,242.3 228.3,240.3 229.7,238.4 231,236.6 232.4,234.9 233.8,233.2 235.2,231.5 236.5,229.9 237.9,228.4 239.3,226.9 240.6,225.5 242,224.2 243.4,223 244.8,221.9 246.1,220.9 247.5,220 248.9,219.2 250.2,218.5 251.6,217.9 253,217.4 254.4,217 255.7,216.7 257.1,216.5 258.5,216.4 259.8,216.6 261.2,216.9 262.6,217.3 264,218 265.3,218.8 266.7,219.9 268.1,221.4 269.4,223.2 270.8,225.2 272.2,227.5 273.6,230.2 274.9,233 276.3,236 277.7,239.1 279.1,242.2 280.4,245.4 281.8,248.5 283.2,251.5 284.5,254.4 285.9,257.3 287.3,260 288.7,262.5 290,264.8 291.4,267.1 292.8,269.1 294.1,271 295.5,272.8 296.9,274.3 298.3,275.7 299.6,277 301,278.1 302.4,279.2 303.7,280.2 305.1,281 306.5,281.8 307.9,282.6 309.2,283.3 310.6,283.9 312,284.5 313.3,285 314.7,285.4 316.1,285.7 317.5,286 318.8,286.3 320.2,286.6 321.6,286.8 322.9,287 324.3,287.2 325.7,287.4 327.1,287.6 328.4,287.7 329.8,287.8 331.2,287.9 332.5,288 333.9,288 335.3,288.1 336.7,288.1 338,288.2 339.4,288.2 340.8,288.3 343.5,288.3 344.9,288.4 349,288.4" stroke="#1ad21a" stroke-width="1.3"/>
<path d="M199.5,302 200.9,299.5 202.2,296.2 203.6,292.9 205,289.4 206.4,285.7 207.7,281.8 209.1,277.9 210.5,274 211.8,270.4 213.2,267.3 214.6,264.4 216,261.6 217.3,258.9 218.7,256.2 220.1,253.6 221.4,251.1 222.8,248.7 224.2,246.5 225.6,244.3 226.9,242.3 228.3,240.3 229.7,238.4 231,236.6 232.4,234.9 233.8,233.2 235.2,231.5 236.5,229.9 237.9,228.3 239.3,226.8 240.6,225.4 242,224.1 243.4,222.9 244.8,221.7 246.1,220.6 247.5,219.6 248.9,218.7 250.2,218 251.6,217.4 253,216.8 254.4,216.4 255.7,216 257.1,215.8 258.5,215.7 259.8,215.8 261.2,216.1 262.6,216.6 264,217.2 265.3,218 266.7,219 268.1,220.4 269.4,222.1 270.8,224 272.2,226.3 273.6,228.8 274.9,231.6 276.3,234.6 277.7,237.6 279.1,240.6 280.4,243.7 281.8,246.8 283.2,249.8 284.5,252.7 285.9,255.5 287.3,258.2 288.7,260.7 290,263 291.4,265.2 292.8,267.2 294.1,269.1 295.5,270.9 296.9,272.4 298.3,273.9 299.6,275.2 301,276.5 302.4,277.6 303.7,278.6 305.1,279.5 306.5,280.3 307.9,281 309.2,281.7 310.6,282.3 312,282.8 313.3,283.3 314.7,283.7 316.1,284 317.5,284.3 318.8,284.6 320.2,284.8 321.6,285.1 322.9,285.3 324.3,285.5 325.7,285.6 327.1,285.8 328.4,285.9 329.8,286 331.2,286.1 332.5,286.2 333.9,286.2 335.3,286.3 336.7,286.3 338,286.4 339.4,286.4 340.8,286.5 343.5,286.5 344.9,286.6 349,286.6" stroke="#0b14dc" stroke-width="1.3"/>
</g>
<rect x="199.5" y="172.2" width="149.50" height="131.70" fill="none" stroke="#1a1a1a" stroke-width="1.1"/>
<line x1="236.88" y1="172.2" x2="236.88" y2="174.79999999999998" stroke="#000" stroke-width="1.25"/>
<line x1="236.88" y1="303.9" x2="236.88" y2="301.29999999999995" stroke="#000" stroke-width="1.25"/>
<line x1="274.25" y1="172.2" x2="274.25" y2="174.79999999999998" stroke="#000" stroke-width="1.25"/>
<line x1="274.25" y1="303.9" x2="274.25" y2="301.29999999999995" stroke="#000" stroke-width="1.25"/>
<line x1="311.62" y1="172.2" x2="311.62" y2="174.79999999999998" stroke="#000" stroke-width="1.25"/>
<line x1="311.62" y1="303.9" x2="311.62" y2="301.29999999999995" stroke="#000" stroke-width="1.25"/>
<line x1="199.5" y1="281.95" x2="202.1" y2="281.95" stroke="#000" stroke-width="1.25"/>
<line x1="349.0" y1="281.95" x2="346.4" y2="281.95" stroke="#000" stroke-width="1.25"/>
<line x1="199.5" y1="260.00" x2="202.1" y2="260.00" stroke="#000" stroke-width="1.25"/>
<line x1="349.0" y1="260.00" x2="346.4" y2="260.00" stroke="#000" stroke-width="1.25"/>
<line x1="199.5" y1="238.05" x2="202.1" y2="238.05" stroke="#000" stroke-width="1.25"/>
<line x1="349.0" y1="238.05" x2="346.4" y2="238.05" stroke="#000" stroke-width="1.25"/>
<line x1="199.5" y1="216.10" x2="202.1" y2="216.10" stroke="#000" stroke-width="1.25"/>
<line x1="349.0" y1="216.10" x2="346.4" y2="216.10" stroke="#000" stroke-width="1.25"/>
<line x1="199.5" y1="194.15" x2="202.1" y2="194.15" stroke="#000" stroke-width="1.25"/>
<line x1="349.0" y1="194.15" x2="346.4" y2="194.15" stroke="#000" stroke-width="1.25"/>
<text transform="translate(344.20,278.70) scale(0.83,1)" text-anchor="end" font-family='"Liberation Serif", serif' font-weight="bold" font-size="13.8">b(ii)</text>
<clipPath id="cp12"><rect x="365.4" y="171.2" width="150.0" height="133.2"/></clipPath>
<g clip-path="url(#cp12)" fill="none" stroke-linejoin="round">
<path d="M365.6,302 367,299.4 368.3,296 369.7,292.5 371.1,289 372.5,285.6 373.8,282.2 375.2,278.7 376.6,275.1 378,271.5 379.3,268 380.7,264.8 382.1,261.8 383.5,259 384.8,256.5 386.2,254.1 387.6,251.9 388.9,249.8 390.3,247.9 391.7,246 393.1,244.2 394.4,242.5 395.8,240.9 397.2,239.3 398.8,237.8 400.5,236.3 402.2,235 403.7,233.8 405.1,232.9 406.4,232.1 407.8,231.4 409.2,230.6 410.5,229.9 411.9,229.3 413.3,229 414.7,228.9 417.4,228.9 418.8,229 420.2,229.3 421.5,229.6 422.9,230.2 424.3,230.9 425.7,231.6 427,232.3 428.4,233.2 429.8,234.1 431.1,235.1 432.5,236.2 433.9,237.3 435.3,238.6 436.6,239.9 438,241.3 439.4,242.8 440.8,244.3 442.1,245.9 443.5,247.4 444.9,248.8 446.3,250.2 447.6,251.5 449,252.6 450.4,253.6 451.8,254.4 453.1,255.2 454.5,255.9 455.9,256.6 457.2,257.2 458.6,257.8 460,258.3 461.4,258.7 462.7,259.1 464.1,259.4 465.5,259.6 466.9,259.8 468.2,260 469.6,260.1 471,260.2 472.4,260.3 473.7,260.4 475.1,260.5 476.5,260.5 477.8,260.6 479.2,260.7 480.6,260.7 482,260.8 483.3,260.9 484.7,261 486.1,261 487.5,261.1 488.8,261.2 490.2,261.2 491.6,261.3 493,261.4 494.3,261.4 495.7,261.5 497.1,261.5 498.4,261.6 499.8,261.7 501.2,261.7 502.6,261.8 503.9,261.8 505.3,261.9 506.7,261.9 508.1,262 509.4,262 510.8,262.1 513.6,262.1 514.9,262.2 516.3,262.2" stroke="#e8262a" stroke-width="1.5" stroke-dasharray="1.2 1.3"/>
<path d="M365.6,302 367,299.4 368.3,296 369.7,292.5 371.1,289 372.5,285.6 373.8,282.2 375.2,278.7 376.6,275.1 378,271.5 379.3,268 380.7,264.8 382.1,261.8 383.5,259 384.8,256.5 386.2,254.1 387.6,251.9 388.9,249.8 390.3,247.9 391.7,246 393.1,244.2 394.4,242.5 395.8,240.9 397.2,239.3 398.6,237.8 399.9,236.3 401.3,235 402.7,233.8 404.1,232.9 405.4,232.1 406.8,231.4 408.2,230.6 409.5,229.9 410.9,229.3 412.3,229 413.7,228.9 416.4,228.9 417.8,229 419.2,229.3 420.5,229.6 421.9,230.2 423.3,230.9 424.7,231.6 426,232.3 427.4,233.2 428.8,234.1 430.1,235.1 431.5,236.2 432.9,237.3 434.3,238.6 435.6,239.9 437,241.3 438.4,242.8 439.8,244.3 441.1,245.9 442.5,247.4 443.9,248.8 445.3,250.2 446.6,251.5 448,252.6 449.4,253.6 450.8,254.4 452.1,255.2 453.5,255.9 454.9,256.6 456.2,257.2 457.6,257.8 459,258.3 460.4,258.7 461.7,259.1 463.1,259.4 464.5,259.6 465.9,259.8 467.2,260 468.6,260.1 470,260.2 471.4,260.3 472.7,260.4 474.1,260.5 475.5,260.5 476.8,260.6 478.2,260.7 479.6,260.7 481,260.8 482.3,260.9 483.7,261 485.1,261 486.5,261.1 487.8,261.2 489.2,261.2 490.6,261.3 492,261.4 493.3,261.4 494.7,261.5 496.1,261.5 497.4,261.6 498.8,261.7 500.2,261.7 501.6,261.8 502.9,261.8 504.3,261.9 505.7,261.9 507.1,262 508.4,262 509.8,262.1 512.6,262.1 513.9,262.2 515.3,262.2" stroke="#000000" stroke-width="1.5" stroke-dasharray="1.2 1.3"/>
<path d="M365.6,302 367,299.4 368.3,296 369.7,292.5 371.1,289 372.5,285.6 373.8,282.2 375.2,278.7 376.6,275.1 378,271.5 379.3,268 380.7,264.8 382.1,261.8 383.5,259 384.8,256.5 386.2,254.1 387.6,251.9 388.9,249.8 390.3,247.9 391.7,246 393.1,244.2 394.4,242.5 395.8,240.9 397.2,239.3 398.8,237.9 400.5,236.5 402.2,235.3 403.7,234.2 405.1,233.3 406.4,232.6 407.8,232.1 409.2,231.7 410.5,231.5 411.9,231.3 413.3,231.4 414.7,231.7 416,232.1 417.4,232.7 418.8,233.4 420.2,234.3 421.5,235.2 422.9,236.4 424.3,237.6 425.7,238.8 427,240.2 428.4,241.5 429.8,242.9 431.1,244.4 432.5,245.9 433.9,247.4 435.3,248.9 436.6,250.3 438,251.5 439.4,252.7 440.8,253.8 442.1,254.9 443.5,255.8 444.9,256.7 446.3,257.6 447.6,258.3 449,258.9 450.4,259.4 451.8,259.9 453.1,260.3 454.5,260.6 455.9,260.9 457.2,261.2 458.6,261.4 460,261.6 461.4,261.8 462.7,262 464.1,262.1 465.5,262.2 466.9,262.4 468.2,262.5 469.6,262.6 471,262.7 472.4,262.7 473.7,262.8 475.1,262.9 477.8,262.9 479.2,263 483.3,263 484.7,263.1 491.6,263.1 493,263.2 501.2,263.2 502.6,263.3 516.3,263.3" stroke="#1ad21a" stroke-width="1.5" stroke-dasharray="1.2 1.3"/>
<path d="M365.6,302 367,299.4 368.3,296 369.7,292.5 371.1,289 372.5,285.6 373.8,282.2 375.2,278.7 376.6,275.1 378,271.5 379.3,268 380.7,264.8 382.1,261.8 383.5,259 384.8,256.5 386.2,254.1 387.6,251.9 388.9,249.8 390.3,247.9 391.7,246 393.1,244.2 394.4,242.5 395.8,240.9 397.2,239.3 398.6,237.9 399.9,236.5 401.3,235.3 402.7,234.2 404.1,233.3 405.4,232.6 406.8,232.1 408.2,231.7 409.5,231.5 410.9,231.3 412.3,231.4 413.7,231.7 415,232.1 416.4,232.7 417.8,233.4 419.2,234.3 420.5,235.2 421.9,236.4 423.3,237.6 424.7,238.8 426,240.2 427.4,241.5 428.8,242.9 430.1,244.4 431.5,245.9 432.9,247.4 434.3,248.9 435.6,250.3 437,251.5 438.4,252.7 439.8,253.8 441.1,254.9 442.5,255.8 443.9,256.7 445.3,257.6 446.6,258.3 448,258.9 449.4,259.4 450.8,259.9 452.1,260.3 453.5,260.6 454.9,260.9 456.2,261.2 457.6,261.4 459,261.6 460.4,261.8 461.7,262 463.1,262.1 464.5,262.2 465.9,262.4 467.2,262.5 468.6,262.6 470,262.7 471.4,262.7 472.7,262.8 474.1,262.9 476.8,262.9 478.2,263 482.3,263 483.7,263.1 490.6,263.1 492,263.2 500.2,263.2 501.6,263.3 515.3,263.3" stroke="#0b14dc" stroke-width="1.5" stroke-dasharray="1.2 1.3"/>
<path d="M365.6,302 367,299.4 368.3,296 369.7,292.5 371.1,289 372.5,285.6 373.8,282.2 375.2,278.7 376.6,275.1 378,271.5 379.3,268 380.7,264.8 382.1,261.8 383.5,259 384.8,256.5 386.2,254.1 387.6,251.9 388.9,249.8 390.3,247.9 391.7,246 393.1,244.2 394.4,242.5 395.8,240.9 397.2,239.4 398.6,238.2 399.9,237.1 401.3,236.1 402.7,234.8 404.1,233.4 405.4,232 406.8,230.8 408.2,229.8 409.5,229 410.9,228.2 412.3,227.6 413.7,227.1 415,226.6 416.4,226.2 417.8,226 419.2,225.8 420.5,225.8 421.9,225.7 426,225.7 427.4,225.8 428.8,226 430.1,226.3 431.5,226.7 432.9,227.2 434.3,227.7 435.6,228.4 437,229.3 438.4,230.3 439.8,231.4 441.1,232.5 442.5,233.8 443.9,235 445.3,236.3 446.6,237.6 448,238.9 449.4,240.2 450.8,241.4 452.1,242.5 453.5,243.5 454.9,244.5 456.2,245.4 457.6,246.2 459,246.9 460.4,247.6 461.7,248.2 463.1,248.8 464.5,249.3 465.9,249.6 467.2,250 468.6,250.2 470,250.4 471.4,250.7 472.7,250.9 474.1,251.2 475.5,251.4 476.8,251.8 478.2,252.2 479.6,252.6 481,253 482.3,253.3 483.7,253.5 485.1,253.6 486.5,253.7 487.8,253.8 489.2,253.8 490.6,253.9 492,253.9 493.3,254 496.1,254 497.4,254.1 500.2,254.1 501.6,254.2 505.7,254.2 507.1,254.3 515.3,254.3" stroke="#e8262a" stroke-width="1.3"/>
<path d="M365.6,302 367,299.4 368.3,296 369.7,292.5 371.1,289 372.5,285.6 373.8,282.2 375.2,278.7 376.6,275.1 378,271.5 379.3,268 380.7,264.8 382.1,261.8 383.5,259 384.8,256.5 386.2,254.1 387.6,251.9 388.9,249.8 390.3,247.9 391.7,246 393.1,244.2 394.4,242.5 395.8,240.9 397.2,239.4 398.6,238.2 399.9,237.1 401.3,236 402.7,234.8 404.1,233.4 405.4,231.9 406.8,230.7 408.2,229.7 409.5,228.8 410.9,228.1 412.3,227.4 413.7,226.9 415,226.4 416.4,225.9 417.8,225.7 419.2,225.5 420.5,225.4 421.9,225.4 423.3,225.3 426,225.3 427.4,225.4 428.8,225.6 430.1,225.8 431.5,226.2 432.9,226.6 434.3,227.1 435.6,227.8 437,228.6 438.4,229.5 439.8,230.6 441.1,231.7 442.5,232.9 443.9,234.2 445.3,235.4 446.6,236.7 448,238 449.4,239.2 450.8,240.4 452.1,241.4 453.5,242.5 454.9,243.4 456.2,244.3 457.6,245.1 459,245.8 460.4,246.5 461.7,247.1 463.1,247.6 464.5,248.1 465.9,248.5 467.2,248.8 468.6,249.1 470,249.3 471.4,249.6 472.7,249.8 474.1,250.1 475.5,250.5 476.8,250.8 478.2,251.3 479.6,251.7 481,252.1 482.3,252.4 483.7,252.7 485.1,252.8 486.5,252.9 487.8,253 489.2,253 490.6,253.1 492,253.2 493.3,253.2 494.7,253.3 497.4,253.3 498.8,253.4 500.2,253.4 501.6,253.5 507.1,253.5 508.4,253.6 515.3,253.6" stroke="#000000" stroke-width="1.3"/>
<path d="M365.6,302 367,299.4 368.3,296 369.7,292.5 371.1,289 372.5,285.6 373.8,282.2 375.2,278.7 376.6,275.1 378,271.5 379.3,268 380.7,264.8 382.1,261.8 383.5,259 384.8,256.5 386.2,254.1 387.6,251.9 388.9,249.8 390.3,247.9 391.7,246 393.1,244.2 394.4,242.5 395.8,240.9 397.2,239.4 398.6,238.2 399.9,237.1 401.3,235.9 402.7,234.6 404.1,233.1 405.4,231.6 406.8,230.3 408.2,229.2 409.5,228.4 410.9,227.6 412.3,226.9 413.7,226.4 415,225.8 416.4,225.4 417.8,225 419.2,224.6 420.5,224.4 421.9,224.1 423.3,223.9 424.7,223.8 426,223.7 427.4,223.7 428.8,223.8 430.1,223.8 431.5,223.9 432.9,224 434.3,224.1 435.6,224.4 437,224.7 438.4,225.1 439.8,225.5 441.1,226.1 442.5,226.7 443.9,227.5 445.3,228.3 446.6,229.1 448,229.9 449.4,230.8 450.8,231.8 452.1,232.8 453.5,233.7 454.9,234.7 456.2,235.7 457.6,236.7 459,237.5 460.4,238.4 461.7,239.1 463.1,239.8 464.5,240.4 465.9,241 467.2,241.5 468.6,242 470,242.5 471.4,243 472.7,243.5 474.1,243.9 475.5,244.3 476.8,244.8 478.2,245.2 479.6,245.7 481,246.1 482.3,246.5 483.7,246.9 485.1,247.2 486.5,247.5 487.8,247.7 489.2,247.8 490.6,247.9 492,248 493.3,248.1 494.7,248.1 496.1,248.2 497.4,248.3 498.8,248.3 500.2,248.4 501.6,248.4 502.9,248.5 504.3,248.5 505.7,248.6 508.4,248.6 509.8,248.7 515.3,248.7" stroke="#1ad21a" stroke-width="1.3"/>
<path d="M365.6,302 367,299.4 368.3,296 369.7,292.5 371.1,289 372.5,285.6 373.8,282.2 375.2,278.7 376.6,275.1 378,271.5 379.3,268 380.7,264.8 382.1,261.8 383.5,259 384.8,256.5 386.2,254.1 387.6,251.9 388.9,249.8 390.3,247.9 391.7,246 393.1,244.2 394.4,242.5 395.8,240.9 397.2,239.4 398.6,238.2 399.9,237.1 401.3,236 402.7,234.7 404.1,233.2 405.4,231.7 406.8,230.3 408.2,229.2 409.5,228.3 410.9,227.5 412.3,226.8 413.7,226.2 415,225.7 416.4,225.2 417.8,224.8 419.2,224.4 420.5,224.1 421.9,223.8 423.3,223.6 424.7,223.5 426,223.4 431.5,223.4 432.9,223.5 434.3,223.6 435.6,223.8 437,224 438.4,224.4 439.8,224.8 441.1,225.3 442.5,225.9 443.9,226.6 445.3,227.3 446.6,228.1 448,228.9 449.4,229.7 450.8,230.6 452.1,231.5 453.5,232.5 454.9,233.5 456.2,234.4 457.6,235.3 459,236.2 460.4,237.1 461.7,237.8 463.1,238.6 464.5,239.2 465.9,239.8 467.2,240.4 468.6,240.9 470,241.4 471.4,241.9 472.7,242.3 474.1,242.7 475.5,243.1 476.8,243.6 478.2,244 479.6,244.4 481,244.8 482.3,245.2 483.7,245.6 485.1,245.9 486.5,246.1 487.8,246.3 489.2,246.4 490.6,246.5 492,246.5 493.3,246.6 496.1,246.6 497.4,246.7 500.2,246.7 501.6,246.8 505.7,246.8 507.1,246.9 515.3,246.9" stroke="#0b14dc" stroke-width="1.3"/>
</g>
<rect x="365.4" y="172.2" width="150.00" height="131.70" fill="none" stroke="#1a1a1a" stroke-width="1.1"/>
<line x1="402.90" y1="172.2" x2="402.90" y2="174.79999999999998" stroke="#000" stroke-width="1.25"/>
<line x1="402.90" y1="303.9" x2="402.90" y2="301.29999999999995" stroke="#000" stroke-width="1.25"/>
<line x1="440.40" y1="172.2" x2="440.40" y2="174.79999999999998" stroke="#000" stroke-width="1.25"/>
<line x1="440.40" y1="303.9" x2="440.40" y2="301.29999999999995" stroke="#000" stroke-width="1.25"/>
<line x1="477.90" y1="172.2" x2="477.90" y2="174.79999999999998" stroke="#000" stroke-width="1.25"/>
<line x1="477.90" y1="303.9" x2="477.90" y2="301.29999999999995" stroke="#000" stroke-width="1.25"/>
<line x1="365.4" y1="281.95" x2="368.0" y2="281.95" stroke="#000" stroke-width="1.25"/>
<line x1="515.4" y1="281.95" x2="512.8" y2="281.95" stroke="#000" stroke-width="1.25"/>
<line x1="365.4" y1="260.00" x2="368.0" y2="260.00" stroke="#000" stroke-width="1.25"/>
<line x1="515.4" y1="260.00" x2="512.8" y2="260.00" stroke="#000" stroke-width="1.25"/>
<line x1="365.4" y1="238.05" x2="368.0" y2="238.05" stroke="#000" stroke-width="1.25"/>
<line x1="515.4" y1="238.05" x2="512.8" y2="238.05" stroke="#000" stroke-width="1.25"/>
<line x1="365.4" y1="216.10" x2="368.0" y2="216.10" stroke="#000" stroke-width="1.25"/>
<line x1="515.4" y1="216.10" x2="512.8" y2="216.10" stroke="#000" stroke-width="1.25"/>
<line x1="365.4" y1="194.15" x2="368.0" y2="194.15" stroke="#000" stroke-width="1.25"/>
<line x1="515.4" y1="194.15" x2="512.8" y2="194.15" stroke="#000" stroke-width="1.25"/>
<text transform="translate(511.10,297.10) scale(0.83,1)" text-anchor="end" font-family='"Liberation Serif", serif' font-weight="bold" font-size="13.8">b(iii)</text>
<clipPath id="cp13"><rect x="532.5" y="171.2" width="150.0" height="133.2"/></clipPath>
<g clip-path="url(#cp13)" fill="none" stroke-linejoin="round">
<path d="M532.6,301.8 534,298.9 535.4,295.1 536.7,291.2 538.1,287.4 539.5,283.6 540.9,279.9 542.2,276.2 543.6,272.7 545,269.2 546.4,265.7 547.7,262.3 549.1,259 550.5,255.9 551.9,253.1 553.2,250.4 554.6,247.7 556,245.1 557.4,242.5 558.7,240 560.1,237.5 561.5,235 562.9,232.5 564.2,230 565.6,227.6 567,225.2 568.4,223 569.7,220.8 571.1,218.6 572.5,216.4 573.9,214.1 575.2,211.8 576.6,209.9 578,208.3 579.4,207.2 580.7,206.3 582.1,205.5 583.5,204.7 584.9,204 586.2,203.6 587.6,203.4 589,203.3 590.4,203.3 591.7,203.6 593.1,204 594.5,204.6 595.9,205.3 597.2,206.1 598.6,207.1 600,208.3 601.4,209.8 602.7,211.7 604.1,213.7 605.5,215.9 606.9,217.9 608.2,219.7 609.6,221.2 611,222.7 612.4,224.2 613.7,225.8 615.1,227.5 616.5,229.2 617.9,230.9 619.2,232.3 620.6,233.7 622,235 623.4,236.1 624.7,237.1 626.1,238 627.5,238.7 628.9,239.3 630.2,239.9 631.6,240.4 633,240.8 634.4,241.2 635.7,241.5 637.1,241.7 638.5,241.9 639.9,242.1 641.2,242.2 642.6,242.4 644,242.5 645.4,242.6 646.7,242.7 648.1,242.8 649.5,242.8 650.9,242.9 653.6,242.9 655,243 657.7,243 659.1,243.1 661.9,243.1 663.2,243.2 664.6,243.2 666,243.3 668.7,243.3 670.1,243.4 671.5,243.4 672.9,243.5 674.2,243.5 675.6,243.6 677,243.6 678.4,243.7 679.7,243.7 681.1,243.8 682.5,243.8" stroke="#e8262a" stroke-width="1.5" stroke-dasharray="1.2 1.3"/>
<path d="M532.6,301.8 534,298.9 535.4,295.1 536.7,291.2 538.1,287.4 539.5,283.6 540.9,279.9 542.2,276.2 543.6,272.7 545,269.2 546.4,265.7 547.7,262.3 549.1,259 550.5,255.9 551.9,253.1 553.2,250.4 554.6,247.7 556,245.1 557.4,242.5 558.7,240 560.1,237.5 561.5,235 562.9,232.5 564.2,230 565.6,227.6 567,225.2 568.4,223 569.7,220.8 571.1,218.6 572.5,216.4 573.9,214.1 575.2,211.9 576.6,209.8 578,208.1 579.4,206.8 580.7,205.8 582.1,204.9 583.5,204.2 584.9,203.7 586.2,203.4 587.6,203.3 589,203.3 590.4,203.5 591.7,203.8 593.1,204.4 594.5,205.1 595.9,205.9 597.2,206.8 598.6,207.9 600,209.3 601.4,210.9 602.7,212.7 604.1,214.7 605.5,216.8 606.9,218.6 608.2,220.2 609.6,221.7 611,223.2 612.4,224.8 613.7,226.5 615.1,228.2 616.5,229.8 617.9,231.4 619.2,232.7 620.6,234 622,235.2 623.4,236.3 624.7,237.2 626.1,237.9 627.5,238.6 628.9,239.1 630.2,239.6 631.6,240.1 633,240.5 634.4,240.8 635.7,241 637.1,241.3 638.5,241.4 639.9,241.6 641.2,241.7 642.6,241.9 644,242 645.4,242.1 646.7,242.2 648.1,242.2 649.5,242.3 652.2,242.3 653.6,242.4 657.7,242.4 659.1,242.5 660.5,242.5 661.9,242.6 664.6,242.6 666,242.7 667.4,242.7 668.7,242.8 670.1,242.8 671.5,242.9 672.9,242.9 674.2,243 675.6,243 677,243.1 678.4,243.1 679.7,243.2 681.1,243.2 682.5,243.3" stroke="#000000" stroke-width="1.5" stroke-dasharray="1.2 1.3"/>
<path d="M532.6,301.8 534,298.9 535.4,295.1 536.7,291.2 538.1,287.4 539.5,283.6 540.9,279.9 542.2,276.2 543.6,272.7 545,269.2 546.4,265.7 547.7,262.3 549.1,259 550.5,255.9 551.9,253.1 553.2,250.4 554.6,247.7 556,245.1 557.4,242.5 558.7,240 560.1,237.5 561.5,235 562.9,232.5 564.2,230 565.6,227.6 567,225.2 568.4,223 569.7,220.8 571.1,218.5 572.5,216.4 573.9,214.6 575.2,213.1 576.6,211.9 578,211 579.4,210.3 580.7,209.9 582.1,209.6 583.5,209.4 584.9,209.4 586.2,209.5 587.6,209.7 589,210.1 590.4,210.8 591.7,211.8 593.1,213.2 594.5,214.8 595.9,216.6 597.2,218.5 598.6,220.5 600,222.5 601.4,224.4 602.7,226.2 604.1,227.9 605.5,229.5 606.9,231.1 608.2,232.6 609.6,234.1 611,235.4 612.4,236.7 613.7,237.8 615.1,238.9 616.5,239.8 617.9,240.7 619.2,241.5 620.6,242.2 622,242.7 623.4,243.2 624.7,243.5 626.1,243.8 627.5,244.1 628.9,244.4 630.2,244.6 631.6,244.8 633,245 634.4,245.1 635.7,245.3 637.1,245.4 638.5,245.5 639.9,245.6 641.2,245.7 642.6,245.8 644,245.9 645.4,245.9 646.7,246 648.1,246.1 649.5,246.1 650.9,246.2 652.2,246.2 653.6,246.3 655,246.3 656.4,246.4 657.7,246.4 659.1,246.5 663.2,246.5 664.6,246.6 668.7,246.6 670.1,246.7 675.6,246.7 677,246.8 682.5,246.8" stroke="#1ad21a" stroke-width="1.5" stroke-dasharray="1.2 1.3"/>
<path d="M532.6,301.8 534,298.9 535.4,295.1 536.7,291.2 538.1,287.4 539.5,283.6 540.9,279.9 542.2,276.2 543.6,272.7 545,269.2 546.4,265.7 547.7,262.3 549.1,259 550.5,255.9 551.9,253.1 553.2,250.4 554.6,247.7 556,245.1 557.4,242.5 558.7,240 560.1,237.5 561.5,235 562.9,232.5 564.2,230 565.6,227.6 567,225.2 568.4,223 569.7,220.8 571.1,218.6 572.5,216.4 573.9,214.5 575.2,212.9 576.6,211.6 578,210.7 579.4,210 580.7,209.7 582.1,209.5 583.5,209.4 584.9,209.4 586.2,209.6 587.6,210 589,210.6 590.4,211.5 591.7,212.8 593.1,214.4 594.5,216.1 595.9,218 597.2,219.9 598.6,221.9 600,223.9 601.4,225.7 602.7,227.4 604.1,229.1 605.5,230.7 606.9,232.4 608.2,234 609.6,235.6 611,237 612.4,238.3 613.7,239.4 615.1,240.4 616.5,241.3 617.9,242.1 619.2,242.8 620.6,243.4 622,243.9 623.4,244.2 624.7,244.6 626.1,244.9 627.5,245.1 628.9,245.4 630.2,245.6 631.6,245.7 633,245.9 634.4,246 635.7,246.2 637.1,246.3 638.5,246.4 639.9,246.5 641.2,246.6 642.6,246.6 644,246.7 645.4,246.8 646.7,246.9 648.1,246.9 649.5,247 650.9,247 652.2,247.1 653.6,247.1 655,247.2 657.7,247.2 659.1,247.3 661.9,247.3 663.2,247.4 667.4,247.4 668.7,247.5 674.2,247.5 675.6,247.6 682.5,247.6" stroke="#0b14dc" stroke-width="1.5" stroke-dasharray="1.2 1.3"/>
<path d="M532.6,301.8 534,298.9 535.4,295.1 536.7,291.2 538.1,287.4 539.5,283.6 540.9,279.9 542.2,276.2 543.6,272.7 545,269.2 546.4,265.7 547.7,262.3 549.1,259 550.5,255.9 551.9,253.1 553.2,250.4 554.6,247.7 556,245.1 557.4,242.5 558.7,240 560.1,237.5 561.5,235 562.9,232.5 564.2,230 565.6,227.6 567,225.2 568.4,223 569.7,220.8 571.1,218.6 572.5,216.4 573.9,214.3 575.2,212.3 576.6,210.3 578,208.5 579.4,206.8 580.7,205.2 582.1,203.6 583.5,202 584.9,200.4 586.2,198.9 587.6,197.5 589,196.2 590.4,195 591.7,194.1 593.1,193.4 594.5,192.8 595.9,192.4 597.2,192.2 598.6,192 600,192 601.4,192.1 602.7,192.3 604.1,192.7 605.5,193.3 606.9,194.2 608.2,195.2 609.6,196.5 611,197.8 612.4,199.1 613.7,200.5 615.1,202 616.5,203.7 617.9,205.4 619.2,207.2 620.6,208.9 622,210.4 623.4,211.7 624.7,212.9 626.1,214 627.5,215.1 628.9,216.1 630.2,217 631.6,218 633,218.9 634.4,219.8 635.7,220.6 637.1,221.4 638.5,222.1 639.9,222.7 641.2,223.3 642.6,223.8 644,224.3 645.4,224.7 646.7,225.1 648.1,225.4 649.5,225.7 650.9,226 652.2,226.3 653.6,226.5 655,226.7 656.4,226.9 657.7,227.1 659.1,227.2 660.5,227.3 661.9,227.4 663.2,227.5 664.6,227.6 666,227.7 667.4,227.8 668.7,227.8 670.1,227.9 671.5,227.9 672.9,228 674.2,228.1 677,228.1 678.4,228.2 682.5,228.2" stroke="#e8262a" stroke-width="1.3"/>
<path d="M532.6,301.8 534,298.9 535.4,295.1 536.7,291.2 538.1,287.4 539.5,283.6 540.9,279.9 542.2,276.2 543.6,272.7 545,269.2 546.4,265.7 547.7,262.3 549.1,259 550.5,255.9 551.9,253.1 553.2,250.4 554.6,247.7 556,245.1 557.4,242.5 558.7,240 560.1,237.5 561.5,235 562.9,232.5 564.2,230 565.6,227.6 567,225.2 568.4,223 569.7,220.8 571.1,218.6 572.5,216.4 573.9,214.3 575.2,212.2 576.6,210.3 578,208.4 579.4,206.7 580.7,205 582.1,203.4 583.5,201.7 584.9,200.1 586.2,198.5 587.6,197.1 589,195.7 590.4,194.6 591.7,193.6 593.1,192.8 594.5,192.2 595.9,191.8 597.2,191.5 598.6,191.3 600,191.2 601.4,191.3 602.7,191.5 604.1,191.9 605.5,192.4 606.9,193.2 608.2,194.2 609.6,195.4 611,196.7 612.4,198 613.7,199.4 615.1,200.8 616.5,202.4 617.9,204.2 619.2,205.9 620.6,207.6 622,209.1 623.4,210.5 624.7,211.7 626.1,212.8 627.5,213.9 628.9,214.9 630.2,215.8 631.6,216.7 633,217.6 634.4,218.5 635.7,219.3 637.1,220.1 638.5,220.8 639.9,221.4 641.2,222 642.6,222.5 644,223 645.4,223.4 646.7,223.8 648.1,224.1 649.5,224.4 650.9,224.7 652.2,224.9 653.6,225.1 655,225.4 656.4,225.5 657.7,225.7 659.1,225.8 660.5,225.9 661.9,226 663.2,226.1 664.6,226.2 666,226.2 667.4,226.3 668.7,226.4 670.1,226.4 671.5,226.5 672.9,226.5 674.2,226.6 677,226.6 678.4,226.7 682.5,226.7" stroke="#000000" stroke-width="1.3"/>
<path d="M532.6,301.8 534,298.9 535.4,295.1 536.7,291.2 538.1,287.4 539.5,283.6 540.9,279.9 542.2,276.2 543.6,272.7 545,269.2 546.4,265.7 547.7,262.3 549.1,259 550.5,255.9 551.9,253.1 553.2,250.4 554.6,247.7 556,245.1 557.4,242.5 558.7,240 560.1,237.5 561.5,235 562.9,232.5 564.2,230 565.6,227.6 567,225.2 568.4,223 569.7,220.8 571.1,218.6 572.5,216.4 573.9,214.3 575.2,212.2 576.6,210.2 578,208.3 579.4,206.5 580.7,204.8 582.1,203 583.5,201.3 584.9,199.5 586.2,197.8 587.6,196.2 589,194.6 590.4,193.3 591.7,192 593.1,190.9 594.5,189.8 595.9,188.8 597.2,187.9 598.6,187.2 600,186.6 601.4,186.1 602.7,185.8 604.1,185.5 605.5,185.4 606.9,185.4 608.2,185.6 609.6,185.8 611,186.2 612.4,186.7 613.7,187.3 615.1,188.2 616.5,189.2 617.9,190.4 619.2,191.7 620.6,193.1 622,194.5 623.4,195.9 624.7,197.3 626.1,198.5 627.5,199.8 628.9,200.9 630.2,201.9 631.6,202.9 633,203.8 634.4,204.6 635.7,205.5 637.1,206.3 638.5,207.1 639.9,207.9 641.2,208.7 642.6,209.4 644,210 645.4,210.6 646.7,211.1 648.1,211.5 649.5,211.8 650.9,212.2 652.2,212.5 653.6,212.8 655,213.1 656.4,213.3 657.7,213.5 659.1,213.7 660.5,213.8 661.9,214 663.2,214.1 664.6,214.2 666,214.4 667.4,214.5 668.7,214.6 670.1,214.7 671.5,214.8 672.9,214.9 674.2,215 675.6,215 677,215.1 678.4,215.1 679.7,215.2 682.5,215.2" stroke="#1ad21a" stroke-width="1.3"/>
<path d="M532.6,301.8 534,298.9 535.4,295.1 536.7,291.2 538.1,287.4 539.5,283.6 540.9,279.9 542.2,276.2 543.6,272.7 545,269.2 546.4,265.7 547.7,262.3 549.1,259 550.5,255.9 551.9,253.1 553.2,250.4 554.6,247.7 556,245.1 557.4,242.5 558.7,240 560.1,237.5 561.5,235 562.9,232.5 564.2,230 565.6,227.6 567,225.2 568.4,223 569.7,220.8 571.1,218.6 572.5,216.4 573.9,214.3 575.2,212.2 576.6,210.2 578,208.3 579.4,206.5 580.7,204.8 582.1,203 583.5,201.3 584.9,199.5 586.2,197.8 587.6,196.2 589,194.6 590.4,193.2 591.7,192 593.1,190.8 594.5,189.7 595.9,188.7 597.2,187.8 598.6,187 600,186.4 601.4,185.9 602.7,185.5 604.1,185.2 605.5,185 606.9,185 608.2,185.2 609.6,185.4 611,185.8 612.4,186.2 613.7,186.9 615.1,187.7 616.5,188.6 617.9,189.7 619.2,191 620.6,192.4 622,193.8 623.4,195.1 624.7,196.4 626.1,197.7 627.5,198.8 628.9,199.9 630.2,200.8 631.6,201.6 633,202.4 634.4,203.2 635.7,203.9 637.1,204.7 638.5,205.6 639.9,206.4 641.2,207.2 642.6,207.9 644,208.5 645.4,209.1 646.7,209.6 648.1,210 649.5,210.4 650.9,210.7 652.2,211.1 653.6,211.4 655,211.6 656.4,211.9 657.7,212 659.1,212.2 660.5,212.3 661.9,212.4 663.2,212.5 664.6,212.6 666,212.7 667.4,212.8 668.7,212.8 670.1,212.9 671.5,213 672.9,213 674.2,213.1 677,213.1 678.4,213.2 682.5,213.2" stroke="#0b14dc" stroke-width="1.3"/>
</g>
<rect x="532.5" y="172.2" width="150.00" height="131.70" fill="none" stroke="#1a1a1a" stroke-width="1.1"/>
<line x1="570.00" y1="172.2" x2="570.00" y2="174.79999999999998" stroke="#000" stroke-width="1.25"/>
<line x1="570.00" y1="303.9" x2="570.00" y2="301.29999999999995" stroke="#000" stroke-width="1.25"/>
<line x1="607.50" y1="172.2" x2="607.50" y2="174.79999999999998" stroke="#000" stroke-width="1.25"/>
<line x1="607.50" y1="303.9" x2="607.50" y2="301.29999999999995" stroke="#000" stroke-width="1.25"/>
<line x1="645.00" y1="172.2" x2="645.00" y2="174.79999999999998" stroke="#000" stroke-width="1.25"/>
<line x1="645.00" y1="303.9" x2="645.00" y2="301.29999999999995" stroke="#000" stroke-width="1.25"/>
<line x1="532.5" y1="281.95" x2="535.1" y2="281.95" stroke="#000" stroke-width="1.25"/>
<line x1="682.5" y1="281.95" x2="679.9" y2="281.95" stroke="#000" stroke-width="1.25"/>
<line x1="532.5" y1="260.00" x2="535.1" y2="260.00" stroke="#000" stroke-width="1.25"/>
<line x1="682.5" y1="260.00" x2="679.9" y2="260.00" stroke="#000" stroke-width="1.25"/>
<line x1="532.5" y1="238.05" x2="535.1" y2="238.05" stroke="#000" stroke-width="1.25"/>
<line x1="682.5" y1="238.05" x2="679.9" y2="238.05" stroke="#000" stroke-width="1.25"/>
<line x1="532.5" y1="216.10" x2="535.1" y2="216.10" stroke="#000" stroke-width="1.25"/>
<line x1="682.5" y1="216.10" x2="679.9" y2="216.10" stroke="#000" stroke-width="1.25"/>
<line x1="532.5" y1="194.15" x2="535.1" y2="194.15" stroke="#000" stroke-width="1.25"/>
<line x1="682.5" y1="194.15" x2="679.9" y2="194.15" stroke="#000" stroke-width="1.25"/>
<text transform="translate(677.60,297.10) scale(0.83,1)" text-anchor="end" font-family='"Liberation Serif", serif' font-weight="bold" font-size="13.8">b(iv)</text>
<clipPath id="cp20"><rect x="31.6" y="324.5" width="150.9" height="133.60000000000002"/></clipPath>
<g clip-path="url(#cp20)" fill="none" stroke-linejoin="round">
<path d="M54,457.3 55.2,457.1 56.4,456.8 57.5,456.5 58.7,456.2 59.9,455.9 61.1,455.6 62.3,455.2 63.4,454.9 64.6,454.6 65.8,454.2 67,453.8 68.1,453.4 69.3,453 70.5,452.5 71.7,452 72.9,451.5 74,450.8 75.2,450.2 76.4,449.4 77.6,448.6 78.8,447.8 79.9,446.8 81.1,445.7 82.3,444.5 83.5,443.1 84.7,441.6 85.8,439.8 87,437.8 88.2,435.6 89.4,433.1 90.5,430.3 91.7,427.2 92.9,423.6 94.1,419.6 95.3,415.3 96.4,410.7 97.6,406 98.8,401.3 100,396.5 101.2,391.8 102.3,387.3 103.5,382.9 104.7,378.7 105.9,374.8 107.1,371.2 108.2,368.1 109.4,365.7 110.6,364.2 111.8,363.1 112.9,362.3 114.1,362 115.3,362.2 116.5,362.8 117.7,363.9 118.8,365.4 120,367.9 121.2,371.4 122.4,375.4 123.6,379.8 124.7,384.2 125.9,388.4 127.1,392.6 128.3,396.7 129.4,400.7 130.6,404.7 131.8,408.6 133,412.4 134.2,416.2 135.3,419.8 136.5,423.2 137.7,426.3 138.9,429.2 140.1,431.8 141.2,434.2 142.4,436.5 143.6,438.5 144.8,440.5 146,442.2 147.1,443.8 148.3,445.2 149.5,446.4 150.7,447.4 151.8,448.4 153,449.2 154.2,450 155.4,450.7 156.6,451.3 157.7,451.8 158.9,452.3 160.1,452.8 161.3,453.2 162.5,453.5 163.6,453.9 164.8,454.2 166,454.4 167.2,454.7 168.4,454.9 169.5,455.1 170.7,455.3 171.9,455.5 173.1,455.6 174.2,455.7 175.4,455.8 176.6,455.9 177.8,456 179,456.1 180.1,456.2 181.3,456.2 182.5,456.3" stroke="#e8262a" stroke-width="1.3"/>
<path d="M55,457.3 56.2,457.1 57.3,456.8 58.5,456.5 59.7,456.2 60.8,455.9 62,455.6 63.2,455.3 64.4,454.9 65.5,454.6 66.7,454.2 67.9,453.8 69,453.5 70.2,453 71.4,452.6 72.5,452.1 73.7,451.5 74.9,450.9 76.1,450.3 77.2,449.5 78.4,448.8 79.6,447.9 80.7,447 81.9,445.9 83.1,444.7 84.2,443.4 85.4,441.9 86.6,440.2 87.8,438.3 88.9,436.1 90.1,433.7 91.3,431 92.4,428 93.6,424.5 94.8,420.7 95.9,416.5 97.1,412 98.3,407.4 99.4,402.7 100.6,398 101.8,393.3 103,388.7 104.1,384.3 105.3,380.2 106.5,376.2 107.6,372.5 108.8,369.2 110,366.4 111.1,364.6 112.3,363.1 113.5,362.2 114.7,362 115.8,362.4 117,363.2 118.2,364.4 119.3,366.2 120.5,369.2 121.7,373 122.8,377.1 124,381.5 125.2,385.8 126.4,390 127.5,394.1 128.7,398.1 129.9,402.1 131,406 132.2,409.9 133.4,413.7 134.5,417.3 135.7,420.8 136.9,424.2 138.1,427.2 139.2,430 140.4,432.5 141.6,434.9 142.7,437 143.9,439 145.1,440.9 146.2,442.6 147.4,444.1 148.6,445.4 149.7,446.6 150.9,447.7 152.1,448.6 153.3,449.4 154.4,450.1 155.6,450.8 156.8,451.4 157.9,451.9 159.1,452.4 160.3,452.8 161.4,453.2 162.6,453.6 163.8,453.9 165,454.2 166.1,454.5 167.3,454.7 168.5,454.9 169.6,455.1 170.8,455.3 172,455.5 173.1,455.6 174.3,455.7 175.5,455.8 176.7,455.9 177.8,456 179,456.1 180.2,456.2 181.3,456.2 182.5,456.3" stroke="#000000" stroke-width="1.3"/>
<path d="M54,457.3 55.2,457.2 56.4,457.1 57.5,456.9 58.7,456.8 59.9,456.6 61.1,456.5 62.3,456.3 63.4,456.2 64.6,456.1 65.8,455.9 67,455.8 68.1,455.6 69.3,455.4 70.5,455.2 71.7,454.9 72.9,454.6 74,454.3 75.2,453.9 76.4,453.5 77.6,453.1 78.8,452.7 79.9,452.2 81.1,451.6 82.3,450.9 83.5,450.2 84.7,449.4 85.8,448.5 87,447.4 88.2,446.2 89.4,444.7 90.5,443.1 91.7,441.2 92.9,439 94.1,436.6 95.3,434 96.4,431.2 97.6,428.1 98.8,424.9 100,421.4 101.2,417.9 102.3,414.2 103.5,410.4 104.7,406.5 105.9,402.4 107.1,398.2 108.2,393.9 109.4,389.8 110.6,386 111.8,382.5 112.9,379.4 114.1,376.8 115.3,374.7 116.5,373.2 117.7,372.1 118.8,371.3 120,370.7 121.2,370.6 122.4,371.4 123.6,372.9 124.7,374.7 125.9,376.5 127.1,378.7 128.3,381.1 129.4,383.7 130.6,386.6 131.8,389.7 133,393.1 134.2,396.7 135.3,400.3 136.5,403.8 137.7,407.3 138.9,410.8 140.1,414.2 141.2,417.5 142.4,420.6 143.6,423.6 144.8,426.2 146,428.6 147.1,430.9 148.3,432.9 149.5,434.9 150.7,436.8 151.8,438.5 153,440.2 154.2,441.7 155.4,443 156.6,444.2 157.7,445.3 158.9,446.3 160.1,447.2 161.3,447.9 162.5,448.7 163.6,449.3 164.8,449.9 166,450.5 167.2,451 168.4,451.5 169.5,452 170.7,452.4 171.9,452.9 173.1,453.2 174.2,453.6 175.4,453.9 176.6,454.2 177.8,454.5 179,454.8 180.1,455 181.3,455.2 182.5,455.3" stroke="#1ad21a" stroke-width="1.3"/>
<path d="M55,457.3 56.2,457.2 57.3,457.1 58.5,456.9 59.7,456.8 60.8,456.6 62,456.5 63.2,456.4 64.4,456.2 65.5,456.1 66.7,456 67.9,455.8 69,455.6 70.2,455.4 71.4,455.2 72.5,454.9 73.7,454.6 74.9,454.3 76.1,454 77.2,453.6 78.4,453.2 79.6,452.7 80.7,452.2 81.9,451.7 83.1,451.1 84.2,450.4 85.4,449.6 86.6,448.7 87.8,447.6 88.9,446.5 90.1,445.1 91.3,443.5 92.4,441.7 93.6,439.6 94.8,437.3 95.9,434.8 97.1,432 98.3,429 99.4,425.9 100.6,422.5 101.8,419 103,415.4 104.1,411.7 105.3,407.8 106.5,403.9 107.6,399.7 108.8,395.4 110,391.3 111.1,387.4 112.3,383.8 113.5,380.6 114.7,377.8 115.8,375.3 117,373.6 118.2,372.2 119.3,371.2 120.5,370.7 121.7,370.8 122.8,371.9 124,373.6 125.2,375.3 126.4,377.3 127.5,379.6 128.7,382 129.9,384.7 131,387.6 132.2,390.8 133.4,394.3 134.5,397.8 135.7,401.4 136.9,404.9 138.1,408.3 139.2,411.8 140.4,415.1 141.6,418.4 142.7,421.4 143.9,424.3 145.1,426.8 146.2,429.2 147.4,431.4 148.6,433.4 149.7,435.3 150.9,437.2 152.1,438.9 153.3,440.5 154.4,441.9 155.6,443.2 156.8,444.4 157.9,445.5 159.1,446.4 160.3,447.3 161.4,448.1 162.6,448.8 163.8,449.4 165,450 166.1,450.6 167.3,451.1 168.5,451.6 169.6,452 170.8,452.5 172,452.9 173.1,453.3 174.3,453.6 175.5,453.9 176.7,454.2 177.8,454.5 179,454.8 180.2,455 181.3,455.2 182.5,455.3" stroke="#0b14dc" stroke-width="1.3"/>
<path d="M51,457.4 52.1,457.4 53.2,457.3 54.3,457.3 55.4,457.2 56.5,457.1 57.6,457 58.7,456.8 59.8,456.6 60.9,456.4 62,456 63.1,455.5 64.2,454.8 65.3,454 66.4,453.1 67.5,452.1 68.6,451 69.7,449.8 70.8,448.4 71.9,446.8 73,445.1 74.1,443.1 75.2,441 76.3,438.6 77.4,436 78.5,433.2 79.6,430.2 80.7,427 81.8,423.7 82.9,420.2 84,416.5 85.1,412.5 86.2,408.2 87.3,403.5 88.4,398.5 89.5,393.3 90.6,387.9 91.7,382.6 92.8,377.3 93.9,372.4 95,367.7 96.1,363.3 97.2,359.3 98.3,355.9 99.4,353.3 100.5,351.2 101.6,349.8 102.7,349.5 103.8,350.7 104.9,352.9 106,355.4 107.1,358.6 108.2,362.3 109.3,366.4 110.4,370.9 111.6,375.7 112.7,380.6 113.8,385.5 114.9,390.4 116,395.1 117.1,399.8 118.2,404.3 119.3,408.8 120.4,413.2 121.5,417.4 122.6,421.4 123.7,425.2 124.8,428.6 125.9,431.7 127,434.4 128.1,436.7 129.2,438.9 130.3,440.8 131.4,442.5 132.5,444.1 133.6,445.5 134.7,446.8 135.8,447.9 136.9,448.8 138,449.7 139.1,450.5 140.2,451.2 141.3,451.8 142.4,452.4 143.5,452.9 144.6,453.4 145.7,453.9 146.8,454.3 147.9,454.7 149,455 150.1,455.3 151.2,455.6 152.3,455.8 153.4,456 154.5,456.2 155.6,456.3 156.7,456.5 157.8,456.6 158.9,456.7 160,456.8 161.1,456.9 162.2,456.9 163.3,457 164.4,457.1 165.5,457.1 166.6,457.2 167.7,457.2 168.8,457.3 171,457.3" stroke="#e8262a" stroke-width="1.5" stroke-dasharray="1.2 1.3"/>
<path d="M50,457.4 51.1,457.4 52.2,457.3 53.3,457.3 54.4,457.2 55.5,457.1 56.6,457 57.7,456.8 58.8,456.6 59.9,456.4 61,456 62.1,455.5 63.2,454.8 64.3,454 65.4,453.1 66.5,452.1 67.6,451 68.7,449.8 69.8,448.4 70.9,446.8 72,445.1 73.1,443.1 74.2,441 75.3,438.6 76.4,436 77.5,433.2 78.6,430.2 79.7,427 80.8,423.7 81.9,420.2 83,416.5 84.1,412.5 85.2,408.2 86.3,403.5 87.4,398.5 88.5,393.3 89.6,387.9 90.7,382.6 91.8,377.3 92.9,372.4 94,367.7 95.1,363.3 96.2,359.3 97.3,355.9 98.4,353.3 99.5,351.2 100.6,349.8 101.7,349.5 102.8,350.7 103.9,352.9 105,355.4 106.1,358.6 107.2,362.3 108.3,366.4 109.4,370.9 110.6,375.7 111.7,380.6 112.8,385.5 113.9,390.4 115,395.1 116.1,399.8 117.2,404.3 118.3,408.8 119.4,413.2 120.5,417.4 121.6,421.4 122.7,425.2 123.8,428.6 124.9,431.7 126,434.4 127.1,436.7 128.2,438.9 129.3,440.8 130.4,442.5 131.5,444.1 132.6,445.5 133.7,446.8 134.8,447.9 135.9,448.8 137,449.7 138.1,450.5 139.2,451.2 140.3,451.8 141.4,452.4 142.5,452.9 143.6,453.4 144.7,453.9 145.8,454.3 146.9,454.7 148,455 149.1,455.3 150.2,455.6 151.3,455.8 152.4,456 153.5,456.2 154.6,456.3 155.7,456.5 156.8,456.6 157.9,456.7 159,456.8 160.1,456.9 161.2,456.9 162.3,457 163.4,457.1 164.5,457.1 165.6,457.2 166.7,457.2 167.8,457.3 170,457.3" stroke="#000000" stroke-width="1.5" stroke-dasharray="1.2 1.3"/>
<path d="M46,457.4 47.1,457.4 48.2,457.3 49.3,457.3 50.4,457.2 51.5,457.1 52.6,456.9 53.7,456.8 54.8,456.7 55.9,456.5 57,456.2 58.1,455.9 59.2,455.5 60.3,455 61.4,454.4 62.5,453.7 63.6,452.9 64.7,451.9 65.8,450.8 66.9,449.5 68,448.1 69.1,446.5 70.2,444.7 71.3,442.6 72.4,440.2 73.5,437.7 74.6,434.9 75.7,431.9 76.8,428.5 77.9,424.5 79,420 80.1,414.9 81.2,409.4 82.3,403.6 83.4,397.7 84.5,391.5 85.6,385 86.7,378.4 87.8,371.8 88.9,365.4 90,359.4 91.1,354 92.2,349.5 93.3,345.5 94.4,342.1 95.5,339.9 96.6,339.7 97.7,341.1 98.8,343.8 99.9,347 101,350.6 102.1,354.9 103.2,359.8 104.3,365 105.4,370.5 106.6,376.2 107.7,382 108.8,387.8 109.9,393.4 111,398.8 112.1,403.9 113.2,408.7 114.3,413.2 115.4,417.5 116.5,421.5 117.6,425.5 118.7,429.2 119.8,432.5 120.9,435.3 122,437.6 123.1,439.4 124.2,441 125.3,442.5 126.4,443.9 127.5,445.5 128.6,447 129.7,448.3 130.8,449.5 131.9,450.5 133,451.4 134.1,452.2 135.2,452.8 136.3,453.3 137.4,453.8 138.5,454.2 139.6,454.6 140.7,454.9 141.8,455.2 142.9,455.4 144,455.7 145.1,455.9 146.2,456.1 147.3,456.3 148.4,456.4 149.5,456.5 150.6,456.6 151.7,456.7 152.8,456.8 153.9,456.9 155,456.9 156.1,457 157.2,457.1 158.3,457.1 159.4,457.2 161.6,457.2 162.7,457.3 166,457.3" stroke="#1ad21a" stroke-width="1.5" stroke-dasharray="1.2 1.3"/>
<path d="M45,457.4 46.1,457.4 47.2,457.3 48.3,457.3 49.4,457.2 50.5,457.1 51.6,456.9 52.7,456.8 53.8,456.7 54.9,456.5 56,456.2 57.1,455.9 58.2,455.5 59.3,455 60.4,454.4 61.5,453.7 62.6,452.9 63.7,451.9 64.8,450.8 65.9,449.5 67,448.1 68.1,446.5 69.2,444.7 70.3,442.6 71.4,440.2 72.5,437.7 73.6,434.9 74.7,431.9 75.8,428.5 76.9,424.5 78,420 79.1,414.9 80.2,409.4 81.3,403.6 82.4,397.7 83.5,391.5 84.6,385 85.7,378.4 86.8,371.8 87.9,365.4 89,359.4 90.1,354 91.2,349.5 92.3,345.5 93.4,342.1 94.5,339.9 95.6,339.7 96.7,341.1 97.8,343.8 98.9,347 100,350.6 101.1,354.9 102.2,359.8 103.3,365 104.4,370.5 105.6,376.2 106.7,382 107.8,387.8 108.9,393.4 110,398.8 111.1,403.9 112.2,408.7 113.3,413.2 114.4,417.5 115.5,421.5 116.6,425.5 117.7,429.2 118.8,432.5 119.9,435.3 121,437.6 122.1,439.4 123.2,441 124.3,442.5 125.4,443.9 126.5,445.5 127.6,447 128.7,448.3 129.8,449.5 130.9,450.5 132,451.4 133.1,452.2 134.2,452.8 135.3,453.3 136.4,453.8 137.5,454.2 138.6,454.6 139.7,454.9 140.8,455.2 141.9,455.4 143,455.7 144.1,455.9 145.2,456.1 146.3,456.3 147.4,456.4 148.5,456.5 149.6,456.6 150.7,456.7 151.8,456.8 152.9,456.9 154,456.9 155.1,457 156.2,457.1 157.3,457.1 158.4,457.2 160.6,457.2 161.7,457.3 165,457.3" stroke="#0b14dc" stroke-width="1.5" stroke-dasharray="1.2 1.3"/>
</g>
<rect x="31.6" y="325.5" width="150.90" height="132.10" fill="none" stroke="#1a1a1a" stroke-width="1.1"/>
<line x1="69.33" y1="325.5" x2="69.33" y2="328.1" stroke="#000" stroke-width="1.25"/>
<line x1="69.33" y1="457.6" x2="69.33" y2="455.0" stroke="#000" stroke-width="1.25"/>
<line x1="107.05" y1="325.5" x2="107.05" y2="328.1" stroke="#000" stroke-width="1.25"/>
<line x1="107.05" y1="457.6" x2="107.05" y2="455.0" stroke="#000" stroke-width="1.25"/>
<line x1="144.78" y1="325.5" x2="144.78" y2="328.1" stroke="#000" stroke-width="1.25"/>
<line x1="144.78" y1="457.6" x2="144.78" y2="455.0" stroke="#000" stroke-width="1.25"/>
<line x1="31.6" y1="431.18" x2="34.2" y2="431.18" stroke="#000" stroke-width="1.25"/>
<line x1="182.5" y1="431.18" x2="179.9" y2="431.18" stroke="#000" stroke-width="1.25"/>
<line x1="31.6" y1="404.76" x2="34.2" y2="404.76" stroke="#000" stroke-width="1.25"/>
<line x1="182.5" y1="404.76" x2="179.9" y2="404.76" stroke="#000" stroke-width="1.25"/>
<line x1="31.6" y1="378.34" x2="34.2" y2="378.34" stroke="#000" stroke-width="1.25"/>
<line x1="182.5" y1="378.34" x2="179.9" y2="378.34" stroke="#000" stroke-width="1.25"/>
<line x1="31.6" y1="351.92" x2="34.2" y2="351.92" stroke="#000" stroke-width="1.25"/>
<line x1="182.5" y1="351.92" x2="179.9" y2="351.92" stroke="#000" stroke-width="1.25"/>
<text x="0" y="0" transform="translate(29.5,461.20) scale(0.82,1)" text-anchor="end" font-family='"Liberation Sans", sans-serif' font-weight="bold" font-size="8.8" stroke="#000" stroke-width="0.15">0</text>
<text x="0" y="0" transform="translate(29.5,434.78) scale(0.82,1)" text-anchor="end" font-family='"Liberation Sans", sans-serif' font-weight="bold" font-size="8.8" stroke="#000" stroke-width="0.15">0.05</text>
<text x="0" y="0" transform="translate(29.5,408.36) scale(0.82,1)" text-anchor="end" font-family='"Liberation Sans", sans-serif' font-weight="bold" font-size="8.8" stroke="#000" stroke-width="0.15">0.1</text>
<text x="0" y="0" transform="translate(29.5,381.94) scale(0.82,1)" text-anchor="end" font-family='"Liberation Sans", sans-serif' font-weight="bold" font-size="8.8" stroke="#000" stroke-width="0.15">0.15</text>
<text x="0" y="0" transform="translate(29.5,355.52) scale(0.82,1)" text-anchor="end" font-family='"Liberation Sans", sans-serif' font-weight="bold" font-size="8.8" stroke="#000" stroke-width="0.15">0.2</text>
<text x="0" y="0" transform="translate(29.5,329.10) scale(0.82,1)" text-anchor="end" font-family='"Liberation Sans", sans-serif' font-weight="bold" font-size="8.8" stroke="#000" stroke-width="0.15">0.25</text>
<text transform="translate(177.30,438.70) scale(0.83,1)" text-anchor="end" font-family='"Liberation Serif", serif' font-weight="bold" font-size="13.8">c(i)</text>
<clipPath id="cp21"><rect x="199.4" y="324.5" width="150.6" height="133.60000000000002"/></clipPath>
<g clip-path="url(#cp21)" fill="none" stroke-linejoin="round">
<path d="M199.4,457.5 200.8,457.4 204.9,457.4 206.3,457.3 209.1,457.3 210.5,457.2 211.8,457.2 213.2,457.1 214.6,457.1 216,457 217.4,456.9 218.7,456.8 220.1,456.7 221.5,456.6 222.9,456.5 224.3,456.4 225.7,456.2 227,456 228.4,455.8 229.8,455.6 231.2,455.4 232.6,455.1 233.9,454.8 235.3,454.4 236.7,454 238.1,453.5 239.5,453 240.8,452.5 242.2,451.8 243.6,451.1 245,450.3 246.4,449.4 247.8,448.3 249.1,447.2 250.5,445.9 251.9,444.5 253.3,442.8 254.7,441.1 256,439.1 257.4,436.9 258.8,434.4 260.2,431.7 261.6,428.8 263,425.6 264.3,422.1 265.7,418.3 267.1,414.3 268.5,410.1 269.9,405.6 271.2,401 272.6,396.4 274,391.8 275.4,387.3 276.8,383.1 278.2,379.3 279.5,376 280.9,373.4 282.3,371.6 283.7,370.6 285.1,370.5 286.4,371.8 287.8,374.3 289.2,377.9 290.6,382.3 292,387.3 293.4,392.5 294.7,397.8 296.1,402.9 297.5,407.9 298.9,412.6 300.3,416.9 301.6,420.9 303,424.6 304.4,427.9 305.8,430.9 307.2,433.6 308.6,436.1 309.9,438.3 311.3,440.3 312.7,442.1 314.1,443.7 315.5,445.1 316.8,446.4 318.2,447.6 319.6,448.6 321,449.6 322.4,450.4 323.7,451.1 325.1,451.8 326.5,452.4 327.9,453 329.3,453.4 330.7,453.9 332,454.3 333.4,454.6 334.8,454.9 336.2,455.2 337.6,455.4 338.9,455.7 340.3,455.9 341.7,456.1 343.1,456.2 344.5,456.4 345.9,456.5 347.2,456.6 348.6,456.7 350,456.8" stroke="#e8262a" stroke-width="1.3"/>
<path d="M199.4,457.5 203.5,457.5 204.9,457.4 209.1,457.4 210.5,457.3 213.2,457.3 214.6,457.2 216,457.2 217.4,457.1 218.7,457.1 220.1,457 221.5,456.9 222.9,456.8 224.3,456.7 225.7,456.6 227,456.4 228.4,456.3 229.8,456.1 231.2,455.9 232.6,455.7 233.9,455.4 235.3,455.1 236.7,454.8 238.1,454.4 239.5,454 240.8,453.5 242.2,452.9 243.6,452.3 245,451.6 246.4,450.8 247.8,449.9 249.1,448.9 250.5,447.7 251.9,446.4 253.3,444.9 254.7,443.3 256,441.4 257.4,439.4 258.8,437.1 260.2,434.5 261.6,431.6 263,428.5 264.3,425 265.7,421.3 267.1,417.2 268.5,412.9 269.9,408.3 271.2,403.5 272.6,398.6 274,393.7 275.4,388.8 276.8,384.2 278.2,380 279.5,376.4 280.9,373.5 282.3,371.4 283.7,370.3 285.1,370.2 286.4,371.5 287.8,374 289.2,377.6 290.6,382.1 292,387 293.4,392.3 294.7,397.6 296.1,402.7 297.5,407.7 298.9,412.4 300.3,416.8 301.6,420.8 303,424.5 304.4,427.8 305.8,430.8 307.2,433.6 308.6,436 309.9,438.3 311.3,440.3 312.7,442 314.1,443.7 315.5,445.1 316.8,446.4 318.2,447.6 319.6,448.6 321,449.5 322.4,450.4 323.7,451.1 325.1,451.8 326.5,452.4 327.9,452.9 329.3,453.4 330.7,453.9 332,454.3 333.4,454.6 334.8,454.9 336.2,455.2 337.6,455.4 338.9,455.7 340.3,455.9 341.7,456 343.1,456.2 344.5,456.4 345.9,456.5 347.2,456.6 348.6,456.7 350,456.8" stroke="#000000" stroke-width="1.3"/>
<path d="M199.4,457.6 200.8,457.5 210.5,457.5 211.8,457.4 216,457.4 217.4,457.3 220.1,457.3 221.5,457.2 222.9,457.2 224.3,457.1 225.7,457 227,456.9 228.4,456.8 229.8,456.7 231.2,456.6 232.6,456.5 233.9,456.3 235.3,456.1 236.7,455.9 238.1,455.7 239.5,455.5 240.8,455.2 242.2,454.8 243.6,454.4 245,454 246.4,453.5 247.8,452.9 249.1,452.3 250.5,451.6 251.9,450.8 253.3,449.9 254.7,448.8 256,447.7 257.4,446.4 258.8,444.9 260.2,443.3 261.6,441.5 263,439.6 264.3,437.4 265.7,435 267.1,432.3 268.5,429.5 269.9,426.4 271.2,423.1 272.6,419.6 274,415.9 275.4,412 276.8,408.1 278.2,404.1 279.5,400.1 280.9,396.3 282.3,392.6 283.7,389.1 285.1,386 286.4,383.4 287.8,381.3 289.2,379.8 290.6,378.9 292,378.7 293.4,379.4 294.7,380.9 296.1,383.3 297.5,386.4 298.9,390 300.3,393.9 301.6,398 303,402.3 304.4,406.4 305.8,410.5 307.2,414.4 308.6,418.1 309.9,421.6 311.3,424.8 312.7,427.8 314.1,430.5 315.5,433 316.8,435.3 318.2,437.4 319.6,439.3 321,441 322.4,442.6 323.7,444 325.1,445.3 326.5,446.5 327.9,447.6 329.3,448.5 330.7,449.4 332,450.2 333.4,450.9 334.8,451.5 336.2,452.1 337.6,452.6 338.9,453.1 340.3,453.5 341.7,453.9 343.1,454.3 344.5,454.6 345.9,454.9 347.2,455.2 348.6,455.4 350,455.6" stroke="#1ad21a" stroke-width="1.3"/>
<path d="M199.4,457.6 204.9,457.6 206.3,457.5 214.6,457.5 216,457.4 220.1,457.4 221.5,457.3 224.3,457.3 225.7,457.2 227,457.1 228.4,457.1 229.8,457 231.2,456.9 232.6,456.8 233.9,456.7 235.3,456.5 236.7,456.4 238.1,456.2 239.5,456 240.8,455.8 242.2,455.5 243.6,455.2 245,454.8 246.4,454.4 247.8,453.9 249.1,453.4 250.5,452.8 251.9,452.1 253.3,451.3 254.7,450.4 256,449.4 257.4,448.2 258.8,446.9 260.2,445.4 261.6,443.8 263,441.9 264.3,439.9 265.7,437.6 267.1,435 268.5,432.2 269.9,429.2 271.2,425.9 272.6,422.4 274,418.6 275.4,414.6 276.8,410.5 278.2,406.3 279.5,402 280.9,397.8 282.3,393.8 283.7,390 285.1,386.6 286.4,383.7 287.8,381.3 289.2,379.6 290.6,378.6 292,378.4 293.4,379.1 294.7,380.6 296.1,383 297.5,386.1 298.9,389.7 300.3,393.7 301.6,397.8 303,402.1 304.4,406.3 305.8,410.3 307.2,414.3 308.6,418 309.9,421.4 311.3,424.7 312.7,427.7 314.1,430.4 315.5,432.9 316.8,435.2 318.2,437.3 319.6,439.2 321,441 322.4,442.6 323.7,444 325.1,445.3 326.5,446.5 327.9,447.5 329.3,448.5 330.7,449.4 332,450.2 333.4,450.9 334.8,451.5 336.2,452.1 337.6,452.6 338.9,453.1 340.3,453.5 341.7,453.9 343.1,454.3 344.5,454.6 345.9,454.9 347.2,455.1 348.6,455.4 350,455.6" stroke="#0b14dc" stroke-width="1.3"/>
<path d="M200.4,457.4 201.8,457.3 204.5,457.3 205.9,457.2 207.3,457.2 208.7,457.1 210.1,457 211.5,456.9 212.8,456.9 214.2,456.7 215.6,456.6 217,456.5 218.4,456.3 219.7,456.2 221.1,455.9 222.5,455.7 223.9,455.4 225.3,455.1 226.7,454.8 228,454.4 229.4,453.9 230.8,453.4 232.2,452.8 233.6,452.1 234.9,451.3 236.3,450.5 237.7,449.4 239.1,448.3 240.5,447 241.8,445.5 243.2,443.8 244.6,441.9 246,439.7 247.4,437.2 248.8,434.5 250.1,431.3 251.5,427.9 252.9,424 254.3,419.7 255.7,414.9 257,409.8 258.4,404.2 259.8,398.3 261.2,392.2 262.6,385.9 264,379.7 265.3,373.7 266.7,368.3 268.1,363.7 269.5,360 270.9,357.7 272.2,356.7 273.6,357.5 275,360.6 276.4,365.5 277.8,371.8 279.2,378.8 280.5,386.1 281.9,393.2 283.3,400 284.7,406.3 286.1,412 287.4,417.2 288.8,421.8 290.2,426 291.6,429.7 293,433 294.4,435.8 295.7,438.4 297.1,440.7 298.5,442.7 299.9,444.4 301.3,446 302.6,447.3 304,448.6 305.4,449.6 306.8,450.6 308.2,451.4 309.6,452.1 310.9,452.8 312.3,453.3 313.7,453.8 315.1,454.3 316.5,454.7 317.8,455 319.2,455.3 320.6,455.6 322,455.8 323.4,456 324.7,456.2 326.1,456.4 327.5,456.5 328.9,456.7 330.3,456.8 331.7,456.9 333,457 334.4,457 335.8,457.1 337.2,457.2 338.6,457.2 339.9,457.3 342.7,457.3 344.1,457.4 348.2,457.4 349.6,457.5 351,457.5" stroke="#e8262a" stroke-width="1.5" stroke-dasharray="1.2 1.3"/>
<path d="M199.4,457.4 200.8,457.3 203.5,457.3 204.9,457.2 206.3,457.2 207.7,457.1 209.1,457 210.5,456.9 211.8,456.9 213.2,456.7 214.6,456.6 216,456.5 217.4,456.3 218.7,456.2 220.1,455.9 221.5,455.7 222.9,455.4 224.3,455.1 225.7,454.8 227,454.4 228.4,453.9 229.8,453.4 231.2,452.8 232.6,452.1 233.9,451.3 235.3,450.5 236.7,449.4 238.1,448.3 239.5,447 240.8,445.5 242.2,443.8 243.6,441.9 245,439.7 246.4,437.2 247.8,434.5 249.1,431.3 250.5,427.9 251.9,424 253.3,419.7 254.7,414.9 256,409.8 257.4,404.2 258.8,398.3 260.2,392.2 261.6,385.9 263,379.7 264.3,373.7 265.7,368.3 267.1,363.7 268.5,360 269.9,357.7 271.2,356.7 272.6,357.5 274,360.6 275.4,365.5 276.8,371.8 278.2,378.8 279.5,386.1 280.9,393.2 282.3,400 283.7,406.3 285.1,412 286.4,417.2 287.8,421.8 289.2,426 290.6,429.7 292,433 293.4,435.8 294.7,438.4 296.1,440.7 297.5,442.7 298.9,444.4 300.3,446 301.6,447.3 303,448.6 304.4,449.6 305.8,450.6 307.2,451.4 308.6,452.1 309.9,452.8 311.3,453.3 312.7,453.8 314.1,454.3 315.5,454.7 316.8,455 318.2,455.3 319.6,455.6 321,455.8 322.4,456 323.7,456.2 325.1,456.4 326.5,456.5 327.9,456.7 329.3,456.8 330.7,456.9 332,457 333.4,457 334.8,457.1 336.2,457.2 337.6,457.2 338.9,457.3 341.7,457.3 343.1,457.4 347.2,457.4 348.6,457.5 350,457.5" stroke="#000000" stroke-width="1.5" stroke-dasharray="1.2 1.3"/>
<path d="M200.4,457.2 201.8,457.2 203.2,457.1 204.5,457.1 205.9,457 207.3,456.9 208.7,456.8 210.1,456.7 211.5,456.5 212.8,456.4 214.2,456.2 215.6,456 217,455.8 218.4,455.5 219.7,455.2 221.1,454.9 222.5,454.5 223.9,454 225.3,453.5 226.7,452.9 228,452.2 229.4,451.5 230.8,450.6 232.2,449.6 233.6,448.4 234.9,447.1 236.3,445.6 237.7,443.9 239.1,441.9 240.5,439.7 241.8,437.2 243.2,434.3 244.6,431 246,427.3 247.4,423.2 248.8,418.5 250.1,413.3 251.5,407.6 252.9,401.4 254.3,394.6 255.7,387.5 257,380.1 258.4,372.7 259.8,365.6 261.2,359 262.6,353.6 264,349.5 265.3,347.1 266.7,346.7 268.1,348.8 269.5,353.1 270.9,359.3 272.2,366.4 273.6,374 275,381.6 276.4,388.9 277.8,395.7 279.2,402 280.5,407.7 281.9,412.9 283.3,417.6 284.7,421.8 286.1,425.6 287.4,428.9 288.8,432 290.2,434.7 291.6,437.1 293,439.3 294.4,441.2 295.7,442.9 297.1,444.5 298.5,445.9 299.9,447.1 301.3,448.2 302.6,449.2 304,450.1 305.4,450.9 306.8,451.6 308.2,452.2 309.6,452.8 310.9,453.3 312.3,453.8 313.7,454.2 315.1,454.5 316.5,454.9 317.8,455.1 319.2,455.4 320.6,455.6 322,455.8 323.4,456 324.7,456.2 326.1,456.3 327.5,456.5 328.9,456.6 330.3,456.7 331.7,456.8 333,456.9 334.4,457 335.8,457 337.2,457.1 338.6,457.1 339.9,457.2 341.3,457.2 342.7,457.3 345.5,457.3 346.9,457.4 351,457.4" stroke="#1ad21a" stroke-width="1.5" stroke-dasharray="1.2 1.3"/>
<path d="M199.4,457.2 200.8,457.2 202.2,457.1 203.5,457.1 204.9,457 206.3,456.9 207.7,456.8 209.1,456.7 210.5,456.5 211.8,456.4 213.2,456.2 214.6,456 216,455.8 217.4,455.5 218.7,455.2 220.1,454.9 221.5,454.5 222.9,454 224.3,453.5 225.7,452.9 227,452.2 228.4,451.5 229.8,450.6 231.2,449.6 232.6,448.4 233.9,447.1 235.3,445.6 236.7,443.9 238.1,441.9 239.5,439.7 240.8,437.2 242.2,434.3 243.6,431 245,427.3 246.4,423.2 247.8,418.5 249.1,413.3 250.5,407.6 251.9,401.4 253.3,394.6 254.7,387.5 256,380.1 257.4,372.7 258.8,365.6 260.2,359 261.6,353.6 263,349.5 264.3,347.1 265.7,346.7 267.1,348.8 268.5,353.1 269.9,359.3 271.2,366.4 272.6,374 274,381.6 275.4,388.9 276.8,395.7 278.2,402 279.5,407.7 280.9,412.9 282.3,417.6 283.7,421.8 285.1,425.6 286.4,428.9 287.8,432 289.2,434.7 290.6,437.1 292,439.3 293.4,441.2 294.7,442.9 296.1,444.5 297.5,445.9 298.9,447.1 300.3,448.2 301.6,449.2 303,450.1 304.4,450.9 305.8,451.6 307.2,452.2 308.6,452.8 309.9,453.3 311.3,453.8 312.7,454.2 314.1,454.5 315.5,454.9 316.8,455.1 318.2,455.4 319.6,455.6 321,455.8 322.4,456 323.7,456.2 325.1,456.3 326.5,456.5 327.9,456.6 329.3,456.7 330.7,456.8 332,456.9 333.4,457 334.8,457 336.2,457.1 337.6,457.1 338.9,457.2 340.3,457.2 341.7,457.3 344.5,457.3 345.9,457.4 350,457.4" stroke="#0b14dc" stroke-width="1.5" stroke-dasharray="1.2 1.3"/>
</g>
<rect x="199.4" y="325.5" width="150.60" height="132.10" fill="none" stroke="#1a1a1a" stroke-width="1.1"/>
<line x1="237.05" y1="325.5" x2="237.05" y2="328.1" stroke="#000" stroke-width="1.25"/>
<line x1="237.05" y1="457.6" x2="237.05" y2="455.0" stroke="#000" stroke-width="1.25"/>
<line x1="274.70" y1="325.5" x2="274.70" y2="328.1" stroke="#000" stroke-width="1.25"/>
<line x1="274.70" y1="457.6" x2="274.70" y2="455.0" stroke="#000" stroke-width="1.25"/>
<line x1="312.35" y1="325.5" x2="312.35" y2="328.1" stroke="#000" stroke-width="1.25"/>
<line x1="312.35" y1="457.6" x2="312.35" y2="455.0" stroke="#000" stroke-width="1.25"/>
<line x1="199.4" y1="431.18" x2="202.0" y2="431.18" stroke="#000" stroke-width="1.25"/>
<line x1="350.0" y1="431.18" x2="347.4" y2="431.18" stroke="#000" stroke-width="1.25"/>
<line x1="199.4" y1="404.76" x2="202.0" y2="404.76" stroke="#000" stroke-width="1.25"/>
<line x1="350.0" y1="404.76" x2="347.4" y2="404.76" stroke="#000" stroke-width="1.25"/>
<line x1="199.4" y1="378.34" x2="202.0" y2="378.34" stroke="#000" stroke-width="1.25"/>
<line x1="350.0" y1="378.34" x2="347.4" y2="378.34" stroke="#000" stroke-width="1.25"/>
<line x1="199.4" y1="351.92" x2="202.0" y2="351.92" stroke="#000" stroke-width="1.25"/>
<line x1="350.0" y1="351.92" x2="347.4" y2="351.92" stroke="#000" stroke-width="1.25"/>
<text transform="translate(344.20,440.20) scale(0.83,1)" text-anchor="end" font-family='"Liberation Serif", serif' font-weight="bold" font-size="13.8">c(ii)</text>
<clipPath id="cp22"><rect x="365.4" y="324.5" width="150.30000000000007" height="133.60000000000002"/></clipPath>
<g clip-path="url(#cp22)" fill="none" stroke-linejoin="round">
<path d="M365.4,457.5 372.3,457.5 373.7,457.4 377.8,457.4 379.2,457.3 380.6,457.3 381.9,457.2 383.3,457.2 384.7,457.1 386.1,457.1 387.5,457 388.8,456.9 390.2,456.8 391.6,456.7 393,456.6 394.4,456.5 395.7,456.3 397.1,456.2 398.5,456 399.9,455.8 401.3,455.5 402.6,455.2 404,454.9 405.4,454.6 406.8,454.2 408.1,453.7 409.5,453.2 410.9,452.6 412.3,451.9 413.7,451.2 415,450.3 416.4,449.4 417.8,448.3 419.2,447.1 420.6,445.7 421.9,444.2 423.3,442.4 424.7,440.5 426.1,438.4 427.5,436.1 428.8,433.5 430.2,430.6 431.6,427.6 433,424.3 434.3,420.8 435.7,417.1 437.1,413.2 438.5,409.3 439.9,405.5 441.2,401.8 442.6,398.3 444,395.2 445.4,392.6 446.8,390.7 448.1,389.4 449.5,389 450.9,389.5 452.3,390.9 453.6,393.3 455,396.3 456.4,399.8 457.8,403.6 459.2,407.5 460.5,411.3 461.9,415.1 463.3,418.7 464.7,422 466.1,425.2 467.4,428.1 468.8,430.7 470.2,433.2 471.6,435.4 473,437.4 474.3,439.3 475.7,441 477.1,442.5 478.5,443.9 479.8,445.2 481.2,446.3 482.6,447.4 484,448.3 485.4,449.2 486.7,450 488.1,450.7 489.5,451.3 490.9,451.9 492.3,452.4 493.6,452.9 495,453.3 496.4,453.7 497.8,454.1 499.2,454.4 500.5,454.7 501.9,455 503.3,455.2 504.7,455.4 506,455.6 507.4,455.8 508.8,456 510.2,456.1 511.6,456.3 512.9,456.4 514.3,456.5 515.7,456.6" stroke="#e8262a" stroke-width="1.3"/>
<path d="M365.4,457.6 366.8,457.5 376.4,457.5 377.8,457.4 381.9,457.4 383.3,457.3 384.7,457.3 386.1,457.2 387.5,457.2 388.8,457.1 390.2,457.1 391.6,457 393,456.9 394.4,456.8 395.7,456.7 397.1,456.5 398.5,456.4 399.9,456.2 401.3,456 402.6,455.8 404,455.5 405.4,455.2 406.8,454.9 408.1,454.5 409.5,454 410.9,453.5 412.3,452.9 413.7,452.3 415,451.5 416.4,450.7 417.8,449.7 419.2,448.6 420.6,447.3 421.9,445.9 423.3,444.3 424.7,442.5 426.1,440.5 427.5,438.2 428.8,435.7 430.2,432.9 431.6,429.9 433,426.5 434.3,423 435.7,419.1 437.1,415.1 438.5,411 439.9,406.9 441.2,402.9 442.6,399.1 444,395.6 445.4,392.8 446.8,390.6 448.1,389.2 449.5,388.7 450.9,389.2 452.3,390.7 453.6,393 455,396 456.4,399.6 457.8,403.3 459.2,407.3 460.5,411.1 461.9,414.9 463.3,418.5 464.7,421.9 466.1,425 467.4,427.9 468.8,430.6 470.2,433.1 471.6,435.3 473,437.4 474.3,439.2 475.7,440.9 477.1,442.5 478.5,443.9 479.8,445.1 481.2,446.3 482.6,447.3 484,448.3 485.4,449.1 486.7,449.9 488.1,450.6 489.5,451.3 490.9,451.9 492.3,452.4 493.6,452.9 495,453.3 496.4,453.7 497.8,454.1 499.2,454.4 500.5,454.7 501.9,455 503.3,455.2 504.7,455.4 506,455.6 507.4,455.8 508.8,456 510.2,456.1 511.6,456.3 512.9,456.4 514.3,456.5 515.7,456.6" stroke="#000000" stroke-width="1.3"/>
<path d="M365.4,457.5 372.3,457.5 373.7,457.4 377.8,457.4 379.2,457.3 381.9,457.3 383.3,457.2 384.7,457.2 386.1,457.1 387.5,457.1 388.8,457 390.2,457 391.6,456.9 393,456.8 394.4,456.7 395.7,456.6 397.1,456.4 398.5,456.3 399.9,456.1 401.3,456 402.6,455.8 404,455.5 405.4,455.3 406.8,455 408.1,454.7 409.5,454.3 410.9,453.9 412.3,453.5 413.7,453 415,452.4 416.4,451.8 417.8,451.1 419.2,450.3 420.6,449.4 421.9,448.5 423.3,447.4 424.7,446.2 426.1,444.9 427.5,443.4 428.8,441.8 430.2,440 431.6,438.1 433,436 434.3,433.7 435.7,431.2 437.1,428.6 438.5,425.8 439.9,422.9 441.2,419.8 442.6,416.7 444,413.6 445.4,410.5 446.8,407.5 448.1,404.7 449.5,402.2 450.9,400.1 452.3,398.3 453.6,397.1 455,396.4 456.4,396.2 457.8,396.8 459.2,398.2 460.5,400.2 461.9,402.7 463.3,405.6 464.7,408.8 466.1,412 467.4,415.2 468.8,418.4 470.2,421.4 471.6,424.3 473,427.1 474.3,429.6 475.7,432 477.1,434.1 478.5,436.2 479.8,438 481.2,439.7 482.6,441.3 484,442.7 485.4,444 486.7,445.2 488.1,446.2 489.5,447.2 490.9,448.1 492.3,449 493.6,449.7 495,450.4 496.4,451 497.8,451.6 499.2,452.1 500.5,452.6 501.9,453.1 503.3,453.5 504.7,453.8 506,454.1 507.4,454.4 508.8,454.7 510.2,455 511.6,455.2 512.9,455.4 514.3,455.6 515.7,455.8" stroke="#1ad21a" stroke-width="1.3"/>
<path d="M365.4,457.5 376.4,457.5 377.8,457.4 381.9,457.4 383.3,457.3 386.1,457.3 387.5,457.2 388.8,457.2 390.2,457.1 391.6,457.1 393,457 394.4,456.9 395.7,456.8 397.1,456.7 398.5,456.6 399.9,456.5 401.3,456.3 402.6,456.2 404,456 405.4,455.8 406.8,455.6 408.1,455.3 409.5,455 410.9,454.7 412.3,454.3 413.7,453.8 415,453.4 416.4,452.8 417.8,452.2 419.2,451.5 420.6,450.7 421.9,449.8 423.3,448.8 424.7,447.7 426.1,446.5 427.5,445.1 428.8,443.6 430.2,441.9 431.6,440 433,438 434.3,435.7 435.7,433.3 437.1,430.6 438.5,427.8 439.9,424.8 441.2,421.6 442.6,418.3 444,415 445.4,411.7 446.8,408.5 448.1,405.4 449.5,402.6 450.9,400.2 452.3,398.3 453.6,396.9 455,396.1 456.4,395.9 457.8,396.5 459.2,397.9 460.5,399.9 461.9,402.5 463.3,405.4 464.7,408.5 466.1,411.8 467.4,415 468.8,418.2 470.2,421.3 471.6,424.2 473,426.9 474.3,429.5 475.7,431.8 477.1,434 478.5,436.1 479.8,437.9 481.2,439.6 482.6,441.2 484,442.6 485.4,443.9 486.7,445.1 488.1,446.2 489.5,447.2 490.9,448.1 492.3,448.9 493.6,449.7 495,450.4 496.4,451 497.8,451.6 499.2,452.1 500.5,452.6 501.9,453 503.3,453.4 504.7,453.8 506,454.1 507.4,454.4 508.8,454.7 510.2,455 511.6,455.2 512.9,455.4 514.3,455.6 515.7,455.8" stroke="#0b14dc" stroke-width="1.3"/>
<path d="M366.4,457.5 367.8,457.5 369.2,457.4 371.9,457.4 373.3,457.3 376.1,457.3 377.4,457.2 378.8,457.2 380.2,457.1 381.6,457 382.9,456.9 384.3,456.8 385.7,456.7 387.1,456.6 388.5,456.4 389.8,456.2 391.2,456 392.6,455.7 394,455.5 395.4,455.1 396.7,454.8 398.1,454.3 399.5,453.8 400.9,453.2 402.3,452.6 403.6,451.8 405,450.9 406.4,449.9 407.8,448.8 409.1,447.4 410.5,445.9 411.9,444.2 413.3,442.2 414.7,439.9 416,437.4 417.4,434.5 418.8,431.3 420.2,427.7 421.6,423.7 422.9,419.3 424.3,414.6 425.7,409.6 427.1,404.4 428.5,399.1 429.8,393.9 431.2,389 432.6,384.7 434,381.1 435.3,378.4 436.7,377 438.1,376.9 439.5,378.6 440.9,382 442.2,386.6 443.6,391.8 445,397.3 446.4,402.6 447.8,407.6 449.1,412.4 450.5,416.7 451.9,420.6 453.3,424.2 454.6,427.5 456,430.4 457.4,433.1 458.8,435.5 460.2,437.7 461.5,439.6 462.9,441.4 464.3,443 465.7,444.4 467.1,445.7 468.4,446.9 469.8,447.9 471.2,448.9 472.6,449.7 474,450.5 475.3,451.2 476.7,451.8 478.1,452.4 479.5,452.9 480.8,453.4 482.2,453.8 483.6,454.2 485,454.5 486.4,454.8 487.7,455.1 489.1,455.3 490.5,455.5 491.9,455.7 493.3,455.9 494.6,456.1 496,456.2 497.4,456.4 498.8,456.5 500.2,456.6 501.5,456.7 502.9,456.8 504.3,456.9 505.7,456.9 507,457 508.4,457.1 509.8,457.1 511.2,457.2 513.9,457.2 515.3,457.3 516.7,457.3" stroke="#e8262a" stroke-width="1.5" stroke-dasharray="1.2 1.3"/>
<path d="M365.4,457.5 366.8,457.5 368.2,457.4 370.9,457.4 372.3,457.3 375.1,457.3 376.4,457.2 377.8,457.2 379.2,457.1 380.6,457 381.9,456.9 383.3,456.8 384.7,456.7 386.1,456.6 387.5,456.4 388.8,456.2 390.2,456 391.6,455.7 393,455.5 394.4,455.1 395.7,454.8 397.1,454.3 398.5,453.8 399.9,453.2 401.3,452.6 402.6,451.8 404,450.9 405.4,449.9 406.8,448.8 408.1,447.4 409.5,445.9 410.9,444.2 412.3,442.2 413.7,439.9 415,437.4 416.4,434.5 417.8,431.3 419.2,427.7 420.6,423.7 421.9,419.3 423.3,414.6 424.7,409.6 426.1,404.4 427.5,399.1 428.8,393.9 430.2,389 431.6,384.7 433,381.1 434.3,378.4 435.7,377 437.1,376.9 438.5,378.6 439.9,382 441.2,386.6 442.6,391.8 444,397.3 445.4,402.6 446.8,407.6 448.1,412.4 449.5,416.7 450.9,420.6 452.3,424.2 453.6,427.5 455,430.4 456.4,433.1 457.8,435.5 459.2,437.7 460.5,439.6 461.9,441.4 463.3,443 464.7,444.4 466.1,445.7 467.4,446.9 468.8,447.9 470.2,448.9 471.6,449.7 473,450.5 474.3,451.2 475.7,451.8 477.1,452.4 478.5,452.9 479.8,453.4 481.2,453.8 482.6,454.2 484,454.5 485.4,454.8 486.7,455.1 488.1,455.3 489.5,455.5 490.9,455.7 492.3,455.9 493.6,456.1 495,456.2 496.4,456.4 497.8,456.5 499.2,456.6 500.5,456.7 501.9,456.8 503.3,456.9 504.7,456.9 506,457 507.4,457.1 508.8,457.1 510.2,457.2 512.9,457.2 514.3,457.3 515.7,457.3" stroke="#000000" stroke-width="1.5" stroke-dasharray="1.2 1.3"/>
<path d="M366.4,457.3 367.8,457.3 369.2,457.2 370.5,457.2 371.9,457.1 373.3,457 374.7,457 376.1,456.9 377.4,456.8 378.8,456.7 380.2,456.5 381.6,456.4 382.9,456.2 384.3,456 385.7,455.8 387.1,455.5 388.5,455.2 389.8,454.9 391.2,454.5 392.6,454.1 394,453.6 395.4,453 396.7,452.4 398.1,451.7 399.5,450.8 400.9,449.9 402.3,448.8 403.6,447.6 405,446.2 406.4,444.6 407.8,442.8 409.1,440.8 410.5,438.4 411.9,435.8 413.3,432.8 414.7,429.5 416,425.7 417.4,421.5 418.8,416.9 420.2,411.8 421.6,406.3 422.9,400.5 424.3,394.5 425.7,388.4 427.1,382.7 428.5,377.5 429.8,373.3 431.2,370.4 432.6,369.1 434,369.6 435.3,372.5 436.7,377.2 438.1,383 439.5,389.2 440.9,395.4 442.2,401.3 443.6,406.8 445,411.8 446.4,416.4 447.8,420.6 449.1,424.3 450.5,427.7 451.9,430.8 453.3,433.5 454.6,435.9 456,438.1 457.4,440.1 458.8,441.9 460.2,443.5 461.5,444.9 462.9,446.2 464.3,447.4 465.7,448.4 467.1,449.4 468.4,450.2 469.8,450.9 471.2,451.6 472.6,452.2 474,452.8 475.3,453.3 476.7,453.7 478.1,454.1 479.5,454.5 480.8,454.8 482.2,455.1 483.6,455.3 485,455.6 486.4,455.8 487.7,456 489.1,456.1 490.5,456.3 491.9,456.4 493.3,456.5 494.6,456.6 496,456.7 497.4,456.8 498.8,456.9 500.2,457 501.5,457 502.9,457.1 504.3,457.1 505.7,457.2 507,457.2 508.4,457.3 511.2,457.3 512.6,457.4 516.7,457.4" stroke="#1ad21a" stroke-width="1.5" stroke-dasharray="1.2 1.3"/>
<path d="M365.4,457.3 366.8,457.3 368.2,457.2 369.5,457.2 370.9,457.1 372.3,457 373.7,457 375.1,456.9 376.4,456.8 377.8,456.7 379.2,456.5 380.6,456.4 381.9,456.2 383.3,456 384.7,455.8 386.1,455.5 387.5,455.2 388.8,454.9 390.2,454.5 391.6,454.1 393,453.6 394.4,453 395.7,452.4 397.1,451.7 398.5,450.8 399.9,449.9 401.3,448.8 402.6,447.6 404,446.2 405.4,444.6 406.8,442.8 408.1,440.8 409.5,438.4 410.9,435.8 412.3,432.8 413.7,429.5 415,425.7 416.4,421.5 417.8,416.9 419.2,411.8 420.6,406.3 421.9,400.5 423.3,394.5 424.7,388.4 426.1,382.7 427.5,377.5 428.8,373.3 430.2,370.4 431.6,369.1 433,369.6 434.3,372.5 435.7,377.2 437.1,383 438.5,389.2 439.9,395.4 441.2,401.3 442.6,406.8 444,411.8 445.4,416.4 446.8,420.6 448.1,424.3 449.5,427.7 450.9,430.8 452.3,433.5 453.6,435.9 455,438.1 456.4,440.1 457.8,441.9 459.2,443.5 460.5,444.9 461.9,446.2 463.3,447.4 464.7,448.4 466.1,449.4 467.4,450.2 468.8,450.9 470.2,451.6 471.6,452.2 473,452.8 474.3,453.3 475.7,453.7 477.1,454.1 478.5,454.5 479.8,454.8 481.2,455.1 482.6,455.3 484,455.6 485.4,455.8 486.7,456 488.1,456.1 489.5,456.3 490.9,456.4 492.3,456.5 493.6,456.6 495,456.7 496.4,456.8 497.8,456.9 499.2,457 500.5,457 501.9,457.1 503.3,457.1 504.7,457.2 506,457.2 507.4,457.3 510.2,457.3 511.6,457.4 515.7,457.4" stroke="#0b14dc" stroke-width="1.5" stroke-dasharray="1.2 1.3"/>
</g>
<rect x="365.4" y="325.5" width="150.30" height="132.10" fill="none" stroke="#1a1a1a" stroke-width="1.1"/>
<line x1="402.98" y1="325.5" x2="402.98" y2="328.1" stroke="#000" stroke-width="1.25"/>
<line x1="402.98" y1="457.6" x2="402.98" y2="455.0" stroke="#000" stroke-width="1.25"/>
<line x1="440.55" y1="325.5" x2="440.55" y2="328.1" stroke="#000" stroke-width="1.25"/>
<line x1="440.55" y1="457.6" x2="440.55" y2="455.0" stroke="#000" stroke-width="1.25"/>
<line x1="478.12" y1="325.5" x2="478.12" y2="328.1" stroke="#000" stroke-width="1.25"/>
<line x1="478.12" y1="457.6" x2="478.12" y2="455.0" stroke="#000" stroke-width="1.25"/>
<line x1="365.4" y1="431.18" x2="368.0" y2="431.18" stroke="#000" stroke-width="1.25"/>
<line x1="515.7" y1="431.18" x2="513.1" y2="431.18" stroke="#000" stroke-width="1.25"/>
<line x1="365.4" y1="404.76" x2="368.0" y2="404.76" stroke="#000" stroke-width="1.25"/>
<line x1="515.7" y1="404.76" x2="513.1" y2="404.76" stroke="#000" stroke-width="1.25"/>
<line x1="365.4" y1="378.34" x2="368.0" y2="378.34" stroke="#000" stroke-width="1.25"/>
<line x1="515.7" y1="378.34" x2="513.1" y2="378.34" stroke="#000" stroke-width="1.25"/>
<line x1="365.4" y1="351.92" x2="368.0" y2="351.92" stroke="#000" stroke-width="1.25"/>
<line x1="515.7" y1="351.92" x2="513.1" y2="351.92" stroke="#000" stroke-width="1.25"/>
<text transform="translate(509.90,440.20) scale(0.83,1)" text-anchor="end" font-family='"Liberation Serif", serif' font-weight="bold" font-size="13.8">c(iii)</text>
<clipPath id="cp23"><rect x="532.8" y="324.5" width="150.20000000000005" height="133.60000000000002"/></clipPath>
<g clip-path="url(#cp23)" fill="none" stroke-linejoin="round">
<path d="M554,457.4 555.2,457.3 556.4,457.3 557.6,457.2 558.7,457.1 559.9,457 561.1,456.9 562.3,456.8 563.5,456.6 564.7,456.5 565.8,456.3 567,456.1 568.2,455.9 569.4,455.7 570.6,455.5 571.8,455.2 572.9,454.9 574.1,454.6 575.3,454.2 576.5,453.7 577.7,453.2 578.9,452.6 580,452 581.2,451.3 582.4,450.6 583.6,449.8 584.8,449 586,448 587.1,447 588.3,445.9 589.5,444.7 590.7,443.3 591.9,441.7 593.1,439.9 594.2,438.1 595.4,436.1 596.6,434.1 597.8,432 599,429.9 600.2,427.7 601.3,425.4 602.5,423.2 603.7,420.8 604.9,418.5 606.1,416.1 607.3,413.8 608.4,411.6 609.6,409.5 610.8,407.7 612,406.3 613.2,405.2 614.4,404.4 615.5,403.8 616.7,403.3 617.9,403.2 619.1,403.4 620.3,403.8 621.5,404.5 622.6,405.3 623.8,406.3 625,407.5 626.2,409 627.4,410.6 628.6,412.3 629.7,414.1 630.9,416 632.1,417.9 633.3,419.8 634.5,421.6 635.7,423.4 636.8,425.1 638,426.8 639.2,428.5 640.4,430.2 641.6,431.8 642.8,433.4 643.9,434.9 645.1,436.4 646.3,437.8 647.5,439.1 648.7,440.5 649.9,441.7 651,442.9 652.2,444.1 653.4,445.1 654.6,446.1 655.8,447 657,447.7 658.1,448.4 659.3,449 660.5,449.6 661.7,450.1 662.9,450.6 664.1,451 665.2,451.4 666.4,451.8 667.6,452.2 668.8,452.5 670,452.9 671.2,453.2 672.3,453.4 673.5,453.7 674.7,453.9 675.9,454.1 677.1,454.3 678.3,454.5 679.4,454.7 680.6,454.8 681.8,454.9 683,454.9" stroke="#e8262a" stroke-width="1.3"/>
<path d="M555,457.4 556.2,457.3 557.3,457.3 558.5,457.2 559.7,457.1 560.9,457 562,456.9 563.2,456.8 564.4,456.6 565.6,456.5 566.7,456.3 567.9,456.1 569.1,455.9 570.3,455.7 571.4,455.5 572.6,455.2 573.8,454.9 575,454.6 576.1,454.2 577.3,453.8 578.5,453.3 579.7,452.7 580.8,452.1 582,451.4 583.2,450.7 584.4,450 585.5,449.1 586.7,448.2 587.9,447.3 589.1,446.2 590.2,445 591.4,443.6 592.6,442.1 593.8,440.4 594.9,438.6 596.1,436.6 597.3,434.6 598.4,432.6 599.6,430.5 600.8,428.3 602,426.1 603.1,423.9 604.3,421.6 605.5,419.2 606.7,416.9 607.8,414.6 609,412.4 610.2,410.3 611.4,408.3 612.5,406.7 613.7,405.4 614.9,404.5 616.1,403.7 617.2,403.3 618.4,403.2 619.6,403.5 620.8,404.1 621.9,404.8 623.1,405.6 624.3,406.7 625.5,408.1 626.6,409.6 627.8,411.2 629,412.9 630.2,414.8 631.3,416.7 632.5,418.5 633.7,420.4 634.9,422.2 636,423.9 637.2,425.6 638.4,427.3 639.6,429 640.7,430.7 641.9,432.2 643.1,433.8 644.2,435.3 645.4,436.7 646.6,438.1 647.8,439.5 648.9,440.8 650.1,442 651.3,443.2 652.5,444.3 653.6,445.3 654.8,446.3 656,447.1 657.2,447.9 658.3,448.5 659.5,449.1 660.7,449.7 661.9,450.2 663,450.6 664.2,451.1 665.4,451.5 666.6,451.9 667.7,452.2 668.9,452.6 670.1,452.9 671.3,453.2 672.4,453.5 673.6,453.7 674.8,454 676,454.2 677.1,454.3 678.3,454.5 679.5,454.7 680.7,454.8 681.8,454.9 683,454.9" stroke="#000000" stroke-width="1.3"/>
<path d="M559,457.4 561.3,457.4 562.4,457.3 564.7,457.3 565.8,457.2 567,457.1 568.1,457.1 569.2,457 570.4,456.9 571.5,456.8 572.7,456.7 573.8,456.6 574.9,456.5 576.1,456.3 577.2,456.1 578.3,455.9 579.5,455.7 580.6,455.4 581.8,455.1 582.9,454.8 584,454.4 585.2,453.9 586.3,453.4 587.4,452.8 588.6,452.2 589.7,451.6 590.9,450.8 592,450 593.1,449.1 594.3,448.1 595.4,447 596.5,445.8 597.7,444.4 598.8,442.8 600,441.1 601.1,439.3 602.2,437.5 603.4,435.6 604.5,433.8 605.6,431.9 606.8,430.1 607.9,428.3 609.1,426.5 610.2,424.7 611.3,423 612.5,421.3 613.6,419.7 614.7,418 615.9,416.4 617,415 618.2,413.8 619.3,412.8 620.4,412 621.6,411.5 622.7,411 623.8,410.6 625,410.5 626.1,410.6 627.3,411 628.4,411.6 629.5,412.3 630.7,413.1 631.8,414.1 632.9,415.2 634.1,416.5 635.2,417.8 636.4,419.2 637.5,420.6 638.6,422.1 639.8,423.6 640.9,425.1 642,426.7 643.2,428.3 644.3,429.9 645.5,431.5 646.6,433 647.7,434.4 648.9,435.8 650,437.1 651.1,438.4 652.3,439.6 653.4,440.8 654.6,441.9 655.7,442.9 656.8,444 658,444.9 659.1,445.8 660.2,446.7 661.4,447.5 662.5,448.3 663.7,449 664.8,449.7 665.9,450.3 667.1,451 668.2,451.5 669.3,452.1 670.5,452.6 671.6,453 672.8,453.4 673.9,453.7 675,454.1 676.2,454.4 677.3,454.7 678.4,454.9 679.6,455.1 680.7,455.3 681.9,455.4 683,455.5" stroke="#1ad21a" stroke-width="1.3"/>
<path d="M560,457.4 562.3,457.4 563.4,457.3 565.6,457.3 566.8,457.2 567.9,457.1 569,457.1 570.2,457 571.3,456.9 572.4,456.8 573.5,456.7 574.7,456.6 575.8,456.5 576.9,456.3 578.1,456.1 579.2,455.9 580.3,455.7 581.4,455.5 582.6,455.2 583.7,454.9 584.8,454.5 586,454 587.1,453.5 588.2,453 589.3,452.4 590.5,451.7 591.6,451 592.7,450.2 593.9,449.4 595,448.4 596.1,447.3 597.2,446.1 598.4,444.8 599.5,443.3 600.6,441.6 601.8,439.9 602.9,438 604,436.2 605.1,434.4 606.3,432.5 607.4,430.7 608.5,428.9 609.7,427.1 610.8,425.4 611.9,423.7 613,422 614.2,420.3 615.3,418.7 616.4,417.1 617.6,415.6 618.7,414.3 619.8,413.1 620.9,412.2 622.1,411.5 623.2,411 624.3,410.6 625.4,410.5 626.6,410.7 627.7,411.2 628.8,411.8 630,412.6 631.1,413.4 632.2,414.5 633.3,415.7 634.5,417 635.6,418.3 636.7,419.7 637.9,421.1 639,422.5 640.1,424 641.2,425.6 642.4,427.2 643.5,428.8 644.6,430.3 645.8,431.9 646.9,433.4 648,434.8 649.1,436.1 650.3,437.4 651.4,438.7 652.5,439.8 653.7,441 654.8,442.1 655.9,443.1 657,444.1 658.2,445.1 659.3,446 660.4,446.8 661.6,447.6 662.7,448.4 663.8,449.1 664.9,449.8 666.1,450.4 667.2,451 668.3,451.6 669.5,452.1 670.6,452.6 671.7,453 672.8,453.4 674,453.8 675.1,454.1 676.2,454.4 677.4,454.7 678.5,454.9 679.6,455.1 680.7,455.3 681.9,455.4 683,455.5" stroke="#0b14dc" stroke-width="1.3"/>
<path d="M551,457.4 552.2,457.3 553.4,457.3 554.7,457.2 555.9,457.1 557.1,456.9 558.3,456.8 559.5,456.6 560.8,456.4 562,456.2 563.2,456 564.4,455.7 565.6,455.3 566.9,455 568.1,454.5 569.3,454 570.5,453.4 571.7,452.7 573,451.9 574.2,451 575.4,450 576.6,448.9 577.8,447.7 579.1,446.3 580.3,444.7 581.5,443 582.7,441.1 583.9,439.1 585.2,436.8 586.4,434.4 587.6,431.7 588.8,428.9 590,425.8 591.3,422.4 592.5,418.7 593.7,414.9 594.9,411.1 596.1,407.6 597.4,404.4 598.6,401.3 599.8,398.5 601,395.9 602.2,393.7 603.5,392 604.7,390.6 605.9,389.6 607.1,389.3 608.3,390 609.6,391.3 610.8,393 612,394.9 613.2,397.1 614.4,399.3 615.7,401.5 616.9,403.8 618.1,406.2 619.3,408.7 620.6,411.5 621.8,414.4 623,417.3 624.2,420 625.4,422.5 626.7,424.7 627.9,426.8 629.1,428.8 630.3,430.7 631.5,432.5 632.8,434.2 634,435.8 635.2,437.3 636.4,438.7 637.6,440 638.9,441.3 640.1,442.5 641.3,443.6 642.5,444.5 643.7,445.4 645,446.1 646.2,446.8 647.4,447.4 648.6,448 649.8,448.5 651.1,449.1 652.3,449.7 653.5,450.2 654.7,450.7 655.9,451.2 657.2,451.6 658.4,452 659.6,452.3 660.8,452.7 662,453 663.3,453.3 664.5,453.6 665.7,453.8 666.9,454.1 668.1,454.3 669.4,454.5 670.6,454.7 671.8,454.9 673,455.1 674.2,455.2 675.5,455.4 676.7,455.5 677.9,455.7 679.1,455.8 680.3,455.9 681.6,456 682.8,456.1 684,456.2" stroke="#e8262a" stroke-width="1.5" stroke-dasharray="1.2 1.3"/>
<path d="M550,457.4 551.2,457.3 552.4,457.3 553.7,457.2 554.9,457.1 556.1,456.9 557.3,456.8 558.5,456.6 559.8,456.4 561,456.2 562.2,456 563.4,455.7 564.6,455.3 565.9,455 567.1,454.5 568.3,454 569.5,453.4 570.7,452.7 572,451.9 573.2,451 574.4,450 575.6,448.9 576.8,447.7 578.1,446.3 579.3,444.7 580.5,443 581.7,441.1 582.9,439.1 584.2,436.8 585.4,434.4 586.6,431.7 587.8,428.9 589,425.8 590.3,422.4 591.5,418.7 592.7,414.9 593.9,411.1 595.1,407.6 596.4,404.4 597.6,401.3 598.8,398.5 600,395.9 601.2,393.7 602.5,392 603.7,390.6 604.9,389.6 606.1,389.3 607.3,390 608.6,391.3 609.8,393 611,394.9 612.2,397.1 613.4,399.3 614.7,401.5 615.9,403.8 617.1,406.2 618.3,408.7 619.6,411.5 620.8,414.4 622,417.3 623.2,420 624.4,422.5 625.7,424.7 626.9,426.8 628.1,428.8 629.3,430.7 630.5,432.5 631.8,434.2 633,435.8 634.2,437.3 635.4,438.7 636.6,440 637.9,441.3 639.1,442.5 640.3,443.6 641.5,444.5 642.7,445.4 644,446.1 645.2,446.8 646.4,447.4 647.6,448 648.8,448.5 650.1,449.1 651.3,449.7 652.5,450.2 653.7,450.7 654.9,451.2 656.2,451.6 657.4,452 658.6,452.3 659.8,452.7 661,453 662.3,453.3 663.5,453.6 664.7,453.8 665.9,454.1 667.1,454.3 668.4,454.5 669.6,454.7 670.8,454.9 672,455.1 673.2,455.2 674.5,455.4 675.7,455.5 676.9,455.7 678.1,455.8 679.3,455.9 680.6,456 681.8,456.1 683,456.2" stroke="#000000" stroke-width="1.5" stroke-dasharray="1.2 1.3"/>
<path d="M546,457.4 547.3,457.3 548.5,457.2 549.8,457.1 551.1,457 552.3,456.9 553.6,456.7 554.9,456.6 556.1,456.4 557.4,456.2 558.7,455.9 559.9,455.5 561.2,455 562.5,454.5 563.7,453.8 565,453.1 566.3,452.4 567.5,451.5 568.8,450.6 570.1,449.6 571.3,448.5 572.6,447.3 573.9,446 575.1,444.6 576.4,443.1 577.7,441.4 578.9,439.5 580.2,437.2 581.4,434.4 582.7,430.9 584,426.9 585.2,422.6 586.5,418.1 587.8,413.3 589,408.5 590.3,403.6 591.6,398.9 592.8,394.5 594.1,390.7 595.4,387.5 596.6,384.7 597.9,382.4 599.2,381.1 600.4,381 601.7,381.9 603,383.6 604.2,385.5 605.5,387.8 606.8,390.6 608,393.6 609.3,396.7 610.6,400 611.8,403.3 613.1,406.7 614.4,410 615.6,413.2 616.9,416.1 618.2,418.9 619.4,421.8 620.7,424.8 622,427.8 623.2,430.7 624.5,433.4 625.8,435.8 627,437.9 628.3,439.5 629.6,441 630.8,442.3 632.1,443.4 633.4,444.4 634.6,445.3 635.9,446.2 637.2,446.9 638.4,447.7 639.7,448.4 641,449.1 642.2,449.9 643.5,450.6 644.8,451.3 646,451.9 647.3,452.4 648.6,452.9 649.8,453.4 651.1,453.9 652.3,454.3 653.6,454.7 654.9,455 656.1,455.2 657.4,455.5 658.7,455.7 659.9,455.9 661.2,456.1 662.5,456.2 663.7,456.4 665,456.5 666.3,456.6 667.5,456.7 668.8,456.7 670.1,456.8 671.3,456.9 672.6,456.9 673.9,457 675.1,457 676.4,457.1 678.9,457.1 680.2,457.2 684,457.2" stroke="#1ad21a" stroke-width="1.5" stroke-dasharray="1.2 1.3"/>
<path d="M545,457.4 546.3,457.3 547.5,457.2 548.8,457.1 550.1,457 551.3,456.9 552.6,456.7 553.9,456.6 555.1,456.4 556.4,456.2 557.7,455.9 558.9,455.5 560.2,455 561.5,454.5 562.7,453.8 564,453.1 565.3,452.4 566.5,451.5 567.8,450.6 569.1,449.6 570.3,448.5 571.6,447.3 572.9,446 574.1,444.6 575.4,443.1 576.7,441.4 577.9,439.5 579.2,437.2 580.4,434.4 581.7,430.9 583,426.9 584.2,422.6 585.5,418.1 586.8,413.3 588,408.5 589.3,403.6 590.6,398.9 591.8,394.5 593.1,390.7 594.4,387.5 595.6,384.7 596.9,382.4 598.2,381.1 599.4,381 600.7,381.9 602,383.6 603.2,385.5 604.5,387.8 605.8,390.6 607,393.6 608.3,396.7 609.6,400 610.8,403.3 612.1,406.7 613.4,410 614.6,413.2 615.9,416.1 617.2,418.9 618.4,421.8 619.7,424.8 621,427.8 622.2,430.7 623.5,433.4 624.8,435.8 626,437.9 627.3,439.5 628.6,441 629.8,442.3 631.1,443.4 632.4,444.4 633.6,445.3 634.9,446.2 636.2,446.9 637.4,447.7 638.7,448.4 640,449.1 641.2,449.9 642.5,450.6 643.8,451.3 645,451.9 646.3,452.4 647.6,452.9 648.8,453.4 650.1,453.9 651.3,454.3 652.6,454.7 653.9,455 655.1,455.2 656.4,455.5 657.7,455.7 658.9,455.9 660.2,456.1 661.5,456.2 662.7,456.4 664,456.5 665.3,456.6 666.5,456.7 667.8,456.7 669.1,456.8 670.3,456.9 671.6,456.9 672.9,457 674.1,457 675.4,457.1 677.9,457.1 679.2,457.2 683,457.2" stroke="#0b14dc" stroke-width="1.5" stroke-dasharray="1.2 1.3"/>
</g>
<rect x="532.8" y="325.5" width="150.20" height="132.10" fill="none" stroke="#1a1a1a" stroke-width="1.1"/>
<line x1="570.35" y1="325.5" x2="570.35" y2="328.1" stroke="#000" stroke-width="1.25"/>
<line x1="570.35" y1="457.6" x2="570.35" y2="455.0" stroke="#000" stroke-width="1.25"/>
<line x1="607.90" y1="325.5" x2="607.90" y2="328.1" stroke="#000" stroke-width="1.25"/>
<line x1="607.90" y1="457.6" x2="607.90" y2="455.0" stroke="#000" stroke-width="1.25"/>
<line x1="645.45" y1="325.5" x2="645.45" y2="328.1" stroke="#000" stroke-width="1.25"/>
<line x1="645.45" y1="457.6" x2="645.45" y2="455.0" stroke="#000" stroke-width="1.25"/>
<line x1="532.8" y1="431.18" x2="535.4" y2="431.18" stroke="#000" stroke-width="1.25"/>
<line x1="683.0" y1="431.18" x2="680.4" y2="431.18" stroke="#000" stroke-width="1.25"/>
<line x1="532.8" y1="404.76" x2="535.4" y2="404.76" stroke="#000" stroke-width="1.25"/>
<line x1="683.0" y1="404.76" x2="680.4" y2="404.76" stroke="#000" stroke-width="1.25"/>
<line x1="532.8" y1="378.34" x2="535.4" y2="378.34" stroke="#000" stroke-width="1.25"/>
<line x1="683.0" y1="378.34" x2="680.4" y2="378.34" stroke="#000" stroke-width="1.25"/>
<line x1="532.8" y1="351.92" x2="535.4" y2="351.92" stroke="#000" stroke-width="1.25"/>
<line x1="683.0" y1="351.92" x2="680.4" y2="351.92" stroke="#000" stroke-width="1.25"/>
<text transform="translate(676.40,438.70) scale(0.83,1)" text-anchor="end" font-family='"Liberation Serif", serif' font-weight="bold" font-size="13.8">c(iv)</text>
<clipPath id="cp30"><rect x="31.9" y="478.4" width="149.5" height="133.39999999999998"/></clipPath>
<g clip-path="url(#cp30)" fill="none" stroke-linejoin="round">
<path d="M53.7,611.3 54.9,611.3 56,611.2 58.3,611.2 59.5,611.1 60.7,611 61.8,610.9 63,610.8 64.1,610.7 65.3,610.6 66.5,610.5 67.6,610.3 68.8,610.1 69.9,610 71.1,609.8 72.3,609.6 73.4,609.4 74.6,609.1 75.7,608.9 76.9,608.7 78.1,608.4 79.2,608.1 80.4,607.8 81.5,607.4 82.7,606.9 83.9,606.4 85,605.8 86.2,605.1 87.3,604.3 88.5,603.4 89.6,602.3 90.8,601.1 92,599.8 93.1,598.3 94.3,596.7 95.4,594.9 96.6,592.9 97.8,590.6 98.9,588.2 100.1,585.5 101.2,582.8 102.4,579.8 103.6,576.7 104.7,573.4 105.9,570 107,566.5 108.2,562.9 109.4,559.4 110.5,555.9 111.7,552.3 112.8,548.6 114,544.8 115.2,540.9 116.3,536.9 117.5,532.8 118.6,528.7 119.8,524.6 121,520.7 122.1,517.1 123.3,513.8 124.4,510.9 125.6,508.2 126.8,505.7 127.9,503.4 129.1,501.2 130.2,499.3 131.4,497.6 132.6,496.1 133.7,494.7 134.9,493.3 136,492.1 137.2,490.9 138.4,489.9 139.5,488.9 140.7,488 141.8,487.3 143,486.6 144.2,485.9 145.3,485.4 146.5,484.9 147.6,484.5 148.8,484.1 149.9,483.7 151.1,483.4 152.3,483.2 153.4,483 154.6,482.8 155.7,482.6 156.9,482.5 158.1,482.3 159.2,482.2 160.4,482.1 161.5,482 162.7,481.9 163.9,481.8 165,481.7 166.2,481.7 167.3,481.6 168.5,481.5 169.7,481.5 170.8,481.4 172,481.4 173.1,481.3 174.3,481.3 175.5,481.2 177.8,481.2 178.9,481.1 180.1,481.1" stroke="#e8262a" stroke-width="1.3"/>
<path d="M55,611.3 56.2,611.3 57.3,611.2 59.6,611.2 60.8,611.1 62,611 63.1,610.9 64.3,610.8 65.4,610.7 66.6,610.6 67.8,610.5 68.9,610.3 70.1,610.1 71.2,610 72.4,609.8 73.6,609.6 74.7,609.4 75.9,609.1 77,608.9 78.2,608.7 79.4,608.4 80.5,608.1 81.7,607.8 82.8,607.4 84,606.9 85.2,606.4 86.3,605.8 87.5,605.1 88.6,604.3 89.8,603.4 90.9,602.3 92.1,601.1 93.3,599.8 94.4,598.3 95.6,596.7 96.7,594.9 97.9,592.9 99.1,590.6 100.2,588.2 101.4,585.5 102.5,582.8 103.7,579.8 104.9,576.7 106,573.4 107.2,570 108.3,566.5 109.5,562.9 110.7,559.4 111.8,555.9 113,552.3 114.1,548.6 115.3,544.8 116.5,540.9 117.6,536.9 118.8,532.8 119.9,528.7 121.1,524.6 122.3,520.7 123.4,517.1 124.6,513.9 125.7,511.1 126.9,508.4 128.1,505.9 129.2,503.6 130.4,501.5 131.5,499.7 132.7,498 133.9,496.5 135,495.1 136.2,493.8 137.3,492.5 138.5,491.4 139.7,490.3 140.8,489.4 142,488.5 143.1,487.8 144.3,487.1 145.5,486.5 146.6,485.9 147.8,485.5 148.9,485 150.1,484.6 151.2,484.3 152.4,484 153.6,483.8 154.7,483.5 155.9,483.4 157,483.2 158.2,483.1 159.4,482.9 160.5,482.8 161.7,482.7 162.8,482.6 164,482.5 165.2,482.4 166.3,482.3 167.5,482.2 168.6,482.2 169.8,482.1 171,482.1 172.1,482 173.3,481.9 175.6,481.9 176.8,481.8 179.1,481.8 180.2,481.7 181.4,481.7" stroke="#000000" stroke-width="1.3"/>
<path d="M58.7,611.3 59.8,611.3 60.9,611.2 62,611.2 63.2,611.1 64.3,611.1 65.4,611 66.5,610.9 67.6,610.9 68.7,610.8 69.8,610.7 71,610.6 72.1,610.5 73.2,610.4 74.3,610.3 75.4,610.2 76.5,610.1 77.6,609.9 78.7,609.8 79.9,609.6 81,609.4 82.1,609.2 83.2,609 84.3,608.8 85.4,608.5 86.5,608.1 87.7,607.8 88.8,607.3 89.9,606.7 91,606.1 92.1,605.3 93.2,604.4 94.3,603.4 95.5,602.2 96.6,600.8 97.7,599.3 98.8,597.6 99.9,595.8 101,593.9 102.1,592 103.3,590 104.4,588.1 105.5,586 106.6,583.9 107.7,581.7 108.8,579.4 109.9,576.9 111,574.3 112.2,571.6 113.3,568.7 114.4,565.8 115.5,562.7 116.6,559.5 117.7,556.2 118.8,552.8 120,549.3 121.1,545.6 122.2,541.9 123.3,538.2 124.4,534.5 125.5,530.9 126.6,527.6 127.8,524.5 128.9,521.6 130,518.9 131.1,516.2 132.2,513.6 133.3,511.2 134.4,508.9 135.5,506.8 136.7,504.9 137.8,503.1 138.9,501.3 140,499.7 141.1,498.1 142.2,496.7 143.3,495.4 144.5,494.3 145.6,493.3 146.7,492.4 147.8,491.6 148.9,490.8 150,490.2 151.1,489.5 152.3,489 153.4,488.4 154.5,488 155.6,487.5 156.7,487.1 157.8,486.7 158.9,486.4 160.1,486.1 161.2,485.8 162.3,485.5 163.4,485.3 164.5,485.1 165.6,484.9 166.7,484.7 167.8,484.6 169,484.4 170.1,484.3 171.2,484.2 172.3,484.1 173.4,484 174.5,483.9 175.6,483.8 176.8,483.7 177.9,483.6 179,483.6 180.1,483.5" stroke="#1ad21a" stroke-width="1.3"/>
<path d="M60,611.3 61.1,611.3 62.2,611.2 63.3,611.2 64.5,611.1 65.6,611.1 66.7,611 67.8,610.9 68.9,610.9 70,610.8 71.1,610.7 72.3,610.6 73.4,610.5 74.5,610.4 75.6,610.3 76.7,610.2 77.8,610.1 78.9,609.9 80,609.8 81.2,609.6 82.3,609.4 83.4,609.2 84.5,609 85.6,608.8 86.7,608.5 87.8,608.1 89,607.8 90.1,607.3 91.2,606.7 92.3,606.1 93.4,605.3 94.5,604.4 95.6,603.4 96.8,602.2 97.9,600.8 99,599.3 100.1,597.6 101.2,595.8 102.3,593.9 103.4,592 104.6,590 105.7,588.1 106.8,586 107.9,583.9 109,581.7 110.1,579.4 111.2,576.9 112.3,574.3 113.5,571.6 114.6,568.7 115.7,565.8 116.8,562.7 117.9,559.5 119,556.2 120.1,552.8 121.3,549.3 122.4,545.6 123.5,541.9 124.6,538.2 125.7,534.5 126.8,531 127.9,527.7 129.1,524.6 130.2,521.8 131.3,519.1 132.4,516.5 133.5,514 134.6,511.7 135.7,509.6 136.8,507.6 138,505.7 139.1,504 140.2,502.3 141.3,500.7 142.4,499.3 143.5,497.9 144.6,496.7 145.8,495.6 146.9,494.7 148,493.8 149.1,493 150.2,492.3 151.3,491.7 152.4,491.1 153.6,490.5 154.7,490 155.8,489.6 156.9,489.1 158,488.8 159.1,488.4 160.2,488.1 161.4,487.8 162.5,487.5 163.6,487.3 164.7,487 165.8,486.8 166.9,486.7 168,486.5 169.1,486.3 170.3,486.2 171.4,486.1 172.5,486 173.6,485.9 174.7,485.8 175.8,485.7 176.9,485.6 178.1,485.5 179.2,485.4 180.3,485.4 181.4,485.3" stroke="#0b14dc" stroke-width="1.3"/>
<path d="M51.3,611.5 53.7,611.5 54.9,611.4 57.3,611.4 58.5,611.3 59.7,611.3 60.9,611.2 62.1,611.1 63.4,610.9 64.6,610.7 65.8,610.5 67,610.2 68.2,610 69.4,609.7 70.6,609.3 71.8,608.9 73,608.5 74.2,608 75.4,607.4 76.6,606.6 77.8,605.8 79,604.8 80.2,603.7 81.4,602.4 82.6,600.9 83.8,599.4 85.1,597.7 86.3,595.8 87.5,593.5 88.7,590.7 89.9,587.3 91.1,583.8 92.3,580.1 93.5,576.6 94.7,573.1 95.9,569.6 97.1,565.8 98.3,561.7 99.5,557.1 100.7,552.2 101.9,547.3 103.1,542.5 104.3,537.9 105.5,533.4 106.8,529.2 108,525.2 109.2,521.3 110.4,517.6 111.6,514 112.8,510.7 114,507.5 115.2,504.5 116.4,501.8 117.6,499.4 118.8,497.2 120,495.3 121.2,493.6 122.4,492.2 123.6,490.9 124.8,489.7 126,488.6 127.2,487.6 128.5,486.7 129.7,485.8 130.9,485.1 132.1,484.5 133.3,483.9 134.5,483.4 135.7,483 136.9,482.7 138.1,482.4 139.3,482.2 140.5,482 141.7,481.8 142.9,481.7 144.1,481.6 145.3,481.4 146.5,481.4 147.7,481.3 148.9,481.2 150.2,481.2 151.4,481.1 152.6,481.1 153.8,481 156.2,481 157.4,480.9 162.2,480.9 163.4,480.8 168.2,480.8 169.4,480.7 176.7,480.7 177.9,480.6 182.7,480.6" stroke="#e8262a" stroke-width="1.5" stroke-dasharray="1.2 1.3"/>
<path d="M50,611.3 52.4,611.3 53.6,611.2 56,611.2 57.2,611.1 58.4,611.1 59.6,611 60.8,610.9 62.1,610.7 63.3,610.5 64.5,610.3 65.7,610 66.9,609.8 68.1,609.5 69.3,609.1 70.5,608.7 71.7,608.3 72.9,607.8 74.1,607.2 75.3,606.4 76.5,605.6 77.7,604.6 78.9,603.5 80.1,602.2 81.3,600.7 82.5,599.2 83.8,597.5 85,595.6 86.2,593.3 87.4,590.5 88.6,587.1 89.8,583.6 91,579.9 92.2,576.4 93.4,572.9 94.6,569.4 95.8,565.6 97,561.5 98.2,556.9 99.4,552 100.6,547.1 101.8,542.3 103,537.7 104.2,533.2 105.5,529 106.7,525 107.9,521.1 109.1,517.4 110.3,513.8 111.5,510.5 112.7,507.3 113.9,504.3 115.1,501.6 116.3,499.2 117.5,497 118.7,495.1 119.9,493.4 121.1,492 122.3,490.7 123.5,489.5 124.7,488.4 125.9,487.4 127.2,486.5 128.4,485.6 129.6,484.9 130.8,484.3 132,483.7 133.2,483.2 134.4,482.8 135.6,482.5 136.8,482.2 138,482 139.2,481.8 140.4,481.6 141.6,481.5 142.8,481.4 144,481.2 145.2,481.2 146.4,481.1 147.6,481 148.9,481 150.1,480.9 151.3,480.9 152.5,480.8 154.9,480.8 156.1,480.7 160.9,480.7 162.1,480.6 166.9,480.6 168.1,480.5 175.4,480.5 176.6,480.4 181.4,480.4" stroke="#000000" stroke-width="1.5" stroke-dasharray="1.2 1.3"/>
<path d="M46.2,611.4 48.7,611.4 50,611.3 52.5,611.3 53.7,611.2 55,611.2 56.2,611.1 57.5,611 58.7,610.9 60,610.7 61.2,610.5 62.5,610.3 63.7,610.1 65,609.8 66.2,609.5 67.5,609.1 68.7,608.7 70,608.1 71.2,607.4 72.5,606.5 73.7,605.5 75,604.4 76.2,603.1 77.5,601.6 78.7,600.1 80,598.4 81.2,596.5 82.5,594.4 83.7,591.9 85,588.9 86.2,585.5 87.5,581.8 88.7,577.8 90,573.5 91.2,569 92.5,564.3 93.8,559.3 95,554.3 96.3,549.1 97.5,543.9 98.8,538.7 100,533.7 101.3,528.8 102.5,524.2 103.8,519.9 105,515.7 106.3,511.9 107.5,508.5 108.8,505.4 110,502.8 111.3,500.4 112.5,498.3 113.8,496.2 115,494.2 116.3,492.3 117.5,490.7 118.8,489.4 120,488.2 121.3,487.3 122.5,486.4 123.8,485.7 125,485.1 126.3,484.5 127.5,483.9 128.8,483.5 130,483 131.3,482.7 132.5,482.3 133.8,482.1 135,481.8 136.3,481.6 137.6,481.4 138.8,481.2 140.1,481.1 141.3,481 142.6,480.8 143.8,480.7 145.1,480.6 146.3,480.5 147.6,480.5 148.8,480.4 150.1,480.3 151.3,480.2 152.6,480.2 153.8,480.1 156.3,480.1 157.6,480 161.3,480 162.6,479.9 166.3,479.9 167.6,479.8 172.6,479.8 173.8,479.7 182.6,479.7" stroke="#1ad21a" stroke-width="1.5" stroke-dasharray="1.2 1.3"/>
<path d="M45,611.3 47.5,611.3 48.8,611.2 51.3,611.2 52.5,611.1 53.8,611.1 55,611 56.3,610.9 57.5,610.8 58.8,610.6 60,610.4 61.3,610.2 62.5,610 63.8,609.7 65,609.4 66.3,609 67.5,608.6 68.8,608 70,607.3 71.3,606.4 72.5,605.4 73.8,604.3 75,603 76.3,601.5 77.5,600 78.8,598.3 80,596.4 81.3,594.3 82.5,591.8 83.8,588.8 85,585.4 86.3,581.7 87.5,577.7 88.8,573.4 90,568.9 91.3,564.2 92.6,559.2 93.8,554.2 95.1,549 96.3,543.8 97.6,538.6 98.8,533.6 100.1,528.7 101.3,524.1 102.6,519.8 103.8,515.6 105.1,511.8 106.3,508.4 107.6,505.3 108.8,502.7 110.1,500.3 111.3,498.2 112.6,496.1 113.8,494.1 115.1,492.2 116.3,490.6 117.6,489.3 118.8,488.1 120.1,487.2 121.3,486.3 122.6,485.6 123.8,485 125.1,484.4 126.3,483.8 127.6,483.4 128.8,482.9 130.1,482.6 131.3,482.2 132.6,482 133.8,481.7 135.1,481.5 136.4,481.3 137.6,481.1 138.9,481 140.1,480.9 141.4,480.7 142.6,480.6 143.9,480.5 145.1,480.4 146.4,480.4 147.6,480.3 148.9,480.2 150.1,480.1 151.4,480.1 152.6,480 155.1,480 156.4,479.9 160.1,479.9 161.4,479.8 165.1,479.8 166.4,479.7 171.4,479.7 172.6,479.6 181.4,479.6" stroke="#0b14dc" stroke-width="1.5" stroke-dasharray="1.2 1.3"/>
</g>
<rect x="31.9" y="479.4" width="149.50" height="131.90" fill="none" stroke="#1a1a1a" stroke-width="1.1"/>
<line x1="69.28" y1="479.4" x2="69.28" y2="482.0" stroke="#000" stroke-width="1.25"/>
<line x1="69.28" y1="611.3" x2="69.28" y2="608.6999999999999" stroke="#000" stroke-width="1.25"/>
<line x1="106.65" y1="479.4" x2="106.65" y2="482.0" stroke="#000" stroke-width="1.25"/>
<line x1="106.65" y1="611.3" x2="106.65" y2="608.6999999999999" stroke="#000" stroke-width="1.25"/>
<line x1="144.03" y1="479.4" x2="144.03" y2="482.0" stroke="#000" stroke-width="1.25"/>
<line x1="144.03" y1="611.3" x2="144.03" y2="608.6999999999999" stroke="#000" stroke-width="1.25"/>
<line x1="31.9" y1="584.92" x2="34.5" y2="584.92" stroke="#000" stroke-width="1.25"/>
<line x1="181.4" y1="584.92" x2="178.8" y2="584.92" stroke="#000" stroke-width="1.25"/>
<line x1="31.9" y1="558.54" x2="34.5" y2="558.54" stroke="#000" stroke-width="1.25"/>
<line x1="181.4" y1="558.54" x2="178.8" y2="558.54" stroke="#000" stroke-width="1.25"/>
<line x1="31.9" y1="532.16" x2="34.5" y2="532.16" stroke="#000" stroke-width="1.25"/>
<line x1="181.4" y1="532.16" x2="178.8" y2="532.16" stroke="#000" stroke-width="1.25"/>
<line x1="31.9" y1="505.78" x2="34.5" y2="505.78" stroke="#000" stroke-width="1.25"/>
<line x1="181.4" y1="505.78" x2="178.8" y2="505.78" stroke="#000" stroke-width="1.25"/>
<text x="0" y="0" transform="translate(29.5,614.90) scale(0.82,1)" text-anchor="end" font-family='"Liberation Sans", sans-serif' font-weight="bold" font-size="8.8" stroke="#000" stroke-width="0.15">0</text>
<text x="0" y="0" transform="translate(29.5,588.52) scale(0.82,1)" text-anchor="end" font-family='"Liberation Sans", sans-serif' font-weight="bold" font-size="8.8" stroke="#000" stroke-width="0.15">0.2</text>
<text x="0" y="0" transform="translate(29.5,562.14) scale(0.82,1)" text-anchor="end" font-family='"Liberation Sans", sans-serif' font-weight="bold" font-size="8.8" stroke="#000" stroke-width="0.15">0.4</text>
<text x="0" y="0" transform="translate(29.5,535.76) scale(0.82,1)" text-anchor="end" font-family='"Liberation Sans", sans-serif' font-weight="bold" font-size="8.8" stroke="#000" stroke-width="0.15">0.6</text>
<text x="0" y="0" transform="translate(29.5,509.38) scale(0.82,1)" text-anchor="end" font-family='"Liberation Sans", sans-serif' font-weight="bold" font-size="8.8" stroke="#000" stroke-width="0.15">0.8</text>
<text x="0" y="0" transform="translate(29.5,483.00) scale(0.82,1)" text-anchor="end" font-family='"Liberation Sans", sans-serif' font-weight="bold" font-size="8.8" stroke="#000" stroke-width="0.15">1</text>
<text transform="translate(173.30,604.90) scale(0.83,1)" text-anchor="end" font-family='"Liberation Serif", serif' font-weight="bold" font-size="13.8">d(i)</text>
<clipPath id="cp31"><rect x="199.4" y="478.4" width="149.6" height="133.39999999999998"/></clipPath>
<g clip-path="url(#cp31)" fill="none" stroke-linejoin="round">
<path d="M223.7,611.2 226,611.2 227.1,611.1 229.4,611.1 230.5,611 231.7,610.9 232.8,610.9 233.9,610.8 235.1,610.7 236.2,610.6 237.4,610.5 238.5,610.4 239.6,610.3 240.8,610.1 241.9,610 243,609.8 244.2,609.6 245.3,609.3 246.5,609 247.6,608.7 248.7,608.4 249.9,608 251,607.6 252.1,607.2 253.3,606.7 254.4,606.2 255.6,605.7 256.7,605.1 257.8,604.4 259,603.7 260.1,602.9 261.2,602 262.4,601 263.5,599.8 264.7,598.5 265.8,597.1 266.9,595.6 268.1,593.9 269.2,592 270.3,589.8 271.5,587.5 272.6,584.9 273.8,582 274.9,578.7 276,575.2 277.2,571.3 278.3,567 279.4,562.5 280.6,558 281.7,553.5 282.9,549.3 284,545.3 285.1,541.6 286.3,538.1 287.4,534.7 288.5,531.4 289.7,528.2 290.8,525.2 292,522.3 293.1,519.7 294.2,517.2 295.4,514.9 296.5,512.8 297.6,510.8 298.8,508.9 299.9,507.2 301.1,505.6 302.2,504.1 303.3,502.7 304.5,501.4 305.6,500.1 306.7,498.9 307.9,497.8 309,496.8 310.2,495.8 311.3,494.9 312.4,494 313.6,493.3 314.7,492.6 315.8,492 317,491.4 318.1,490.9 319.3,490.4 320.4,489.9 321.5,489.6 322.7,489.2 323.8,488.9 324.9,488.6 326.1,488.4 327.2,488.2 328.4,487.9 329.5,487.8 330.6,487.6 331.8,487.5 332.9,487.4 334,487.3 335.2,487.2 336.3,487.1 337.5,487.1 338.6,487 339.7,486.9 340.9,486.9 342,486.8 344.3,486.8 345.4,486.7 347.7,486.7" stroke="#e8262a" stroke-width="1.3"/>
<path d="M225,611.2 227.3,611.2 228.4,611.1 230.7,611.1 231.8,611 233,610.9 234.1,610.9 235.2,610.8 236.4,610.7 237.5,610.6 238.7,610.5 239.8,610.4 240.9,610.3 242.1,610.1 243.2,610 244.3,609.8 245.5,609.6 246.6,609.3 247.8,609 248.9,608.7 250,608.4 251.2,608 252.3,607.6 253.4,607.2 254.6,606.7 255.7,606.2 256.9,605.7 258,605.1 259.1,604.4 260.3,603.7 261.4,602.9 262.5,602 263.7,601 264.8,599.8 266,598.5 267.1,597.1 268.2,595.6 269.4,593.9 270.5,592 271.6,589.8 272.8,587.5 273.9,584.9 275.1,582 276.2,578.7 277.3,575.2 278.5,571.3 279.6,567 280.7,562.5 281.9,558 283,553.5 284.2,549.3 285.3,545.3 286.4,541.6 287.6,538.1 288.7,534.7 289.8,531.4 291,528.2 292.1,525.2 293.3,522.4 294.4,519.7 295.5,517.3 296.7,515 297.8,512.9 298.9,511 300.1,509.2 301.2,507.5 302.4,505.9 303.5,504.4 304.6,503 305.8,501.7 306.9,500.5 308,499.4 309.2,498.2 310.3,497.2 311.5,496.2 312.6,495.3 313.7,494.5 314.9,493.8 316,493.1 317.1,492.5 318.3,491.9 319.4,491.4 320.6,490.9 321.7,490.5 322.8,490.1 324,489.8 325.1,489.5 326.2,489.2 327.4,489 328.5,488.7 329.7,488.5 330.8,488.4 331.9,488.2 333.1,488.1 334.2,488 335.3,487.9 336.5,487.8 337.6,487.7 338.8,487.7 339.9,487.6 341,487.5 342.2,487.5 343.3,487.4 345.6,487.4 346.7,487.3 349,487.3" stroke="#000000" stroke-width="1.3"/>
<path d="M228.7,611.2 232,611.2 233.1,611.1 235.3,611.1 236.3,611 237.4,611 238.5,610.9 239.6,610.9 240.7,610.8 241.8,610.8 242.9,610.7 244,610.6 245.1,610.6 246.2,610.5 247.3,610.4 248.4,610.3 249.4,610.1 250.5,610 251.6,609.8 252.7,609.6 253.8,609.4 254.9,609.2 256,609 257.1,608.7 258.2,608.4 259.3,608 260.4,607.5 261.5,607 262.5,606.4 263.6,605.7 264.7,604.9 265.8,604.2 266.9,603.3 268,602.3 269.1,601.2 270.2,600 271.3,598.7 272.4,597.2 273.5,595.7 274.6,594.1 275.6,592.4 276.7,590.6 277.8,588.5 278.9,586.3 280,583.9 281.1,581.2 282.2,578.3 283.3,575 284.4,571.5 285.5,567.6 286.6,563.6 287.7,559.5 288.7,555.6 289.8,551.8 290.9,548.2 292,544.8 293.1,541.6 294.2,538.5 295.3,535.6 296.4,532.7 297.5,530 298.6,527.3 299.7,524.8 300.8,522.4 301.8,520.1 302.9,518 304,515.9 305.1,514 306.2,512.2 307.3,510.5 308.4,509 309.5,507.5 310.6,506.1 311.7,504.8 312.8,503.6 313.9,502.4 314.9,501.3 316,500.3 317.1,499.3 318.2,498.4 319.3,497.6 320.4,496.8 321.5,496.1 322.6,495.4 323.7,494.8 324.8,494.3 325.9,493.8 327,493.3 328,492.9 329.1,492.5 330.2,492.2 331.3,491.9 332.4,491.7 333.5,491.5 334.6,491.3 335.7,491.1 336.8,491 337.9,490.8 339,490.7 340.1,490.6 341.1,490.5 342.2,490.4 343.3,490.4 344.4,490.3 345.5,490.3 346.6,490.2 347.7,490.2" stroke="#1ad21a" stroke-width="1.3"/>
<path d="M230,611.2 233.3,611.2 234.4,611.1 236.6,611.1 237.6,611 238.7,611 239.8,610.9 240.9,610.9 242,610.8 243.1,610.8 244.2,610.7 245.3,610.6 246.4,610.6 247.5,610.5 248.6,610.4 249.7,610.3 250.7,610.1 251.8,610 252.9,609.8 254,609.6 255.1,609.4 256.2,609.2 257.3,609 258.4,608.7 259.5,608.4 260.6,608 261.7,607.5 262.8,607 263.8,606.4 264.9,605.7 266,604.9 267.1,604.2 268.2,603.3 269.3,602.3 270.4,601.2 271.5,600 272.6,598.7 273.7,597.2 274.8,595.7 275.9,594.1 276.9,592.4 278,590.6 279.1,588.5 280.2,586.3 281.3,583.9 282.4,581.2 283.5,578.3 284.6,575 285.7,571.5 286.8,567.6 287.9,563.6 289,559.5 290,555.6 291.1,551.8 292.2,548.2 293.3,544.8 294.4,541.6 295.5,538.5 296.6,535.6 297.7,532.8 298.8,530 299.9,527.5 301,525 302.1,522.7 303.1,520.5 304.2,518.4 305.3,516.5 306.4,514.7 307.5,512.9 308.6,511.4 309.7,509.9 310.8,508.4 311.9,507.1 313,505.9 314.1,504.7 315.2,503.6 316.2,502.6 317.3,501.6 318.4,500.7 319.5,499.8 320.6,499 321.7,498.3 322.8,497.6 323.9,497 325,496.4 326.1,495.9 327.2,495.4 328.3,494.9 329.3,494.5 330.4,494.2 331.5,493.9 332.6,493.6 333.7,493.4 334.8,493.2 335.9,493 337,492.9 338.1,492.7 339.2,492.6 340.3,492.5 341.4,492.4 342.4,492.3 343.5,492.2 344.6,492.2 345.7,492.1 346.8,492.1 347.9,492 349,492" stroke="#0b14dc" stroke-width="1.3"/>
<path d="M221.3,611.4 223.7,611.4 224.9,611.3 226,611.3 227.2,611.2 228.4,611.1 229.6,611 230.8,610.9 232,610.8 233.1,610.7 234.3,610.6 235.5,610.4 236.7,610.3 237.9,610 239.1,609.7 240.2,609.4 241.4,608.9 242.6,608.4 243.8,607.8 245,607.1 246.2,606.4 247.3,605.7 248.5,604.8 249.7,603.7 250.9,602.6 252.1,601.3 253.3,599.9 254.4,598.4 255.6,596.6 256.8,594.7 258,592.5 259.2,590.1 260.4,587.4 261.5,584.3 262.7,581 263.9,577.4 265.1,573.6 266.3,569.8 267.5,566.2 268.6,562.7 269.8,559.1 271,555.4 272.2,551.6 273.4,547.7 274.6,543.8 275.7,539.9 276.9,536 278.1,532.1 279.3,528.4 280.5,524.7 281.7,521.1 282.8,517.7 284,514.5 285.2,511.5 286.4,508.8 287.6,506.4 288.8,504.1 289.9,502 291.1,500.1 292.3,498.4 293.5,496.7 294.7,495.3 295.9,494 297,492.8 298.2,491.8 299.4,490.9 300.6,490 301.8,489.3 303,488.7 304.1,488.1 305.3,487.6 306.5,487.2 307.7,486.9 308.9,486.5 310.1,486.2 311.2,486 312.4,485.7 313.6,485.5 314.8,485.4 316,485.2 317.2,485.1 318.3,484.9 319.5,484.8 320.7,484.7 321.9,484.6 323.1,484.5 324.3,484.4 325.4,484.3 326.6,484.3 327.8,484.2 329,484.1 330.2,484.1 331.4,484 333.7,484 334.9,483.9 338.5,483.9 339.6,483.8 343.2,483.8 344.4,483.7 350.3,483.7" stroke="#e8262a" stroke-width="1.5" stroke-dasharray="1.2 1.3"/>
<path d="M220,611.2 222.4,611.2 223.6,611.1 224.7,611.1 225.9,611 227.1,610.9 228.3,610.8 229.5,610.7 230.7,610.6 231.8,610.5 233,610.4 234.2,610.2 235.4,610.1 236.6,609.8 237.8,609.5 238.9,609.2 240.1,608.7 241.3,608.2 242.5,607.6 243.7,606.9 244.9,606.2 246,605.5 247.2,604.6 248.4,603.5 249.6,602.4 250.8,601.1 252,599.7 253.1,598.2 254.3,596.4 255.5,594.5 256.7,592.3 257.9,589.9 259.1,587.2 260.2,584.1 261.4,580.8 262.6,577.2 263.8,573.4 265,569.6 266.2,566 267.3,562.5 268.5,558.9 269.7,555.2 270.9,551.4 272.1,547.5 273.3,543.6 274.4,539.7 275.6,535.8 276.8,531.9 278,528.2 279.2,524.5 280.4,520.9 281.5,517.5 282.7,514.3 283.9,511.3 285.1,508.6 286.3,506.2 287.5,503.9 288.6,501.8 289.8,499.9 291,498.2 292.2,496.5 293.4,495.1 294.6,493.8 295.7,492.6 296.9,491.6 298.1,490.7 299.3,489.8 300.5,489.1 301.7,488.5 302.8,487.9 304,487.4 305.2,487 306.4,486.7 307.6,486.3 308.8,486 309.9,485.8 311.1,485.5 312.3,485.3 313.5,485.2 314.7,485 315.9,484.9 317,484.7 318.2,484.6 319.4,484.5 320.6,484.4 321.8,484.3 323,484.2 324.1,484.1 325.3,484.1 326.5,484 327.7,483.9 328.9,483.9 330.1,483.8 332.4,483.8 333.6,483.7 337.2,483.7 338.3,483.6 341.9,483.6 343.1,483.5 349,483.5" stroke="#000000" stroke-width="1.5" stroke-dasharray="1.2 1.3"/>
<path d="M216.2,611.3 218.7,611.3 219.9,611.2 221.1,611.2 222.3,611.1 223.6,611 224.8,610.9 226,610.8 227.3,610.7 228.5,610.5 229.7,610.4 231,610.2 232.2,610 233.4,609.8 234.6,609.4 235.9,609 237.1,608.4 238.3,607.7 239.6,607 240.8,606.2 242,605.3 243.2,604.3 244.5,603.1 245.7,601.9 246.9,600.5 248.2,599 249.4,597.2 250.6,595.2 251.9,592.9 253.1,590.2 254.3,587 255.5,583.3 256.8,579.4 258,575.4 259.2,571.4 260.5,567.7 261.7,564.3 262.9,560.9 264.1,557.4 265.4,553.7 266.6,549.9 267.8,545.9 269.1,541.8 270.3,537.6 271.5,533.5 272.8,529.4 274,525.5 275.2,521.7 276.4,518.1 277.7,514.7 278.9,511.6 280.1,508.8 281.4,506.3 282.6,503.9 283.8,501.8 285,499.8 286.3,498 287.5,496.4 288.7,494.9 290,493.6 291.2,492.3 292.4,491.1 293.6,490.1 294.9,489.2 296.1,488.4 297.3,487.7 298.6,487.1 299.8,486.5 301,486 302.3,485.6 303.5,485.3 304.7,484.9 305.9,484.7 307.2,484.4 308.4,484.2 309.6,484 310.9,483.8 312.1,483.7 313.3,483.5 314.5,483.4 315.8,483.3 317,483.2 318.2,483.2 319.5,483.1 320.7,483 321.9,483 323.2,482.9 325.6,482.9 326.8,482.8 329.3,482.8 330.5,482.7 335.4,482.7 336.7,482.6 341.6,482.6 342.8,482.5 350.2,482.5" stroke="#1ad21a" stroke-width="1.5" stroke-dasharray="1.2 1.3"/>
<path d="M215,611.2 217.5,611.2 218.7,611.1 219.9,611.1 221.1,611 222.4,610.9 223.6,610.8 224.8,610.7 226.1,610.6 227.3,610.4 228.5,610.3 229.8,610.1 231,609.9 232.2,609.7 233.4,609.3 234.7,608.9 235.9,608.3 237.1,607.6 238.4,606.9 239.6,606.1 240.8,605.2 242,604.2 243.3,603 244.5,601.8 245.7,600.4 247,598.9 248.2,597.1 249.4,595.1 250.7,592.8 251.9,590.1 253.1,586.9 254.3,583.2 255.6,579.3 256.8,575.3 258,571.3 259.3,567.6 260.5,564.2 261.7,560.8 262.9,557.3 264.2,553.6 265.4,549.8 266.6,545.8 267.9,541.7 269.1,537.5 270.3,533.4 271.6,529.3 272.8,525.4 274,521.6 275.2,518 276.5,514.6 277.7,511.5 278.9,508.7 280.2,506.2 281.4,503.8 282.6,501.7 283.8,499.7 285.1,497.9 286.3,496.3 287.5,494.8 288.8,493.5 290,492.2 291.2,491 292.4,490 293.7,489.1 294.9,488.3 296.1,487.6 297.4,487 298.6,486.4 299.8,485.9 301.1,485.5 302.3,485.2 303.5,484.8 304.7,484.6 306,484.3 307.2,484.1 308.4,483.9 309.7,483.7 310.9,483.6 312.1,483.4 313.3,483.3 314.6,483.2 315.8,483.1 317,483.1 318.3,483 319.5,482.9 320.7,482.9 322,482.8 324.4,482.8 325.6,482.7 328.1,482.7 329.3,482.6 334.2,482.6 335.5,482.5 340.4,482.5 341.6,482.4 349,482.4" stroke="#0b14dc" stroke-width="1.5" stroke-dasharray="1.2 1.3"/>
</g>
<rect x="199.4" y="479.4" width="149.60" height="131.90" fill="none" stroke="#1a1a1a" stroke-width="1.1"/>
<line x1="236.80" y1="479.4" x2="236.80" y2="482.0" stroke="#000" stroke-width="1.25"/>
<line x1="236.80" y1="611.3" x2="236.80" y2="608.6999999999999" stroke="#000" stroke-width="1.25"/>
<line x1="274.20" y1="479.4" x2="274.20" y2="482.0" stroke="#000" stroke-width="1.25"/>
<line x1="274.20" y1="611.3" x2="274.20" y2="608.6999999999999" stroke="#000" stroke-width="1.25"/>
<line x1="311.60" y1="479.4" x2="311.60" y2="482.0" stroke="#000" stroke-width="1.25"/>
<line x1="311.60" y1="611.3" x2="311.60" y2="608.6999999999999" stroke="#000" stroke-width="1.25"/>
<line x1="199.4" y1="584.92" x2="202.0" y2="584.92" stroke="#000" stroke-width="1.25"/>
<line x1="349.0" y1="584.92" x2="346.4" y2="584.92" stroke="#000" stroke-width="1.25"/>
<line x1="199.4" y1="558.54" x2="202.0" y2="558.54" stroke="#000" stroke-width="1.25"/>
<line x1="349.0" y1="558.54" x2="346.4" y2="558.54" stroke="#000" stroke-width="1.25"/>
<line x1="199.4" y1="532.16" x2="202.0" y2="532.16" stroke="#000" stroke-width="1.25"/>
<line x1="349.0" y1="532.16" x2="346.4" y2="532.16" stroke="#000" stroke-width="1.25"/>
<line x1="199.4" y1="505.78" x2="202.0" y2="505.78" stroke="#000" stroke-width="1.25"/>
<line x1="349.0" y1="505.78" x2="346.4" y2="505.78" stroke="#000" stroke-width="1.25"/>
<text transform="translate(344.40,604.90) scale(0.83,1)" text-anchor="end" font-family='"Liberation Serif", serif' font-weight="bold" font-size="13.8">d(ii)</text>
<clipPath id="cp32"><rect x="365.4" y="478.4" width="149.60000000000002" height="133.39999999999998"/></clipPath>
<g clip-path="url(#cp32)" fill="none" stroke-linejoin="round">
<path d="M388.7,611.3 392.1,611.3 393.3,611.2 395.6,611.2 396.7,611.1 397.9,611.1 399,611 400.2,611 401.3,610.9 402.5,610.8 403.6,610.7 404.8,610.7 405.9,610.6 407,610.5 408.2,610.4 409.3,610.2 410.5,610 411.6,609.8 412.8,609.5 413.9,609.1 415.1,608.7 416.2,608.3 417.4,607.9 418.5,607.4 419.7,606.9 420.8,606.3 422,605.7 423.1,605 424.3,604.2 425.4,603.3 426.5,602.4 427.7,601.4 428.8,600.3 430,599.1 431.1,597.8 432.3,596.3 433.4,594.7 434.6,592.9 435.7,590.9 436.9,588.8 438,586.7 439.2,584.5 440.3,582.2 441.5,579.8 442.6,577.4 443.7,574.8 444.9,572.1 446,569.2 447.2,566.1 448.3,562.8 449.5,559.5 450.6,556.3 451.8,553.2 452.9,550.2 454.1,547.4 455.2,544.6 456.4,541.9 457.5,539.4 458.7,537 459.8,534.8 460.9,532.7 462.1,530.8 463.2,529.1 464.4,527.4 465.5,525.9 466.7,524.5 467.8,523.2 469,522 470.1,520.9 471.3,519.9 472.4,518.9 473.6,518.1 474.7,517.3 475.9,516.5 477,515.8 478.1,515.2 479.3,514.7 480.4,514.2 481.6,513.8 482.7,513.4 483.9,513 485,512.7 486.2,512.4 487.3,512.2 488.5,512 489.6,511.8 490.8,511.6 491.9,511.5 493.1,511.3 494.2,511.2 495.4,511.1 496.5,511 497.6,511 498.8,510.9 499.9,510.9 501.1,510.8 503.4,510.8 504.5,510.7 508,510.7 509.1,510.6 513.7,510.6" stroke="#e8262a" stroke-width="1.3"/>
<path d="M390,611.3 393.4,611.3 394.6,611.2 396.9,611.2 398,611.1 399.2,611.1 400.3,611 401.5,611 402.6,610.9 403.8,610.8 404.9,610.7 406.1,610.7 407.2,610.6 408.3,610.5 409.5,610.4 410.6,610.2 411.8,610 412.9,609.8 414.1,609.5 415.2,609.1 416.4,608.7 417.5,608.3 418.7,607.9 419.8,607.4 421,606.9 422.1,606.3 423.3,605.7 424.4,605 425.6,604.2 426.7,603.3 427.8,602.4 429,601.4 430.1,600.3 431.3,599.1 432.4,597.8 433.6,596.3 434.7,594.7 435.9,592.9 437,590.9 438.2,588.8 439.3,586.7 440.5,584.5 441.6,582.2 442.8,579.8 443.9,577.4 445,574.8 446.2,572.1 447.3,569.2 448.5,566.1 449.6,562.8 450.8,559.5 451.9,556.3 453.1,553.2 454.2,550.2 455.4,547.4 456.5,544.6 457.7,542 458.8,539.5 460,537.1 461.1,534.9 462.2,532.9 463.4,531 464.5,529.3 465.7,527.7 466.8,526.2 468,524.9 469.1,523.6 470.3,522.4 471.4,521.3 472.6,520.3 473.7,519.4 474.9,518.5 476,517.7 477.2,517 478.3,516.3 479.4,515.7 480.6,515.2 481.7,514.7 482.9,514.3 484,513.9 485.2,513.6 486.3,513.3 487.5,513 488.6,512.8 489.8,512.5 490.9,512.4 492.1,512.2 493.2,512.1 494.4,511.9 495.5,511.8 496.7,511.7 497.8,511.6 498.9,511.6 500.1,511.5 501.2,511.5 502.4,511.4 504.7,511.4 505.8,511.3 509.3,511.3 510.4,511.2 515,511.2" stroke="#000000" stroke-width="1.3"/>
<path d="M393.7,611.3 399.2,611.3 400.3,611.2 403.6,611.2 404.7,611.1 406.9,611.1 408,611 409.1,611 410.2,610.9 411.3,610.8 412.4,610.7 413.5,610.6 414.6,610.4 415.7,610.2 416.8,609.9 417.9,609.7 419,609.4 420.1,609.1 421.2,608.8 422.3,608.5 423.4,608 424.5,607.5 425.6,607 426.7,606.3 427.8,605.6 428.9,604.8 430,603.9 431.1,603 432.2,602 433.3,601 434.4,600 435.5,598.9 436.6,597.8 437.7,596.6 438.8,595.3 439.9,593.9 441,592.4 442.1,590.8 443.2,589.1 444.3,587.3 445.4,585.5 446.5,583.6 447.6,581.5 448.7,579.4 449.8,577.1 450.9,574.6 452,572.1 453.1,569.4 454.3,566.5 455.4,563.6 456.5,560.6 457.6,557.8 458.7,555.1 459.8,552.6 460.9,550.2 462,547.8 463.1,545.6 464.2,543.4 465.3,541.4 466.4,539.4 467.5,537.5 468.6,535.8 469.7,534.1 470.8,532.5 471.9,531 473,529.6 474.1,528.4 475.2,527.2 476.3,526.2 477.4,525.2 478.5,524.3 479.6,523.5 480.7,522.7 481.8,522 482.9,521.4 484,520.8 485.1,520.3 486.2,519.9 487.3,519.4 488.4,519.1 489.5,518.7 490.6,518.4 491.7,518.1 492.8,517.9 493.9,517.7 495,517.5 496.1,517.3 497.2,517.2 498.3,517 499.4,516.9 500.5,516.8 501.6,516.7 502.7,516.6 503.8,516.5 504.9,516.4 506,516.3 507.1,516.2 508.2,516.2 509.3,516.1 510.4,516.1 511.5,516 513.7,516" stroke="#1ad21a" stroke-width="1.3"/>
<path d="M395,611.3 400.5,611.3 401.6,611.2 404.9,611.2 406,611.1 408.2,611.1 409.3,611 410.4,611 411.5,610.9 412.6,610.8 413.7,610.7 414.8,610.6 415.9,610.4 417,610.2 418.1,609.9 419.2,609.7 420.3,609.4 421.4,609.1 422.5,608.8 423.6,608.5 424.7,608 425.8,607.5 426.9,607 428,606.3 429.1,605.6 430.2,604.8 431.3,603.9 432.4,603 433.5,602 434.6,601 435.7,600 436.8,598.9 437.9,597.8 439,596.6 440.1,595.3 441.2,593.9 442.3,592.4 443.4,590.8 444.5,589.1 445.6,587.3 446.7,585.5 447.8,583.6 448.9,581.5 450,579.4 451.1,577.1 452.2,574.6 453.3,572.1 454.4,569.4 455.6,566.5 456.7,563.6 457.8,560.6 458.9,557.7 460,555.1 461.1,552.5 462.2,550.2 463.3,547.9 464.4,545.7 465.5,543.6 466.6,541.7 467.7,539.8 468.8,538 469.9,536.4 471,534.8 472.1,533.3 473.2,531.9 474.3,530.6 475.4,529.4 476.5,528.4 477.6,527.4 478.7,526.4 479.8,525.6 480.9,524.8 482,524.1 483.1,523.5 484.2,522.9 485.3,522.3 486.4,521.9 487.5,521.4 488.6,521 489.7,520.7 490.8,520.3 491.9,520.1 493,519.8 494.1,519.6 495.2,519.4 496.3,519.2 497.4,519 498.5,518.9 499.6,518.8 500.7,518.6 501.8,518.5 502.9,518.4 504,518.4 505.1,518.3 506.2,518.2 507.3,518.1 508.4,518 509.5,518 510.6,517.9 511.7,517.9 512.8,517.8 515,517.8" stroke="#0b14dc" stroke-width="1.3"/>
<path d="M386.3,611.5 388.7,611.5 389.9,611.4 391.1,611.4 392.3,611.3 393.5,611.3 394.6,611.2 395.8,611.1 397,611 398.2,610.9 399.4,610.8 400.6,610.7 401.8,610.5 403,610.4 404.2,610.2 405.4,610 406.6,609.7 407.8,609.3 409,608.9 410.2,608.5 411.3,607.9 412.5,607.4 413.7,606.7 414.9,606 416.1,605.2 417.3,604.2 418.5,603.1 419.7,601.8 420.9,600.4 422.1,598.9 423.3,597.1 424.5,595.2 425.7,593 426.9,590.6 428,588.1 429.2,585.5 430.4,582.8 431.6,580 432.8,577 434,573.9 435.2,570.7 436.4,567.3 437.6,563.8 438.8,560.1 440,556.4 441.2,552.6 442.4,548.8 443.5,545.2 444.7,541.8 445.9,538.6 447.1,535.6 448.3,532.9 449.5,530.5 450.7,528.3 451.9,526.4 453.1,524.6 454.3,522.9 455.5,521.3 456.7,519.9 457.9,518.5 459.1,517.2 460.2,516 461.4,515 462.6,514.2 463.8,513.4 465,512.7 466.2,512 467.4,511.4 468.6,510.9 469.8,510.4 471,509.9 472.2,509.5 473.4,509.1 474.6,508.7 475.7,508.4 476.9,508 478.1,507.7 479.3,507.5 480.5,507.3 481.7,507.1 482.9,506.9 484.1,506.8 485.3,506.6 486.5,506.5 487.7,506.4 488.9,506.3 490.1,506.2 491.3,506.1 492.4,506.1 493.6,506 494.8,506 496,505.9 498.4,505.9 499.6,505.8 502,505.8 503.2,505.7 508,505.7 509.1,505.6 516.3,505.6" stroke="#e8262a" stroke-width="1.5" stroke-dasharray="1.2 1.3"/>
<path d="M385,611.3 387.4,611.3 388.6,611.2 389.8,611.2 391,611.1 392.2,611.1 393.3,611 394.5,610.9 395.7,610.8 396.9,610.7 398.1,610.6 399.3,610.5 400.5,610.3 401.7,610.2 402.9,610 404.1,609.8 405.3,609.5 406.5,609.1 407.7,608.7 408.9,608.3 410,607.7 411.2,607.2 412.4,606.5 413.6,605.8 414.8,605 416,604 417.2,602.9 418.4,601.6 419.6,600.2 420.8,598.7 422,596.9 423.2,595 424.4,592.8 425.6,590.4 426.7,587.9 427.9,585.3 429.1,582.6 430.3,579.8 431.5,576.8 432.7,573.7 433.9,570.5 435.1,567.1 436.3,563.6 437.5,559.9 438.7,556.2 439.9,552.4 441.1,548.6 442.2,545 443.4,541.6 444.6,538.4 445.8,535.4 447,532.7 448.2,530.3 449.4,528.1 450.6,526.2 451.8,524.4 453,522.7 454.2,521.1 455.4,519.7 456.6,518.3 457.8,517 458.9,515.8 460.1,514.8 461.3,514 462.5,513.2 463.7,512.5 464.9,511.8 466.1,511.2 467.3,510.7 468.5,510.2 469.7,509.7 470.9,509.3 472.1,508.9 473.3,508.5 474.4,508.2 475.6,507.8 476.8,507.5 478,507.3 479.2,507.1 480.4,506.9 481.6,506.7 482.8,506.6 484,506.4 485.2,506.3 486.4,506.2 487.6,506.1 488.8,506 490,505.9 491.1,505.9 492.3,505.8 493.5,505.8 494.7,505.7 497.1,505.7 498.3,505.6 500.7,505.6 501.9,505.5 506.7,505.5 507.8,505.4 515,505.4" stroke="#000000" stroke-width="1.5" stroke-dasharray="1.2 1.3"/>
<path d="M381.2,611.4 383.7,611.4 384.9,611.3 386.2,611.3 387.4,611.2 388.6,611.1 389.9,611 391.1,610.9 392.3,610.8 393.6,610.7 394.8,610.6 396.1,610.4 397.3,610.3 398.5,610.1 399.8,609.9 401,609.7 402.3,609.3 403.5,608.9 404.7,608.4 406,607.8 407.2,607.2 408.4,606.5 409.7,605.7 410.9,604.9 412.2,604 413.4,602.9 414.6,601.8 415.9,600.4 417.1,598.9 418.4,597.1 419.6,595.1 420.8,592.6 422.1,590 423.3,587.1 424.5,584.2 425.8,581.1 427,577.9 428.3,574.6 429.5,571 430.7,567.1 432,563.1 433.2,558.9 434.5,554.7 435.7,550.7 436.9,546.7 438.2,543.1 439.4,539.6 440.6,536.5 441.9,533.5 443.1,530.8 444.4,528.3 445.6,526 446.8,523.8 448.1,521.9 449.3,520.1 450.6,518.4 451.8,517 453,515.7 454.3,514.5 455.5,513.5 456.8,512.5 458,511.7 459.2,510.9 460.5,510.3 461.7,509.7 462.9,509.1 464.2,508.6 465.4,508.2 466.7,507.8 467.9,507.4 469.1,507.1 470.4,506.8 471.6,506.6 472.9,506.3 474.1,506.1 475.3,505.9 476.6,505.7 477.8,505.6 479,505.5 480.3,505.4 481.5,505.3 482.8,505.2 484,505.1 485.2,505.1 486.5,505 487.7,505 489,504.9 491.4,504.9 492.7,504.8 495.1,504.8 496.4,504.7 500.1,504.7 501.3,504.6 507.5,504.6 508.8,504.5 516.2,504.5" stroke="#1ad21a" stroke-width="1.5" stroke-dasharray="1.2 1.3"/>
<path d="M380,611.3 382.5,611.3 383.7,611.2 385,611.2 386.2,611.1 387.4,611 388.7,610.9 389.9,610.8 391.1,610.7 392.4,610.6 393.6,610.5 394.9,610.3 396.1,610.2 397.3,610 398.6,609.8 399.8,609.6 401.1,609.2 402.3,608.8 403.5,608.3 404.8,607.7 406,607.1 407.2,606.4 408.5,605.6 409.7,604.8 411,603.9 412.2,602.8 413.4,601.7 414.7,600.3 415.9,598.8 417.2,597 418.4,595 419.6,592.5 420.9,589.9 422.1,587 423.3,584.1 424.6,581 425.8,577.8 427.1,574.5 428.3,570.9 429.5,567 430.8,563 432,558.8 433.3,554.6 434.5,550.6 435.7,546.6 437,543 438.2,539.5 439.4,536.4 440.7,533.4 441.9,530.7 443.2,528.2 444.4,525.9 445.6,523.7 446.9,521.8 448.1,520 449.4,518.3 450.6,516.9 451.8,515.6 453.1,514.4 454.3,513.4 455.6,512.4 456.8,511.6 458,510.8 459.3,510.2 460.5,509.6 461.7,509 463,508.5 464.2,508.1 465.5,507.7 466.7,507.3 467.9,507 469.2,506.7 470.4,506.5 471.7,506.2 472.9,506 474.1,505.8 475.4,505.6 476.6,505.5 477.8,505.4 479.1,505.3 480.3,505.2 481.6,505.1 482.8,505 484,505 485.3,504.9 486.5,504.9 487.8,504.8 490.2,504.8 491.5,504.7 493.9,504.7 495.2,504.6 498.9,504.6 500.1,504.5 506.3,504.5 507.6,504.4 515,504.4" stroke="#0b14dc" stroke-width="1.5" stroke-dasharray="1.2 1.3"/>
</g>
<rect x="365.4" y="479.4" width="149.60" height="131.90" fill="none" stroke="#1a1a1a" stroke-width="1.1"/>
<line x1="402.80" y1="479.4" x2="402.80" y2="482.0" stroke="#000" stroke-width="1.25"/>
<line x1="402.80" y1="611.3" x2="402.80" y2="608.6999999999999" stroke="#000" stroke-width="1.25"/>
<line x1="440.20" y1="479.4" x2="440.20" y2="482.0" stroke="#000" stroke-width="1.25"/>
<line x1="440.20" y1="611.3" x2="440.20" y2="608.6999999999999" stroke="#000" stroke-width="1.25"/>
<line x1="477.60" y1="479.4" x2="477.60" y2="482.0" stroke="#000" stroke-width="1.25"/>
<line x1="477.60" y1="611.3" x2="477.60" y2="608.6999999999999" stroke="#000" stroke-width="1.25"/>
<line x1="365.4" y1="584.92" x2="368.0" y2="584.92" stroke="#000" stroke-width="1.25"/>
<line x1="515.0" y1="584.92" x2="512.4" y2="584.92" stroke="#000" stroke-width="1.25"/>
<line x1="365.4" y1="558.54" x2="368.0" y2="558.54" stroke="#000" stroke-width="1.25"/>
<line x1="515.0" y1="558.54" x2="512.4" y2="558.54" stroke="#000" stroke-width="1.25"/>
<line x1="365.4" y1="532.16" x2="368.0" y2="532.16" stroke="#000" stroke-width="1.25"/>
<line x1="515.0" y1="532.16" x2="512.4" y2="532.16" stroke="#000" stroke-width="1.25"/>
<line x1="365.4" y1="505.78" x2="368.0" y2="505.78" stroke="#000" stroke-width="1.25"/>
<line x1="515.0" y1="505.78" x2="512.4" y2="505.78" stroke="#000" stroke-width="1.25"/>
<text transform="translate(509.90,605.30) scale(0.83,1)" text-anchor="end" font-family='"Liberation Serif", serif' font-weight="bold" font-size="13.8">d(iii)</text>
<clipPath id="cp33"><rect x="532.8" y="478.4" width="149.70000000000005" height="133.39999999999998"/></clipPath>
<g clip-path="url(#cp33)" fill="none" stroke-linejoin="round">
<path d="M553.7,611.3 557.2,611.3 558.4,611.2 560.7,611.2 561.9,611.1 563.1,611.1 564.2,611 565.4,611 566.6,610.9 567.7,610.8 568.9,610.8 570.1,610.7 571.2,610.6 572.4,610.4 573.6,610.2 574.8,610 575.9,609.8 577.1,609.6 578.3,609.4 579.4,609.1 580.6,608.8 581.8,608.5 582.9,608.2 584.1,607.8 585.3,607.4 586.5,607 587.6,606.5 588.8,606 590,605.4 591.1,604.8 592.3,604 593.5,603.2 594.6,602.1 595.8,600.9 597,599.6 598.1,598.3 599.3,597.1 600.5,595.8 601.7,594.6 602.8,593.3 604,592 605.2,590.6 606.3,589.1 607.5,587.4 608.7,585.7 609.8,583.9 611,581.9 612.2,579.8 613.4,577.6 614.5,575.2 615.7,572.5 616.9,569.5 618,566.4 619.2,563.4 620.4,560.4 621.5,557.7 622.7,555.1 623.9,552.6 625.1,550.3 626.2,548 627.4,545.9 628.6,543.9 629.7,542.1 630.9,540.4 632.1,538.8 633.2,537.4 634.4,536 635.6,534.8 636.8,533.8 637.9,532.9 639.1,532 640.3,531.3 641.4,530.6 642.6,530 643.8,529.5 644.9,529 646.1,528.6 647.3,528.2 648.4,527.8 649.6,527.5 650.8,527.3 652,527 653.1,526.8 654.3,526.6 655.5,526.5 656.6,526.3 657.8,526.2 659,526.1 660.1,526 661.3,525.9 662.5,525.8 663.7,525.7 664.8,525.6 666,525.5 667.2,525.5 668.3,525.4 669.5,525.4 670.7,525.3 673,525.3 674.2,525.2 676.5,525.2 677.7,525.1 681.2,525.1" stroke="#e8262a" stroke-width="1.3"/>
<path d="M555,611.3 558.5,611.3 559.7,611.2 562,611.2 563.2,611.1 564.4,611.1 565.5,611 566.7,611 567.9,610.9 569,610.8 570.2,610.8 571.4,610.7 572.5,610.6 573.7,610.4 574.9,610.2 576.1,610 577.2,609.8 578.4,609.6 579.6,609.4 580.7,609.1 581.9,608.8 583.1,608.5 584.2,608.2 585.4,607.8 586.6,607.4 587.8,607 588.9,606.5 590.1,606 591.3,605.4 592.4,604.8 593.6,604 594.8,603.2 595.9,602.1 597.1,600.9 598.3,599.6 599.4,598.3 600.6,597.1 601.8,595.8 603,594.6 604.1,593.3 605.3,592 606.5,590.6 607.6,589.1 608.8,587.4 610,585.7 611.1,583.9 612.3,581.9 613.5,579.8 614.7,577.6 615.8,575.2 617,572.5 618.2,569.5 619.3,566.4 620.5,563.3 621.7,560.4 622.8,557.7 624,555.1 625.2,552.6 626.4,550.3 627.5,548.1 628.7,546 629.9,544.1 631,542.3 632.2,540.7 633.4,539.1 634.5,537.7 635.7,536.4 636.9,535.2 638.1,534.2 639.2,533.3 640.4,532.5 641.6,531.7 642.7,531.1 643.9,530.5 645.1,530 646.2,529.5 647.4,529.1 648.6,528.7 649.7,528.4 650.9,528.1 652.1,527.8 653.3,527.6 654.4,527.4 655.6,527.2 656.8,527 657.9,526.9 659.1,526.8 660.3,526.7 661.4,526.5 662.6,526.4 663.8,526.4 665,526.3 666.1,526.2 667.3,526.1 668.5,526.1 669.6,526 670.8,526 672,525.9 674.3,525.9 675.5,525.8 677.8,525.8 679,525.7 682.5,525.7" stroke="#000000" stroke-width="1.3"/>
<path d="M558.7,611.3 563.2,611.3 564.3,611.2 568.8,611.2 569.9,611.1 571.1,611.1 572.2,611 574.4,611 575.6,610.9 576.7,610.8 577.8,610.7 578.9,610.6 580.1,610.5 581.2,610.3 582.3,610.1 583.4,610 584.5,609.8 585.7,609.6 586.8,609.4 587.9,609.1 589,608.8 590.2,608.5 591.3,608.2 592.4,607.8 593.5,607.4 594.7,606.9 595.8,606.4 596.9,605.9 598,605.3 599.2,604.7 600.3,604 601.4,603.1 602.5,602 603.7,600.9 604.8,599.6 605.9,598.3 607,597 608.1,595.7 609.3,594.4 610.4,593.1 611.5,591.8 612.6,590.4 613.8,589 614.9,587.5 616,586 617.1,584.4 618.3,582.7 619.4,581 620.5,579.2 621.6,577.3 622.8,575.2 623.9,572.9 625,570.3 626.1,567.6 627.3,564.9 628.4,562.2 629.5,559.7 630.6,557.3 631.8,555.1 632.9,553.1 634,551.2 635.1,549.6 636.2,548 637.4,546.6 638.5,545.3 639.6,544.2 640.7,543.1 641.9,542.2 643,541.3 644.1,540.4 645.2,539.7 646.4,539 647.5,538.5 648.6,537.9 649.7,537.5 650.9,537.1 652,536.7 653.1,536.4 654.2,536.1 655.4,535.9 656.5,535.6 657.6,535.4 658.7,535.3 659.8,535.1 661,535 662.1,534.8 663.2,534.7 664.3,534.6 665.5,534.5 666.6,534.4 667.7,534.3 668.8,534.2 670,534.2 671.1,534.1 672.2,534.1 673.3,534 674.5,534 675.6,533.9 676.7,533.9 677.8,533.8 681.2,533.8" stroke="#1ad21a" stroke-width="1.3"/>
<path d="M560,611.3 564.5,611.3 565.6,611.2 570.1,611.2 571.2,611.1 572.4,611.1 573.5,611 575.7,611 576.9,610.9 578,610.8 579.1,610.7 580.2,610.6 581.4,610.5 582.5,610.3 583.6,610.1 584.7,610 585.8,609.8 587,609.6 588.1,609.4 589.2,609.1 590.3,608.8 591.5,608.5 592.6,608.2 593.7,607.8 594.8,607.4 596,606.9 597.1,606.4 598.2,605.9 599.3,605.3 600.5,604.7 601.6,604 602.7,603.1 603.8,602 605,600.9 606.1,599.6 607.2,598.3 608.3,597 609.4,595.7 610.6,594.4 611.7,593.1 612.8,591.8 613.9,590.4 615.1,589 616.2,587.5 617.3,586 618.4,584.4 619.6,582.7 620.7,581 621.8,579.2 622.9,577.3 624.1,575.2 625.2,572.9 626.3,570.3 627.4,567.6 628.6,564.9 629.7,562.3 630.8,559.8 631.9,557.5 633.1,555.4 634.2,553.5 635.3,551.7 636.4,550.2 637.5,548.8 638.7,547.5 639.8,546.3 640.9,545.2 642,544.2 643.2,543.3 644.3,542.5 645.4,541.8 646.5,541.1 647.7,540.4 648.8,539.9 649.9,539.4 651,539 652.2,538.7 653.3,538.3 654.4,538 655.5,537.8 656.7,537.5 657.8,537.3 658.9,537.1 660,537 661.1,536.8 662.3,536.7 663.4,536.5 664.5,536.4 665.6,536.3 666.8,536.2 667.9,536.1 669,536.1 670.1,536 671.3,535.9 672.4,535.9 673.5,535.8 674.6,535.8 675.8,535.7 678,535.7 679.1,535.6 682.5,535.6" stroke="#0b14dc" stroke-width="1.3"/>
<path d="M551.3,611.5 553.7,611.5 554.9,611.4 557.4,611.4 558.6,611.3 559.8,611.2 561,611.2 562.2,611.1 563.5,611 564.7,610.9 565.9,610.8 567.1,610.7 568.3,610.5 569.5,610.3 570.7,610.1 572,609.8 573.2,609.5 574.4,609.2 575.6,608.8 576.8,608.4 578,607.9 579.3,607.4 580.5,606.7 581.7,606 582.9,605.2 584.1,604.4 585.3,603.3 586.6,602.1 587.8,600.7 589,599.3 590.2,597.9 591.4,596.5 592.6,595 593.8,593.5 595.1,591.9 596.3,590.1 597.5,588.1 598.7,585.9 599.9,583.5 601.1,580.9 602.4,577.9 603.6,574.6 604.8,570.8 606,566.7 607.2,562.5 608.4,558.7 609.6,555.1 610.9,551.8 612.1,548.7 613.3,545.8 614.5,543.1 615.7,540.6 616.9,538.3 618.2,536.1 619.4,534.2 620.6,532.3 621.8,530.7 623,529.1 624.2,527.7 625.5,526.5 626.7,525.3 627.9,524.3 629.1,523.4 630.3,522.6 631.5,521.8 632.7,521.2 634,520.6 635.2,520.1 636.4,519.6 637.6,519.2 638.8,518.9 640,518.5 641.3,518.3 642.5,518 643.7,517.8 644.9,517.5 646.1,517.3 647.3,517.1 648.5,516.9 649.8,516.7 651,516.6 652.2,516.4 653.4,516.3 654.6,516.2 655.8,516.1 657.1,516 658.3,515.9 659.5,515.9 660.7,515.8 663.1,515.8 664.4,515.7 665.6,515.7 666.8,515.6 670.4,515.6 671.6,515.5 675.3,515.5 676.5,515.4 683.8,515.4" stroke="#e8262a" stroke-width="1.5" stroke-dasharray="1.2 1.3"/>
<path d="M550,611.3 552.4,611.3 553.6,611.2 556.1,611.2 557.3,611.1 558.5,611 559.7,611 560.9,610.9 562.2,610.8 563.4,610.7 564.6,610.6 565.8,610.5 567,610.3 568.2,610.1 569.4,609.9 570.7,609.6 571.9,609.3 573.1,609 574.3,608.6 575.5,608.2 576.7,607.7 578,607.2 579.2,606.5 580.4,605.8 581.6,605 582.8,604.2 584,603.1 585.3,601.9 586.5,600.5 587.7,599.1 588.9,597.7 590.1,596.3 591.3,594.8 592.5,593.3 593.8,591.7 595,589.9 596.2,587.9 597.4,585.7 598.6,583.3 599.8,580.7 601.1,577.7 602.3,574.4 603.5,570.6 604.7,566.5 605.9,562.3 607.1,558.5 608.3,554.9 609.6,551.6 610.8,548.5 612,545.6 613.2,542.9 614.4,540.4 615.6,538.1 616.9,535.9 618.1,534 619.3,532.1 620.5,530.5 621.7,528.9 622.9,527.5 624.2,526.3 625.4,525.1 626.6,524.1 627.8,523.2 629,522.4 630.2,521.6 631.4,521 632.7,520.4 633.9,519.9 635.1,519.4 636.3,519 637.5,518.7 638.7,518.3 640,518.1 641.2,517.8 642.4,517.6 643.6,517.3 644.8,517.1 646,516.9 647.2,516.7 648.5,516.5 649.7,516.4 650.9,516.2 652.1,516.1 653.3,516 654.5,515.9 655.8,515.8 657,515.7 658.2,515.7 659.4,515.6 661.8,515.6 663.1,515.5 664.3,515.5 665.5,515.4 669.1,515.4 670.3,515.3 674,515.3 675.2,515.2 682.5,515.2" stroke="#000000" stroke-width="1.5" stroke-dasharray="1.2 1.3"/>
<path d="M546.2,611.4 548.7,611.4 550,611.3 551.2,611.3 552.5,611.2 553.8,611.2 555,611.1 556.3,611 557.6,611 558.8,610.9 560.1,610.8 561.3,610.7 562.6,610.5 563.9,610.3 565.1,610.1 566.4,609.9 567.6,609.6 568.9,609.2 570.2,608.9 571.4,608.5 572.7,608 574,607.4 575.2,606.7 576.5,605.9 577.7,605 579,603.9 580.3,602.7 581.5,601.2 582.8,599.7 584,598.1 585.3,596.7 586.6,595.2 587.8,593.8 589.1,592.2 590.4,590.4 591.6,588.3 592.9,585.9 594.1,583.1 595.4,580.1 596.7,576.7 597.9,573.1 599.2,569 600.4,564.7 601.7,560.4 603,556.1 604.2,552.1 605.5,548.4 606.8,545.1 608,542 609.3,539.2 610.5,536.6 611.8,534.2 613.1,532.1 614.3,530.1 615.6,528.3 616.8,526.6 618.1,525.1 619.4,523.8 620.6,522.5 621.9,521.5 623.1,520.5 624.4,519.6 625.7,518.9 626.9,518.2 628.2,517.6 629.5,517.1 630.7,516.7 632,516.3 633.2,515.9 634.5,515.6 635.8,515.3 637,515.1 638.3,514.9 639.5,514.7 640.8,514.6 642.1,514.4 643.3,514.3 644.6,514.1 645.9,514 647.1,513.9 648.4,513.8 649.6,513.6 650.9,513.5 652.2,513.5 653.4,513.4 654.7,513.3 657.2,513.3 658.5,513.2 661,513.2 662.3,513.1 666,513.1 667.3,513 673.6,513 674.9,512.9 683.7,512.9" stroke="#1ad21a" stroke-width="1.5" stroke-dasharray="1.2 1.3"/>
<path d="M545,611.3 547.5,611.3 548.8,611.2 550,611.2 551.3,611.1 552.6,611.1 553.8,611 555.1,610.9 556.4,610.9 557.6,610.8 558.9,610.7 560.1,610.6 561.4,610.4 562.7,610.2 563.9,610 565.2,609.8 566.4,609.5 567.7,609.1 569,608.8 570.2,608.4 571.5,607.9 572.8,607.3 574,606.6 575.3,605.8 576.5,604.9 577.8,603.8 579.1,602.6 580.3,601.1 581.6,599.6 582.8,598 584.1,596.6 585.4,595.1 586.6,593.7 587.9,592.1 589.2,590.3 590.4,588.2 591.7,585.8 592.9,583 594.2,580 595.5,576.6 596.7,573 598,568.9 599.2,564.6 600.5,560.3 601.8,556 603,552 604.3,548.3 605.6,545 606.8,541.9 608.1,539.1 609.3,536.5 610.6,534.1 611.9,532 613.1,530 614.4,528.2 615.6,526.5 616.9,525 618.2,523.7 619.4,522.4 620.7,521.4 621.9,520.4 623.2,519.5 624.5,518.8 625.7,518.1 627,517.5 628.3,517 629.5,516.6 630.8,516.2 632,515.8 633.3,515.5 634.6,515.2 635.8,515 637.1,514.8 638.3,514.6 639.6,514.5 640.9,514.3 642.1,514.2 643.4,514 644.7,513.9 645.9,513.8 647.2,513.7 648.4,513.5 649.7,513.4 651,513.4 652.2,513.3 653.5,513.2 656,513.2 657.3,513.1 659.8,513.1 661.1,513 664.8,513 666.1,512.9 672.4,512.9 673.7,512.8 682.5,512.8" stroke="#0b14dc" stroke-width="1.5" stroke-dasharray="1.2 1.3"/>
</g>
<rect x="532.8" y="479.4" width="149.70" height="131.90" fill="none" stroke="#1a1a1a" stroke-width="1.1"/>
<line x1="570.22" y1="479.4" x2="570.22" y2="482.0" stroke="#000" stroke-width="1.25"/>
<line x1="570.22" y1="611.3" x2="570.22" y2="608.6999999999999" stroke="#000" stroke-width="1.25"/>
<line x1="607.65" y1="479.4" x2="607.65" y2="482.0" stroke="#000" stroke-width="1.25"/>
<line x1="607.65" y1="611.3" x2="607.65" y2="608.6999999999999" stroke="#000" stroke-width="1.25"/>
<line x1="645.08" y1="479.4" x2="645.08" y2="482.0" stroke="#000" stroke-width="1.25"/>
<line x1="645.08" y1="611.3" x2="645.08" y2="608.6999999999999" stroke="#000" stroke-width="1.25"/>
<line x1="532.8" y1="584.92" x2="535.4" y2="584.92" stroke="#000" stroke-width="1.25"/>
<line x1="682.5" y1="584.92" x2="679.9" y2="584.92" stroke="#000" stroke-width="1.25"/>
<line x1="532.8" y1="558.54" x2="535.4" y2="558.54" stroke="#000" stroke-width="1.25"/>
<line x1="682.5" y1="558.54" x2="679.9" y2="558.54" stroke="#000" stroke-width="1.25"/>
<line x1="532.8" y1="532.16" x2="535.4" y2="532.16" stroke="#000" stroke-width="1.25"/>
<line x1="682.5" y1="532.16" x2="679.9" y2="532.16" stroke="#000" stroke-width="1.25"/>
<line x1="532.8" y1="505.78" x2="535.4" y2="505.78" stroke="#000" stroke-width="1.25"/>
<line x1="682.5" y1="505.78" x2="679.9" y2="505.78" stroke="#000" stroke-width="1.25"/>
<text transform="translate(676.80,605.80) scale(0.83,1)" text-anchor="end" font-family='"Liberation Serif", serif' font-weight="bold" font-size="13.8">d(iv)</text>
<text transform="translate(47.80,9.0)" font-family='"Liberation Serif", serif' font-weight="bold" font-style="italic" font-size="11.8">η</text>
<text transform="translate(56.30,9.3) scale(1.05,1)" font-family='"Liberation Serif", serif' font-weight="bold" font-style="normal" font-size="12.2">=</text>
<text transform="translate(66.50,9.0) scale(0.92,1)" font-family='"Liberation Serif", serif' font-weight="bold" font-style="normal" font-size="12.2">0</text>
<text transform="translate(72.00,9.0)" font-family='"Liberation Serif", serif' font-weight="bold" font-style="normal" font-size="11.0">.</text>
<text transform="translate(76.10,9.0) scale(0.92,1)" font-family='"Liberation Serif", serif' font-weight="bold" font-style="normal" font-size="12.2">1</text>
<text transform="translate(81.60,9.0)" font-family='"Liberation Serif", serif' font-weight="bold" font-style="normal" font-size="11.4">,</text>
<text transform="translate(85.50,9.0) scale(0.72,1)" font-family='"Liberation Serif", serif' font-weight="bold" font-style="italic" font-size="12.0" stroke="#000" stroke-width="0.35">C</text>
<text transform="translate(91.30,10.7) scale(0.85,1)" font-family='"Liberation Serif", serif' font-weight="bold" font-style="italic" font-size="7.8">V</text>
<text transform="translate(99.30,9.3) scale(1.05,1)" font-family='"Liberation Serif", serif' font-weight="bold" font-style="normal" font-size="12.2">=</text>
<text transform="translate(109.30,9.0) scale(0.92,1)" font-family='"Liberation Serif", serif' font-weight="bold" font-style="normal" font-size="12.2">0</text>
<text transform="translate(114.60,9.0)" font-family='"Liberation Serif", serif' font-weight="bold" font-style="normal" font-size="11.0">.</text>
<text transform="translate(119.40,9.0) scale(0.92,1)" font-family='"Liberation Serif", serif' font-weight="bold" font-style="normal" font-size="12.2">9</text>
<text transform="translate(124.10,9.0)" font-family='"Liberation Serif", serif' font-weight="bold" font-style="normal" font-size="11.4">,</text>
<text transform="translate(128.30,9.0) scale(0.72,1)" font-family='"Liberation Serif", serif' font-weight="bold" font-style="italic" font-size="12.0" stroke="#000" stroke-width="0.35">C</text>
<text transform="translate(134.00,10.7)" font-family='"Liberation Serif", serif' font-weight="bold" font-style="italic" font-size="7.8">T</text>
<text transform="translate(141.80,9.3) scale(1.05,1)" font-family='"Liberation Serif", serif' font-weight="bold" font-style="normal" font-size="12.2">=</text>
<text transform="translate(151.60,9.0) scale(0.92,1)" font-family='"Liberation Serif", serif' font-weight="bold" font-style="normal" font-size="12.2">0</text>
<text transform="translate(157.70,9.0)" font-family='"Liberation Serif", serif' font-weight="bold" font-style="normal" font-size="11.0">.</text>
<text transform="translate(162.70,9.0) scale(0.92,1)" font-family='"Liberation Serif", serif' font-weight="bold" font-style="normal" font-size="12.2">9</text>
<text transform="translate(214.10,9.0)" font-family='"Liberation Serif", serif' font-weight="bold" font-style="italic" font-size="11.8">η</text>
<text transform="translate(222.60,9.3) scale(1.05,1)" font-family='"Liberation Serif", serif' font-weight="bold" font-style="normal" font-size="12.2">=</text>
<text transform="translate(232.80,9.0) scale(0.92,1)" font-family='"Liberation Serif", serif' font-weight="bold" font-style="normal" font-size="12.2">0</text>
<text transform="translate(238.30,9.0)" font-family='"Liberation Serif", serif' font-weight="bold" font-style="normal" font-size="11.0">.</text>
<text transform="translate(242.40,9.0) scale(0.92,1)" font-family='"Liberation Serif", serif' font-weight="bold" font-style="normal" font-size="12.2">5</text>
<text transform="translate(247.90,9.0)" font-family='"Liberation Serif", serif' font-weight="bold" font-style="normal" font-size="11.4">,</text>
<text transform="translate(251.80,9.0) scale(0.72,1)" font-family='"Liberation Serif", serif' font-weight="bold" font-style="italic" font-size="12.0" stroke="#000" stroke-width="0.35">C</text>
<text transform="translate(257.60,10.7) scale(0.85,1)" font-family='"Liberation Serif", serif' font-weight="bold" font-style="italic" font-size="7.8">V</text>
<text transform="translate(265.60,9.3) scale(1.05,1)" font-family='"Liberation Serif", serif' font-weight="bold" font-style="normal" font-size="12.2">=</text>
<text transform="translate(275.60,9.0) scale(0.92,1)" font-family='"Liberation Serif", serif' font-weight="bold" font-style="normal" font-size="12.2">0</text>
<text transform="translate(280.90,9.0)" font-family='"Liberation Serif", serif' font-weight="bold" font-style="normal" font-size="11.0">.</text>
<text transform="translate(285.70,9.0) scale(0.92,1)" font-family='"Liberation Serif", serif' font-weight="bold" font-style="normal" font-size="12.2">5</text>
<text transform="translate(290.40,9.0)" font-family='"Liberation Serif", serif' font-weight="bold" font-style="normal" font-size="11.4">,</text>
<text transform="translate(294.60,9.0) scale(0.72,1)" font-family='"Liberation Serif", serif' font-weight="bold" font-style="italic" font-size="12.0" stroke="#000" stroke-width="0.35">C</text>
<text transform="translate(300.30,10.7)" font-family='"Liberation Serif", serif' font-weight="bold" font-style="italic" font-size="7.8">T</text>
<text transform="translate(308.10,9.3) scale(1.05,1)" font-family='"Liberation Serif", serif' font-weight="bold" font-style="normal" font-size="12.2">=</text>
<text transform="translate(317.90,9.0) scale(0.92,1)" font-family='"Liberation Serif", serif' font-weight="bold" font-style="normal" font-size="12.2">0</text>
<text transform="translate(324.00,9.0)" font-family='"Liberation Serif", serif' font-weight="bold" font-style="normal" font-size="11.0">.</text>
<text transform="translate(329.00,9.0) scale(0.92,1)" font-family='"Liberation Serif", serif' font-weight="bold" font-style="normal" font-size="12.2">5</text>
<text transform="translate(381.50,9.0)" font-family='"Liberation Serif", serif' font-weight="bold" font-style="italic" font-size="11.8">η</text>
<text transform="translate(390.00,9.3) scale(1.05,1)" font-family='"Liberation Serif", serif' font-weight="bold" font-style="normal" font-size="12.2">=</text>
<text transform="translate(400.20,9.0) scale(0.92,1)" font-family='"Liberation Serif", serif' font-weight="bold" font-style="normal" font-size="12.2">0</text>
<text transform="translate(405.70,9.0)" font-family='"Liberation Serif", serif' font-weight="bold" font-style="normal" font-size="11.0">.</text>
<text transform="translate(409.80,9.0) scale(0.92,1)" font-family='"Liberation Serif", serif' font-weight="bold" font-style="normal" font-size="12.2">9</text>
<text transform="translate(415.30,9.0)" font-family='"Liberation Serif", serif' font-weight="bold" font-style="normal" font-size="11.4">,</text>
<text transform="translate(419.20,9.0) scale(0.72,1)" font-family='"Liberation Serif", serif' font-weight="bold" font-style="italic" font-size="12.0" stroke="#000" stroke-width="0.35">C</text>
<text transform="translate(425.00,10.7) scale(0.85,1)" font-family='"Liberation Serif", serif' font-weight="bold" font-style="italic" font-size="7.8">V</text>
<text transform="translate(433.00,9.3) scale(1.05,1)" font-family='"Liberation Serif", serif' font-weight="bold" font-style="normal" font-size="12.2">=</text>
<text transform="translate(443.00,9.0) scale(0.92,1)" font-family='"Liberation Serif", serif' font-weight="bold" font-style="normal" font-size="12.2">0</text>
<text transform="translate(448.30,9.0)" font-family='"Liberation Serif", serif' font-weight="bold" font-style="normal" font-size="11.0">.</text>
<text transform="translate(453.10,9.0) scale(0.92,1)" font-family='"Liberation Serif", serif' font-weight="bold" font-style="normal" font-size="12.2">9</text>
<text transform="translate(457.80,9.0)" font-family='"Liberation Serif", serif' font-weight="bold" font-style="normal" font-size="11.4">,</text>
<text transform="translate(462.00,9.0) scale(0.72,1)" font-family='"Liberation Serif", serif' font-weight="bold" font-style="italic" font-size="12.0" stroke="#000" stroke-width="0.35">C</text>
<text transform="translate(467.70,10.7)" font-family='"Liberation Serif", serif' font-weight="bold" font-style="italic" font-size="7.8">T</text>
<text transform="translate(475.50,9.3) scale(1.05,1)" font-family='"Liberation Serif", serif' font-weight="bold" font-style="normal" font-size="12.2">=</text>
<text transform="translate(485.30,9.0) scale(0.92,1)" font-family='"Liberation Serif", serif' font-weight="bold" font-style="normal" font-size="12.2">0</text>
<text transform="translate(491.40,9.0)" font-family='"Liberation Serif", serif' font-weight="bold" font-style="normal" font-size="11.0">.</text>
<text transform="translate(496.40,9.0) scale(0.92,1)" font-family='"Liberation Serif", serif' font-weight="bold" font-style="normal" font-size="12.2">9</text>
<text transform="translate(548.00,9.0)" font-family='"Liberation Serif", serif' font-weight="bold" font-style="italic" font-size="11.8">η</text>
<text transform="translate(556.50,9.3) scale(1.05,1)" font-family='"Liberation Serif", serif' font-weight="bold" font-style="normal" font-size="12.2">=</text>
<text transform="translate(566.70,9.0) scale(0.92,1)" font-family='"Liberation Serif", serif' font-weight="bold" font-style="normal" font-size="12.2">0</text>
<text transform="translate(572.20,9.0)" font-family='"Liberation Serif", serif' font-weight="bold" font-style="normal" font-size="11.0">.</text>
<text transform="translate(576.30,9.0) scale(0.92,1)" font-family='"Liberation Serif", serif' font-weight="bold" font-style="normal" font-size="12.2">9</text>
<text transform="translate(581.80,9.0)" font-family='"Liberation Serif", serif' font-weight="bold" font-style="normal" font-size="11.4">,</text>
<text transform="translate(585.70,9.0) scale(0.72,1)" font-family='"Liberation Serif", serif' font-weight="bold" font-style="italic" font-size="12.0" stroke="#000" stroke-width="0.35">C</text>
<text transform="translate(591.50,10.7) scale(0.85,1)" font-family='"Liberation Serif", serif' font-weight="bold" font-style="italic" font-size="7.8">V</text>
<text transform="translate(599.50,9.3) scale(1.05,1)" font-family='"Liberation Serif", serif' font-weight="bold" font-style="normal" font-size="12.2">=</text>
<text transform="translate(609.50,9.0) scale(0.92,1)" font-family='"Liberation Serif", serif' font-weight="bold" font-style="normal" font-size="12.2">0</text>
<text transform="translate(614.80,9.0)" font-family='"Liberation Serif", serif' font-weight="bold" font-style="normal" font-size="11.0">.</text>
<text transform="translate(619.60,9.0) scale(0.92,1)" font-family='"Liberation Serif", serif' font-weight="bold" font-style="normal" font-size="12.2">1</text>
<text transform="translate(624.30,9.0)" font-family='"Liberation Serif", serif' font-weight="bold" font-style="normal" font-size="11.4">,</text>
<text transform="translate(628.50,9.0) scale(0.72,1)" font-family='"Liberation Serif", serif' font-weight="bold" font-style="italic" font-size="12.0" stroke="#000" stroke-width="0.35">C</text>
<text transform="translate(634.20,10.7)" font-family='"Liberation Serif", serif' font-weight="bold" font-style="italic" font-size="7.8">T</text>
<text transform="translate(642.00,9.3) scale(1.05,1)" font-family='"Liberation Serif", serif' font-weight="bold" font-style="normal" font-size="12.2">=</text>
<text transform="translate(651.80,9.0) scale(0.92,1)" font-family='"Liberation Serif", serif' font-weight="bold" font-style="normal" font-size="12.2">0</text>
<text transform="translate(657.90,9.0)" font-family='"Liberation Serif", serif' font-weight="bold" font-style="normal" font-size="11.0">.</text>
<text transform="translate(662.90,9.0) scale(0.92,1)" font-family='"Liberation Serif", serif' font-weight="bold" font-style="normal" font-size="12.2">1</text>
<text transform="translate(10.8,84.30) scale(0.8,1) rotate(-90)" text-anchor="middle" font-family='"Liberation Serif", serif' font-weight="bold" font-size="13.9">Infected human</text>
<text transform="translate(10.8,242.20) scale(0.8,1) rotate(-90)" text-anchor="middle" font-family='"Liberation Serif", serif' font-weight="bold" font-size="13.9">Vaccinated human</text>
<text transform="translate(10.8,394.90) scale(0.8,1) rotate(-90)" text-anchor="middle" font-family='"Liberation Serif", serif' font-weight="bold" font-size="13.9">Treated human</text>
<text transform="translate(10.8,550.80) scale(0.8,1) rotate(-90)" text-anchor="middle" font-family='"Liberation Serif", serif' font-weight="bold" font-size="13.9">Recovered human</text>
<line x1="124" y1="24.90" x2="138" y2="24.90" stroke="#e8262a" stroke-width="1.7"/>
<text transform="translate(139.4,27.60) scale(0.93,1)" font-family='"Liberation Sans", sans-serif' font-size="7.4" stroke="#000" stroke-width="0.2">BA(h)-BA(r)</text>
<line x1="124" y1="34.86" x2="138" y2="34.86" stroke="#000000" stroke-width="1.7"/>
<text transform="translate(139.4,37.56) scale(0.93,1)" font-family='"Liberation Sans", sans-serif' font-size="7.4" stroke="#000" stroke-width="0.2">ER(h)-BA(r)</text>
<line x1="124" y1="44.82" x2="138" y2="44.82" stroke="#1ad21a" stroke-width="1.7"/>
<text transform="translate(139.4,47.52) scale(0.93,1)" font-family='"Liberation Sans", sans-serif' font-size="7.4" stroke="#000" stroke-width="0.2">BA(h)-ER(r)</text>
<line x1="124" y1="54.78" x2="138" y2="54.78" stroke="#0b14dc" stroke-width="1.7"/>
<text transform="translate(139.4,57.48) scale(0.93,1)" font-family='"Liberation Sans", sans-serif' font-size="7.4" stroke="#000" stroke-width="0.2">ER(h)-ER(r)</text>
<line x1="124" y1="64.74" x2="138" y2="64.74" stroke="#e8262a" stroke-width="1.6" stroke-dasharray="1.1 1.1"/>
<text transform="translate(139.4,67.44) scale(0.93,1)" font-family='"Liberation Sans", sans-serif' font-size="7.4" stroke="#000" stroke-width="0.2">BA(h)-BA(r)</text>
<line x1="124" y1="74.70" x2="138" y2="74.70" stroke="#000000" stroke-width="1.6" stroke-dasharray="1.1 1.1"/>
<text transform="translate(139.4,77.40) scale(0.93,1)" font-family='"Liberation Sans", sans-serif' font-size="7.4" stroke="#000" stroke-width="0.2">ER(h)-BA(r)</text>
<line x1="124" y1="84.66" x2="138" y2="84.66" stroke="#1ad21a" stroke-width="1.6" stroke-dasharray="1.1 1.1"/>
<text transform="translate(139.4,87.36) scale(0.93,1)" font-family='"Liberation Sans", sans-serif' font-size="7.4" stroke="#000" stroke-width="0.2">BA(h)-ER(r)</text>
<line x1="124" y1="94.62" x2="138" y2="94.62" stroke="#0b14dc" stroke-width="1.6" stroke-dasharray="1.1 1.1"/>
<text transform="translate(139.4,97.32) scale(0.93,1)" font-family='"Liberation Sans", sans-serif' font-size="7.4" stroke="#000" stroke-width="0.2">ER(h)-ER(r)</text>
<text transform="translate(441.25,35.40) scale(1.2,1)" font-family='"Liberation Serif", serif' font-weight="bold" font-size="12.3">&lt;</text>
<text x="453.40" y="34.60" font-family='"Liberation Serif", serif' font-weight="bold" font-style="italic" font-size="13.2">k</text>
<text transform="translate(463.75,35.40) scale(1.2,1)" font-family='"Liberation Serif", serif' font-weight="bold" font-size="12.3">&gt;</text>
<text transform="translate(472.60,35.40) scale(1.2,1)" font-family='"Liberation Serif", serif' font-weight="bold" font-size="12.3">=</text>
<text transform="translate(482.90,34.60) scale(1.25,1)" font-family='"Liberation Serif", serif' font-weight="bold" font-size="12.8">1</text>
<text transform="translate(491.00,34.60) scale(1.05,1)" font-family='"Liberation Serif", serif' font-weight="bold" font-size="12.8">6</text>
<text transform="translate(457.25,75.50) scale(1.2,1)" font-family='"Liberation Serif", serif' font-weight="bold" font-size="12.3">&lt;</text>
<text x="469.40" y="74.70" font-family='"Liberation Serif", serif' font-weight="bold" font-style="italic" font-size="13.2">k</text>
<text transform="translate(479.75,75.50) scale(1.2,1)" font-family='"Liberation Serif", serif' font-weight="bold" font-size="12.3">&gt;</text>
<text transform="translate(488.60,75.50) scale(1.2,1)" font-family='"Liberation Serif", serif' font-weight="bold" font-size="12.3">=</text>
<text transform="translate(500.60,74.70) scale(1.1,1)" font-family='"Liberation Serif", serif' font-weight="bold" font-size="12.8">8</text>
<g stroke="#000" stroke-width="1.7" fill="none" stroke-linecap="round" stroke-linejoin="miter">
<path d="M423.8,51.5 L449.2,41.3 M442.5,39.6 L449.2,41.3 L444.9,47.1"/>
<path d="M449.1,97.1 L467.7,79.9 M460.6,81.5 L467.7,79.9 L465.3,87.2"/>
</g>
<g stroke="#000" stroke-width="1.9" fill="none">
<path d="M195.5,623.3 L195.5,629.2 L522.3,629.2 L522.3,623.3"/>
<path d="M277.20,623.3 L277.20,629.2"/>
<path d="M358.90,623.3 L358.90,629.2"/>
<path d="M440.60,623.3 L440.60,629.2"/>
</g>
<text transform="translate(195.50,648.4) scale(0.87,1)" text-anchor="middle" font-family='"Liberation Sans", sans-serif' font-weight="bold" font-size="16.8">0</text>
<text transform="translate(277.20,648.4) scale(0.87,1)" text-anchor="middle" font-family='"Liberation Sans", sans-serif' font-weight="bold" font-size="16.8">50</text>
<text transform="translate(358.90,648.4) scale(0.87,1)" text-anchor="middle" font-family='"Liberation Sans", sans-serif' font-weight="bold" font-size="16.8">100</text>
<text transform="translate(440.60,648.4) scale(0.87,1)" text-anchor="middle" font-family='"Liberation Sans", sans-serif' font-weight="bold" font-size="16.8">150</text>
<text transform="translate(522.30,648.4) scale(0.87,1)" text-anchor="middle" font-family='"Liberation Sans", sans-serif' font-weight="bold" font-size="16.8">200</text>
<text transform="translate(357.8,666.3) scale(0.865,1)" text-anchor="middle" font-family='"Liberation Serif", serif' font-weight="bold" font-size="13.6">Time (Days)</text>
</svg></body></html>
